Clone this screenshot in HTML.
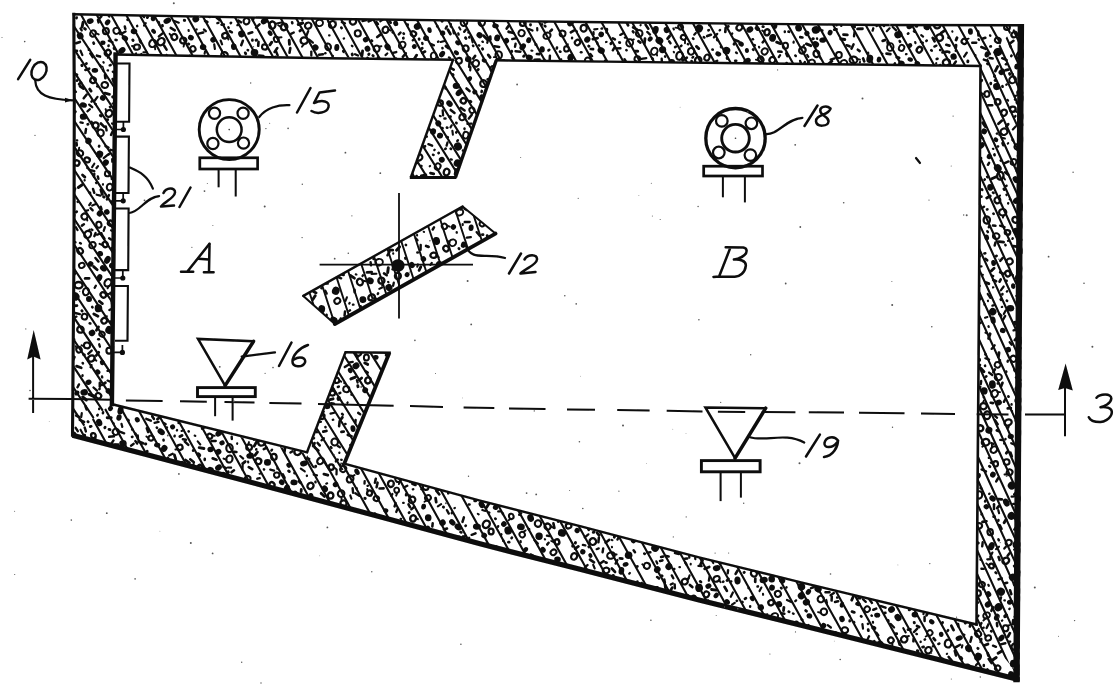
<!DOCTYPE html>
<html><head><meta charset="utf-8"><title>Fig</title>
<style>html,body{margin:0;padding:0;background:#fff;font-family:"Liberation Sans",sans-serif;}svg{display:block}</style>
</head><body>
<svg width="1114" height="686" viewBox="0 0 1114 686">
<defs>
<clipPath id="cw"><path clip-rule="evenodd" d="M73.8,14.3 L335.0,19.0 L605.0,22.3 L880.0,25.0 L1024.0,25.2 L1021.8,330.0 L1019.6,681.5 L800.0,626.9 L700.0,602.2 L580.0,571.3 L480.0,545.8 L380.0,518.8 L280.0,492.0 L150.0,457.5 L72.5,437.2 L74.0,250.0 L74.3,100.0 Z M115.0,54.5 L330.0,58.3 L453.0,59.8 L410.8,177.5 L455.4,177.5 L496.3,60.3 L605.0,61.6 L880.0,64.8 L980.5,66.0 L978.8,330.0 L976.5,624.5 L800.0,582.1 L700.0,557.6 L580.0,526.1 L480.0,500.6 L344.3,463.6 L389.4,352.8 L345.5,352.3 L307.0,452.3 L111.3,404.0 L112.9,250.0 Z"/></clipPath>
<clipPath id="cb"><path d="M303.3,295.9 L462.6,206.5 L495.5,233.6 L334.8,324.0 Z"/></clipPath>
<clipPath id="rt"><path d="M60.0,0.0 L1040.0,0.0 L980.5,66.0 L115.0,54.5 Z"/></clipPath>
<clipPath id="rl"><path d="M60.0,0.0 L115.0,54.5 L111.3,404.0 L60.0,445.0 Z"/></clipPath>
<clipPath id="rr"><path d="M1040.0,0.0 L1040.0,700.0 L976.5,624.5 L980.5,66.0 Z"/></clipPath>
<clipPath id="rf"><path d="M60.0,445.0 L111.3,404.0 L976.5,624.5 L1040.0,700.0 Z"/></clipPath>
<filter id="bl" x="0" y="0" width="100%" height="100%" filterUnits="userSpaceOnUse"><feGaussianBlur stdDeviation="0.55"/></filter>
</defs>
<rect width="1114" height="686" fill="#fff"/>
<g filter="url(#bl)">
<g clip-path="url(#cw)"><g clip-path="url(#rt)" stroke="#0a0a0a" stroke-width="2.1" fill="none">
<path d="M-51.0,0 L59.9,200 M-34.4,0 L76.5,200 M-20.2,0 L90.7,200 M-5.4,0 L105.4,200 M10.9,0 L121.8,200 M25.7,0 L136.5,200 M40.5,0 L151.3,200 M58.0,0 L168.8,200 M72.9,0 L183.7,200 M88.5,0 L199.4,200 M102.9,0 L213.7,200 M117.9,0 L228.8,200 M131.3,0 L242.2,200 M145.6,0 L256.5,200 M161.8,0 L272.7,200 M178.1,0 L289.0,200 M193.7,0 L304.6,200 M209.3,0 L320.2,200 M225.4,0 L336.3,200 M241.5,0 L352.4,200 M256.0,0 L366.9,200 M270.6,0 L381.5,200 M286.0,0 L396.9,200 M301.3,0 L412.2,200 M316.6,0 L427.5,200 M330.4,0 L441.3,200 M347.2,0 L458.1,200 M362.6,0 L473.5,200 M375.5,0 L486.3,200 M392.8,0 L503.7,200 M405.9,0 L516.7,200 M422.9,0 L533.7,200 M436.8,0 L547.6,200 M451.4,0 L562.3,200 M467.3,0 L578.2,200 M481.3,0 L592.2,200 M495.6,0 L606.4,200 M511.3,0 L622.2,200 M526.9,0 L637.8,200 M542.2,0 L653.1,200 M558.8,0 L669.7,200 M573.2,0 L684.1,200 M589.2,0 L700.1,200 M605.8,0 L716.7,200 M619.7,0 L730.5,200 M636.4,0 L747.3,200 M652.5,0 L763.3,200 M666.2,0 L777.1,200 M680.0,0 L790.9,200 M695.9,0 L806.7,200 M711.7,0 L822.6,200 M728.3,0 L839.2,200 M742.6,0 L853.5,200 M757.9,0 L868.7,200 M774.1,0 L885.0,200 M788.6,0 L899.4,200 M804.3,0 L915.2,200 M819.4,0 L930.2,200 M837.4,0 L948.3,200 M851.8,0 L962.7,200 M865.3,0 L976.1,200 M882.2,0 L993.0,200 M898.0,0 L1008.9,200 M914.9,0 L1025.7,200 M928.7,0 L1039.5,200 M944.2,0 L1055.1,200 M960.1,0 L1070.9,200 M976.4,0 L1087.2,200 M991.9,0 L1102.7,200 M1004.3,0 L1115.1,200 M1020.1,0 L1130.9,200 M1033.7,0 L1144.5,200 "/></g></g>
<g clip-path="url(#cw)"><g clip-path="url(#rl)" stroke="#0a0a0a" stroke-width="2.1" fill="none">
<path d="M-244.3,0 L60.2,460 M-230.3,0 L74.2,460 M-212.5,0 L92.0,460 M-197.4,0 L107.1,460 M-183.1,0 L121.4,460 M-169.1,0 L135.4,460 M-151.1,0 L153.4,460 M-136.2,0 L168.3,460 M-119.4,0 L185.1,460 M-103.8,0 L200.7,460 M-87.8,0 L216.7,460 M-70.7,0 L233.8,460 M-54.3,0 L250.1,460 M-38.3,0 L266.2,460 M-23.0,0 L281.5,460 M-5.8,0 L298.7,460 M9.3,0 L313.8,460 M26.5,0 L331.0,460 M41.5,0 L346.0,460 M56.5,0 L361.0,460 M71.0,0 L375.4,460 M88.9,0 L393.4,460 M104.6,0 L409.0,460 M119.7,0 L424.2,460 "/></g></g>
<g clip-path="url(#cw)"><g clip-path="url(#rr)" stroke="#0a0a0a" stroke-width="2.1" fill="none">
<path d="M640.8,0 L959.9,700 M651.4,0 L970.4,700 M662.5,0 L981.5,700 M674.4,0 L993.4,700 M684.9,0 L1003.9,700 M695.3,0 L1014.3,700 M706.0,0 L1025.0,700 M715.6,0 L1034.6,700 M726.3,0 L1045.4,700 M737.8,0 L1056.8,700 M747.7,0 L1066.7,700 M759.0,0 L1078.0,700 M769.7,0 L1088.7,700 M781.6,0 L1100.6,700 M793.3,0 L1112.3,700 M802.9,0 L1121.9,700 M812.0,0 L1131.0,700 M824.3,0 L1143.3,700 M835.4,0 L1154.4,700 M846.1,0 L1165.1,700 M856.3,0 L1175.3,700 M865.8,0 L1184.8,700 M877.2,0 L1196.2,700 M887.0,0 L1206.0,700 M900.0,0 L1219.0,700 M908.3,0 L1227.3,700 M919.7,0 L1238.7,700 M928.8,0 L1247.8,700 M938.6,0 L1257.6,700 M949.2,0 L1268.2,700 M960.0,0 L1279.0,700 M970.4,0 L1289.4,700 M978.7,0 L1297.7,700 M989.4,0 L1308.4,700 M999.8,0 L1318.9,700 M1011.2,0 L1330.3,700 M1022.6,0 L1341.7,700 M1032.0,0 L1351.0,700 "/></g></g>
<g clip-path="url(#cw)"><g clip-path="url(#rf)" stroke="#0a0a0a" stroke-width="2.1" fill="none">
<path d="M-118.6,380 L58.8,700 M-99.9,380 L77.4,700 M-84.8,380 L92.6,700 M-67.1,380 L110.3,700 M-50.3,380 L127.1,700 M-33.2,380 L144.2,700 M-14.2,380 L163.1,700 M1.8,380 L179.2,700 M17.4,380 L194.8,700 M35.5,380 L212.9,700 M52.9,380 L230.3,700 M71.3,380 L248.6,700 M89.1,380 L266.5,700 M105.3,380 L282.7,700 M121.8,380 L299.2,700 M139.4,380 L316.8,700 M155.9,380 L333.3,700 M175.7,380 L353.1,700 M192.8,380 L370.1,700 M209.9,380 L387.3,700 M229.2,380 L406.6,700 M244.0,380 L421.4,700 M262.0,380 L439.3,700 M279.5,380 L456.8,700 M296.1,380 L473.5,700 M312.0,380 L489.4,700 M327.1,380 L504.5,700 M344.4,380 L521.7,700 M361.4,380 L538.8,700 M379.7,380 L557.1,700 M397.4,380 L574.8,700 M414.4,380 L591.8,700 M428.7,380 L606.1,700 M445.9,380 L623.3,700 M464.3,380 L641.7,700 M481.8,380 L659.2,700 M497.7,380 L675.1,700 M515.7,380 L693.1,700 M532.1,380 L709.5,700 M551.8,380 L729.2,700 M567.9,380 L745.3,700 M584.1,380 L761.5,700 M601.3,380 L778.7,700 M618.0,380 L795.4,700 M633.7,380 L811.1,700 M651.8,380 L829.2,700 M669.1,380 L846.5,700 M684.7,380 L862.1,700 M702.5,380 L879.9,700 M718.9,380 L896.2,700 M735.4,380 L912.8,700 M753.9,380 L931.3,700 M771.1,380 L948.5,700 M787.0,380 L964.3,700 M806.0,380 L983.4,700 M821.8,380 L999.1,700 M836.2,380 L1013.6,700 M853.7,380 L1031.1,700 M869.5,380 L1046.9,700 M886.2,380 L1063.6,700 M903.8,380 L1081.2,700 M921.1,380 L1098.5,700 M938.1,380 L1115.5,700 M954.6,380 L1131.9,700 M971.7,380 L1149.1,700 M987.1,380 L1164.5,700 M1005.5,380 L1182.9,700 M1023.1,380 L1200.4,700 M1040.3,380 L1217.7,700 "/></g></g>
<clipPath id="pt"><path d="M453.0,59.8 L410.8,177.5 L455.4,177.5 L496.3,60.3 Z"/></clipPath>
<clipPath id="pb"><path d="M345.5,352.3 L307.0,452.3 L307.0,466.3 L348.3,477.6 L344.3,463.6 L389.4,352.8 Z"/></clipPath>
<g clip-path="url(#cw)"><g clip-path="url(#pt)" stroke="#0a0a0a" stroke-width="2.1" fill="none">
<path d="M319.3,50 L400.6,180 M335.0,50 L416.2,180 M347.6,50 L428.9,180 M362.9,50 L444.1,180 M380.2,50 L461.4,180 M392.3,50 L473.5,180 M407.4,50 L488.6,180 M422.3,50 L503.5,180 M436.5,50 L517.7,180 M449.2,50 L530.4,180 M463.2,50 L544.4,180 M478.6,50 L559.8,180 M494.7,50 L576.0,180 "/></g></g>
<g clip-path="url(#cw)"><g clip-path="url(#pb)" stroke="#0a0a0a" stroke-width="2.1" fill="none">
<path d="M221.9,345 L300.0,470 M237.0,345 L315.1,470 M251.2,345 L329.3,470 M264.5,345 L342.6,470 M278.9,345 L357.0,470 M293.5,345 L371.6,470 M306.2,345 L384.4,470 M321.6,345 L399.7,470 M337.5,345 L415.6,470 M348.9,345 L427.1,470 M365.5,345 L443.6,470 M380.3,345 L458.4,470 "/></g></g>
<g clip-path="url(#cb)"><g stroke="#0a0a0a" stroke-width="1.9" fill="none">
<path d="M246.3,190 L295.0,340 M261.9,190 L310.6,340 M276.2,190 L324.9,340 M291.2,190 L339.9,340 M308.2,190 L356.9,340 M321.8,190 L370.5,340 M337.2,190 L386.0,340 M352.4,190 L401.2,340 M368.3,190 L417.0,340 M384.6,190 L433.4,340 M399.7,190 L448.5,340 M416.4,190 L465.1,340 M430.6,190 L479.4,340 M448.8,190 L497.6,340 M465.4,190 L514.1,340 M480.8,190 L529.6,340 M496.9,190 L545.6,340 "/></g></g>
<g clip-path="url(#cw)" stroke="#0a0a0a" fill="none" stroke-linecap="round">
<ellipse cx="760.8" cy="59.4" rx="2.8" ry="2.5" stroke-width="2.3" transform="rotate(59 760.8 59.4)"/>
<path d="M758.2,60.3 l-2.3,-0.6" stroke-width="1.9"/>
<ellipse cx="80.1" cy="251.0" rx="3.0" ry="2.7" stroke-width="2.1" transform="rotate(52 80.1 251.0)"/>
<ellipse cx="1007.0" cy="27.3" rx="2.9" ry="2.6" stroke-width="2.1" transform="rotate(2 1007.0 27.3)"/>
<ellipse cx="994.6" cy="393.7" rx="3.2" ry="3.8" stroke-width="2.0" transform="rotate(31 994.6 393.7)"/>
<path d="M997.3,392.0 l2.7,0.1" stroke-width="1.9"/>
<ellipse cx="843.9" cy="63.2" rx="3.1" ry="3.4" stroke-width="2.0" transform="rotate(83 843.9 63.2)"/>
<path d="M846.5,64.9 l0.9,2.1" stroke-width="1.9"/>
<ellipse cx="654.3" cy="51.3" rx="3.1" ry="3.7" stroke-width="1.9" transform="rotate(30 654.3 51.3)"/>
<path d="M656.6,53.4 l0.5,2.1" stroke-width="1.9"/>
<ellipse cx="341.1" cy="493.6" rx="3.2" ry="3.4" stroke-width="2.1" transform="rotate(35 341.1 493.6)"/>
<ellipse cx="353.0" cy="21.4" rx="3.1" ry="3.2" stroke-width="2.3" transform="rotate(65 353.0 21.4)"/>
<ellipse cx="304.2" cy="40.7" rx="3.3" ry="3.6" stroke-width="2.3" transform="rotate(81 304.2 40.7)"/>
<path d="M304.1,44.0 l-2.1,2.7" stroke-width="1.9"/>
<ellipse cx="785.4" cy="45.7" rx="2.6" ry="3.0" stroke-width="2.0" transform="rotate(4 785.4 45.7)"/>
<ellipse cx="1015.3" cy="646.7" rx="3.2" ry="3.8" stroke-width="2.3" transform="rotate(72 1015.3 646.7)"/>
<ellipse cx="1000.3" cy="175.8" rx="3.2" ry="3.9" stroke-width="2.3" transform="rotate(7 1000.3 175.8)"/>
<path d="M1003.3,177.0 l1.7,2.6" stroke-width="1.9"/>
<ellipse cx="1005.8" cy="560.8" rx="2.9" ry="3.5" stroke-width="2.4" transform="rotate(57 1005.8 560.8)"/>
<ellipse cx="264.7" cy="47.0" rx="2.7" ry="2.6" stroke-width="2.1" transform="rotate(7 264.7 47.0)"/>
<ellipse cx="107.8" cy="52.8" rx="2.6" ry="3.1" stroke-width="2.3" transform="rotate(51 107.8 52.8)"/>
<path d="M108.5,55.3 l-0.8,2.5" stroke-width="1.9"/>
<ellipse cx="587.8" cy="60.7" rx="3.0" ry="3.3" stroke-width="2.0" transform="rotate(0 587.8 60.7)"/>
<ellipse cx="811.4" cy="63.1" rx="3.2" ry="3.8" stroke-width="2.0" transform="rotate(53 811.4 63.1)"/>
<ellipse cx="273.9" cy="456.9" rx="3.0" ry="2.7" stroke-width="2.3" transform="rotate(85 273.9 456.9)"/>
<ellipse cx="412.1" cy="499.9" rx="3.0" ry="3.4" stroke-width="2.2" transform="rotate(45 412.1 499.9)"/>
<path d="M410.1,497.6 l-0.2,-2.5" stroke-width="1.9"/>
<ellipse cx="948.1" cy="643.6" rx="3.3" ry="3.9" stroke-width="2.2" transform="rotate(6 948.1 643.6)"/>
<ellipse cx="91.3" cy="358.5" rx="3.0" ry="3.5" stroke-width="2.4" transform="rotate(59 91.3 358.5)"/>
<path d="M94.2,358.8 l2.2,1.9" stroke-width="1.9"/>
<ellipse cx="993.9" cy="449.6" rx="3.0" ry="3.6" stroke-width="2.2" transform="rotate(46 993.9 449.6)"/>
<path d="M992.0,447.2 l-0.1,-2.5" stroke-width="1.9"/>
<ellipse cx="838.9" cy="55.0" rx="2.9" ry="3.0" stroke-width="2.0" transform="rotate(4 838.9 55.0)"/>
<ellipse cx="592.8" cy="541.6" rx="3.3" ry="3.4" stroke-width="2.3" transform="rotate(50 592.8 541.6)"/>
<ellipse cx="774.6" cy="616.2" rx="2.9" ry="3.6" stroke-width="1.9" transform="rotate(72 774.6 616.2)"/>
<path d="M774.2,619.1 l-2.1,2.2" stroke-width="1.9"/>
<ellipse cx="151.0" cy="438.1" rx="2.6" ry="2.5" stroke-width="2.1" transform="rotate(15 151.0 438.1)"/>
<path d="M148.4,438.0 l-2.0,-1.6" stroke-width="1.9"/>
<ellipse cx="568.6" cy="525.9" rx="2.5" ry="2.8" stroke-width="2.2" transform="rotate(73 568.6 525.9)"/>
<ellipse cx="995.7" cy="463.8" rx="2.7" ry="2.3" stroke-width="2.1" transform="rotate(88 995.7 463.8)"/>
<path d="M993.0,464.0 l-2.4,-1.4" stroke-width="1.9"/>
<ellipse cx="867.1" cy="609.2" rx="2.7" ry="2.9" stroke-width="1.9" transform="rotate(44 867.1 609.2)"/>
<ellipse cx="985.6" cy="442.3" rx="3.3" ry="3.8" stroke-width="2.3" transform="rotate(76 985.6 442.3)"/>
<path d="M984.4,445.3 l-2.1,1.4" stroke-width="1.9"/>
<ellipse cx="472.0" cy="110.2" rx="2.8" ry="2.6" stroke-width="1.9" transform="rotate(68 472.0 110.2)"/>
<ellipse cx="179.8" cy="447.4" rx="2.6" ry="2.8" stroke-width="2.2" transform="rotate(77 179.8 447.4)"/>
<path d="M177.8,449.2 l-2.4,0.3" stroke-width="1.9"/>
<ellipse cx="104.8" cy="85.0" rx="3.3" ry="2.9" stroke-width="2.1" transform="rotate(8 104.8 85.0)"/>
<ellipse cx="295.1" cy="494.0" rx="2.5" ry="2.2" stroke-width="2.0" transform="rotate(58 295.1 494.0)"/>
<ellipse cx="368.0" cy="380.4" rx="2.8" ry="3.1" stroke-width="2.4" transform="rotate(26 368.0 380.4)"/>
<ellipse cx="80.4" cy="329.6" rx="3.2" ry="3.1" stroke-width="2.3" transform="rotate(11 80.4 329.6)"/>
<ellipse cx="983.5" cy="406.2" rx="3.1" ry="3.3" stroke-width="2.2" transform="rotate(88 983.5 406.2)"/>
<path d="M982.8,403.1 l1.1,-2.6" stroke-width="1.9"/>
<ellipse cx="81.8" cy="265.4" rx="2.5" ry="2.9" stroke-width="1.9" transform="rotate(63 81.8 265.4)"/>
<ellipse cx="458.9" cy="60.8" rx="2.9" ry="3.0" stroke-width="2.0" transform="rotate(83 458.9 60.8)"/>
<ellipse cx="464.0" cy="22.4" rx="3.2" ry="3.6" stroke-width="2.0" transform="rotate(22 464.0 22.4)"/>
<ellipse cx="1008.7" cy="542.7" rx="2.8" ry="3.2" stroke-width="2.2" transform="rotate(52 1008.7 542.7)"/>
<ellipse cx="87.7" cy="234.4" rx="3.2" ry="3.8" stroke-width="2.2" transform="rotate(37 87.7 234.4)"/>
<path d="M88.1,231.3 l1.7,-1.9" stroke-width="1.9"/>
<ellipse cx="557.0" cy="541.9" rx="2.7" ry="2.3" stroke-width="2.4" transform="rotate(75 557.0 541.9)"/>
<path d="M554.3,542.4 l-3.1,-1.4" stroke-width="1.9"/>
<ellipse cx="1013.4" cy="358.8" rx="3.1" ry="3.0" stroke-width="2.1" transform="rotate(37 1013.4 358.8)"/>
<path d="M1016.0,360.3 l0.9,1.8" stroke-width="1.9"/>
<ellipse cx="753.9" cy="573.5" rx="3.2" ry="2.9" stroke-width="2.2" transform="rotate(52 753.9 573.5)"/>
<path d="M756.9,572.5 l2.4,0.7" stroke-width="1.9"/>
<ellipse cx="100.6" cy="133.0" rx="3.2" ry="3.4" stroke-width="2.0" transform="rotate(3 100.6 133.0)"/>
<path d="M98.3,130.8 l-0.6,-2.7" stroke-width="1.9"/>
<ellipse cx="683.5" cy="37.4" rx="2.7" ry="2.4" stroke-width="2.1" transform="rotate(25 683.5 37.4)"/>
<path d="M685.0,39.7 l-0.0,3.5" stroke-width="1.9"/>
<ellipse cx="987.1" cy="415.3" rx="3.2" ry="3.9" stroke-width="2.2" transform="rotate(6 987.1 415.3)"/>
<ellipse cx="376.6" cy="48.7" rx="3.2" ry="3.0" stroke-width="2.0" transform="rotate(87 376.6 48.7)"/>
<path d="M378.9,46.6 l2.5,-0.4" stroke-width="1.9"/>
<ellipse cx="763.7" cy="616.9" rx="2.6" ry="2.5" stroke-width="2.0" transform="rotate(55 763.7 616.9)"/>
<path d="M765.2,614.8 l2.2,-0.7" stroke-width="1.9"/>
<ellipse cx="637.3" cy="58.9" rx="2.8" ry="2.7" stroke-width="2.0" transform="rotate(12 637.3 58.9)"/>
<ellipse cx="941.2" cy="661.5" rx="2.7" ry="3.2" stroke-width="2.0" transform="rotate(50 941.2 661.5)"/>
<ellipse cx="706.4" cy="594.3" rx="2.7" ry="2.9" stroke-width="2.1" transform="rotate(30 706.4 594.3)"/>
<ellipse cx="629.7" cy="42.8" rx="3.3" ry="3.7" stroke-width="2.0" transform="rotate(25 629.7 42.8)"/>
<path d="M631.7,40.2 l2.2,-0.8" stroke-width="1.9"/>
<ellipse cx="334.7" cy="442.0" rx="3.3" ry="3.5" stroke-width="2.1" transform="rotate(6 334.7 442.0)"/>
<ellipse cx="577.5" cy="42.5" rx="2.5" ry="2.8" stroke-width="2.1" transform="rotate(49 577.5 42.5)"/>
<ellipse cx="336.8" cy="380.3" rx="2.7" ry="2.4" stroke-width="2.1" transform="rotate(71 336.8 380.3)"/>
<path d="M339.5,380.4 l1.8,1.3" stroke-width="1.9"/>
<ellipse cx="1014.3" cy="34.6" rx="2.6" ry="3.0" stroke-width="2.2" transform="rotate(60 1014.3 34.6)"/>
<path d="M1016.7,33.9 l1.9,0.7" stroke-width="1.9"/>
<ellipse cx="511.3" cy="516.4" rx="2.7" ry="2.3" stroke-width="2.0" transform="rotate(76 511.3 516.4)"/>
<path d="M510.4,519.0 l-1.8,1.3" stroke-width="1.9"/>
<ellipse cx="491.1" cy="531.5" rx="2.9" ry="2.5" stroke-width="2.3" transform="rotate(87 491.1 531.5)"/>
<ellipse cx="547.0" cy="35.7" rx="3.0" ry="3.7" stroke-width="2.0" transform="rotate(63 547.0 35.7)"/>
<ellipse cx="87.0" cy="345.4" rx="3.1" ry="2.9" stroke-width="2.1" transform="rotate(7 87.0 345.4)"/>
<path d="M84.0,346.2 l-2.5,-0.9" stroke-width="1.9"/>
<ellipse cx="110.5" cy="223.2" rx="2.6" ry="2.5" stroke-width="2.3" transform="rotate(37 110.5 223.2)"/>
<ellipse cx="222.8" cy="476.1" rx="3.2" ry="3.9" stroke-width="2.0" transform="rotate(78 222.8 476.1)"/>
<ellipse cx="418.4" cy="157.4" rx="3.3" ry="4.0" stroke-width="2.2" transform="rotate(79 418.4 157.4)"/>
<path d="M415.4,156.0 l-1.1,-1.8" stroke-width="1.9"/>
<ellipse cx="997.8" cy="40.3" rx="2.9" ry="2.5" stroke-width="2.1" transform="rotate(26 997.8 40.3)"/>
<ellipse cx="538.0" cy="523.6" rx="3.2" ry="3.3" stroke-width="2.1" transform="rotate(7 538.0 523.6)"/>
<ellipse cx="1012.8" cy="109.2" rx="2.6" ry="2.9" stroke-width="2.3" transform="rotate(87 1012.8 109.2)"/>
<path d="M1015.2,110.2 l1.2,1.8" stroke-width="1.9"/>
<ellipse cx="107.5" cy="173.7" rx="2.6" ry="2.6" stroke-width="2.0" transform="rotate(9 107.5 173.7)"/>
<ellipse cx="475.8" cy="63.4" rx="3.2" ry="3.4" stroke-width="2.0" transform="rotate(35 475.8 63.4)"/>
<ellipse cx="1008.1" cy="422.5" rx="3.0" ry="3.7" stroke-width="2.2" transform="rotate(69 1008.1 422.5)"/>
<path d="M1009.0,425.4 l-0.7,2.5" stroke-width="1.9"/>
<ellipse cx="107.9" cy="282.8" rx="3.2" ry="3.9" stroke-width="2.2" transform="rotate(33 107.9 282.8)"/>
<path d="M108.6,286.0 l-1.0,2.3" stroke-width="1.9"/>
<ellipse cx="691.2" cy="51.3" rx="3.2" ry="3.4" stroke-width="2.1" transform="rotate(27 691.2 51.3)"/>
<path d="M694.3,51.9 l2.3,2.3" stroke-width="1.9"/>
<ellipse cx="398.1" cy="478.8" rx="3.2" ry="2.9" stroke-width="1.9" transform="rotate(73 398.1 478.8)"/>
<path d="M399.4,481.8 l-0.5,2.3" stroke-width="1.9"/>
<ellipse cx="1019.6" cy="468.4" rx="3.3" ry="3.5" stroke-width="2.3" transform="rotate(71 1019.6 468.4)"/>
<path d="M1019.8,465.1 l1.5,-1.9" stroke-width="1.9"/>
<ellipse cx="332.4" cy="24.5" rx="3.2" ry="3.6" stroke-width="2.3" transform="rotate(44 332.4 24.5)"/>
<path d="M329.4,23.4 l-1.2,-1.7" stroke-width="1.9"/>
<ellipse cx="937.2" cy="25.7" rx="3.1" ry="2.7" stroke-width="2.3" transform="rotate(5 937.2 25.7)"/>
<ellipse cx="566.5" cy="48.9" rx="2.7" ry="2.4" stroke-width="2.0" transform="rotate(86 566.5 48.9)"/>
<path d="M566.5,46.2 l1.4,-1.9" stroke-width="1.9"/>
<ellipse cx="446.6" cy="172.1" rx="2.8" ry="3.4" stroke-width="2.3" transform="rotate(22 446.6 172.1)"/>
<ellipse cx="109.0" cy="113.4" rx="3.2" ry="3.6" stroke-width="2.2" transform="rotate(41 109.0 113.4)"/>
<path d="M106.4,111.4 l-0.8,-2.3" stroke-width="1.9"/>
<ellipse cx="639.2" cy="33.4" rx="3.3" ry="3.3" stroke-width="2.0" transform="rotate(28 639.2 33.4)"/>
<ellipse cx="276.3" cy="39.3" rx="2.7" ry="2.4" stroke-width="2.0" transform="rotate(70 276.3 39.3)"/>
<path d="M278.3,37.6 l3.2,-0.3" stroke-width="1.9"/>
<ellipse cx="93.4" cy="435.6" rx="2.5" ry="2.3" stroke-width="2.3" transform="rotate(76 93.4 435.6)"/>
<path d="M95.3,437.4 l0.5,2.6" stroke-width="1.9"/>
<ellipse cx="611.0" cy="555.5" rx="3.2" ry="3.9" stroke-width="2.0" transform="rotate(73 611.0 555.5)"/>
<path d="M613.9,554.1 l2.7,0.4" stroke-width="1.9"/>
<ellipse cx="1002.7" cy="212.3" rx="3.3" ry="3.6" stroke-width="2.2" transform="rotate(87 1002.7 212.3)"/>
<path d="M1003.6,215.4 l-0.7,2.2" stroke-width="1.9"/>
<ellipse cx="276.7" cy="475.1" rx="2.6" ry="2.7" stroke-width="2.0" transform="rotate(82 276.7 475.1)"/>
<ellipse cx="229.4" cy="459.0" rx="3.1" ry="3.6" stroke-width="2.1" transform="rotate(18 229.4 459.0)"/>
<path d="M226.3,459.7 l-2.8,-1.1" stroke-width="1.9"/>
<ellipse cx="739.4" cy="27.5" rx="2.7" ry="3.1" stroke-width="2.2" transform="rotate(38 739.4 27.5)"/>
<ellipse cx="92.5" cy="245.2" rx="2.9" ry="3.4" stroke-width="2.0" transform="rotate(47 92.5 245.2)"/>
<ellipse cx="320.4" cy="460.9" rx="2.9" ry="3.5" stroke-width="2.2" transform="rotate(45 320.4 460.9)"/>
<ellipse cx="939.6" cy="37.6" rx="3.3" ry="3.4" stroke-width="2.4" transform="rotate(79 939.6 37.6)"/>
<path d="M936.5,38.9 l-2.1,-0.5" stroke-width="1.9"/>
<ellipse cx="1004.0" cy="112.7" rx="2.8" ry="3.2" stroke-width="2.3" transform="rotate(29 1004.0 112.7)"/>
<ellipse cx="606.1" cy="570.5" rx="2.8" ry="3.3" stroke-width="2.2" transform="rotate(81 606.1 570.5)"/>
<ellipse cx="996.2" cy="236.1" rx="2.8" ry="3.3" stroke-width="2.0" transform="rotate(86 996.2 236.1)"/>
<ellipse cx="369.6" cy="493.1" rx="2.5" ry="2.6" stroke-width="2.3" transform="rotate(21 369.6 493.1)"/>
<path d="M367.7,491.4 l-0.5,-2.4" stroke-width="1.9"/>
<ellipse cx="991.5" cy="566.0" rx="2.5" ry="2.3" stroke-width="2.3" transform="rotate(23 991.5 566.0)"/>
<path d="M989.0,565.7 l-2.7,-2.3" stroke-width="1.9"/>
<ellipse cx="901.6" cy="47.9" rx="2.6" ry="3.1" stroke-width="1.9" transform="rotate(25 901.6 47.9)"/>
<ellipse cx="246.5" cy="21.2" rx="2.9" ry="3.2" stroke-width="2.1" transform="rotate(20 246.5 21.2)"/>
<ellipse cx="997.7" cy="101.9" rx="2.8" ry="2.7" stroke-width="2.3" transform="rotate(78 997.7 101.9)"/>
<ellipse cx="183.2" cy="40.5" rx="2.9" ry="3.1" stroke-width="2.3" transform="rotate(76 183.2 40.5)"/>
<path d="M184.3,43.2 l-0.7,3.4" stroke-width="1.9"/>
<ellipse cx="343.5" cy="503.4" rx="3.0" ry="3.0" stroke-width="2.2" transform="rotate(75 343.5 503.4)"/>
<path d="M341.6,501.0 l-0.1,-2.7" stroke-width="1.9"/>
<ellipse cx="1019.9" cy="92.7" rx="2.7" ry="2.5" stroke-width="2.0" transform="rotate(56 1019.9 92.7)"/>
<path d="M1018.3,94.9 l-3.1,1.1" stroke-width="1.9"/>
<ellipse cx="385.5" cy="29.8" rx="2.9" ry="3.2" stroke-width="2.2" transform="rotate(22 385.5 29.8)"/>
<path d="M388.4,29.4 l2.5,1.2" stroke-width="1.9"/>
<ellipse cx="1007.8" cy="273.6" rx="2.8" ry="2.6" stroke-width="2.3" transform="rotate(55 1007.8 273.6)"/>
<path d="M1010.6,273.5 l2.5,1.5" stroke-width="1.9"/>
<ellipse cx="95.6" cy="125.5" rx="3.0" ry="3.0" stroke-width="2.4" transform="rotate(50 95.6 125.5)"/>
<path d="M93.0,124.1 l-1.3,-2.5" stroke-width="1.9"/>
<ellipse cx="413.1" cy="518.4" rx="2.9" ry="3.2" stroke-width="2.4" transform="rotate(24 413.1 518.4)"/>
<path d="M416.1,518.2 l1.8,1.0" stroke-width="1.9"/>
<ellipse cx="366.4" cy="357.6" rx="2.5" ry="3.0" stroke-width="2.0" transform="rotate(3 366.4 357.6)"/>
<ellipse cx="80.0" cy="153.2" rx="3.2" ry="2.9" stroke-width="2.1" transform="rotate(21 80.0 153.2)"/>
<path d="M78.7,150.2 l0.5,-2.5" stroke-width="1.9"/>
<ellipse cx="574.1" cy="556.4" rx="2.9" ry="3.4" stroke-width="2.2" transform="rotate(30 574.1 556.4)"/>
<ellipse cx="1012.6" cy="79.8" rx="3.2" ry="3.6" stroke-width="2.0" transform="rotate(47 1012.6 79.8)"/>
<path d="M1012.0,76.6 l1.1,-2.4" stroke-width="1.9"/>
<ellipse cx="79.0" cy="349.7" rx="2.8" ry="2.7" stroke-width="2.0" transform="rotate(62 79.0 349.7)"/>
<path d="M76.6,348.2 l-0.9,-2.0" stroke-width="1.9"/>
<ellipse cx="331.3" cy="467.1" rx="2.7" ry="2.5" stroke-width="2.2" transform="rotate(88 331.3 467.1)"/>
<path d="M334.0,467.3 l2.7,2.1" stroke-width="1.9"/>
<ellipse cx="437.7" cy="166.6" rx="2.7" ry="3.3" stroke-width="1.9" transform="rotate(30 437.7 166.6)"/>
<ellipse cx="562.6" cy="33.6" rx="2.9" ry="3.0" stroke-width="2.0" transform="rotate(10 562.6 33.6)"/>
<ellipse cx="1020.0" cy="55.6" rx="3.3" ry="3.9" stroke-width="2.0" transform="rotate(5 1020.0 55.6)"/>
<ellipse cx="105.2" cy="244.4" rx="2.7" ry="2.5" stroke-width="2.3" transform="rotate(57 105.2 244.4)"/>
<path d="M102.6,245.0 l-3.1,-1.2" stroke-width="1.9"/>
<ellipse cx="258.4" cy="461.2" rx="2.9" ry="2.8" stroke-width="2.3" transform="rotate(25 258.4 461.2)"/>
<ellipse cx="481.8" cy="22.3" rx="3.2" ry="3.7" stroke-width="2.0" transform="rotate(13 481.8 22.3)"/>
<ellipse cx="209.8" cy="436.2" rx="2.6" ry="2.4" stroke-width="2.2" transform="rotate(32 209.8 436.2)"/>
<path d="M212.2,435.3 l2.6,0.6" stroke-width="1.9"/>
<ellipse cx="498.7" cy="55.1" rx="3.2" ry="3.9" stroke-width="2.1" transform="rotate(1 498.7 55.1)"/>
<path d="M496.1,57.0 l-2.2,0.1" stroke-width="1.9"/>
<ellipse cx="350.1" cy="479.0" rx="3.0" ry="3.7" stroke-width="2.2" transform="rotate(40 350.1 479.0)"/>
<path d="M351.6,476.4 l3.0,-1.3" stroke-width="1.9"/>
<ellipse cx="463.4" cy="100.8" rx="2.7" ry="2.7" stroke-width="2.3" transform="rotate(38 463.4 100.8)"/>
<ellipse cx="428.0" cy="497.9" rx="2.6" ry="3.0" stroke-width="2.0" transform="rotate(51 428.0 497.9)"/>
<path d="M426.9,500.3 l-2.4,1.4" stroke-width="1.9"/>
<ellipse cx="928.4" cy="650.2" rx="3.1" ry="3.3" stroke-width="2.2" transform="rotate(47 928.4 650.2)"/>
<ellipse cx="997.7" cy="668.2" rx="2.6" ry="2.7" stroke-width="2.0" transform="rotate(38 997.7 668.2)"/>
<path d="M995.6,666.7 l-0.8,-2.0" stroke-width="1.9"/>
<ellipse cx="1018.9" cy="277.5" rx="2.8" ry="3.0" stroke-width="2.4" transform="rotate(50 1018.9 277.5)"/>
<path d="M1020.9,279.5 l0.3,2.0" stroke-width="1.9"/>
<ellipse cx="229.5" cy="448.1" rx="3.2" ry="4.0" stroke-width="2.1" transform="rotate(1 229.5 448.1)"/>
<ellipse cx="358.3" cy="352.9" rx="2.9" ry="2.7" stroke-width="2.2" transform="rotate(59 358.3 352.9)"/>
<path d="M358.6,355.8 l-1.5,2.8" stroke-width="1.9"/>
<ellipse cx="465.7" cy="48.5" rx="3.1" ry="2.9" stroke-width="2.2" transform="rotate(72 465.7 48.5)"/>
<ellipse cx="997.6" cy="364.8" rx="2.9" ry="2.7" stroke-width="1.9" transform="rotate(24 997.6 364.8)"/>
<path d="M998.3,361.9 l2.0,-1.8" stroke-width="1.9"/>
<ellipse cx="684.8" cy="581.6" rx="2.8" ry="3.1" stroke-width="2.2" transform="rotate(61 684.8 581.6)"/>
<path d="M686.3,579.3 l2.6,-1.1" stroke-width="1.9"/>
<ellipse cx="78.6" cy="285.2" rx="3.2" ry="4.0" stroke-width="2.3" transform="rotate(88 78.6 285.2)"/>
<ellipse cx="343.2" cy="468.9" rx="2.9" ry="3.2" stroke-width="1.9" transform="rotate(36 343.2 468.9)"/>
<path d="M341.0,467.0 l-0.7,-2.7" stroke-width="1.9"/>
<ellipse cx="115.8" cy="431.8" rx="3.0" ry="3.1" stroke-width="2.0" transform="rotate(38 115.8 431.8)"/>
<ellipse cx="680.6" cy="27.0" rx="2.5" ry="2.3" stroke-width="2.1" transform="rotate(64 680.6 27.0)"/>
<path d="M678.3,28.1 l-2.9,-0.5" stroke-width="1.9"/>
<ellipse cx="946.4" cy="62.4" rx="3.1" ry="3.6" stroke-width="2.3" transform="rotate(74 946.4 62.4)"/>
<ellipse cx="772.4" cy="60.0" rx="2.9" ry="2.9" stroke-width="2.2" transform="rotate(40 772.4 60.0)"/>
<path d="M772.0,62.9 l-1.5,1.8" stroke-width="1.9"/>
<ellipse cx="521.6" cy="33.1" rx="3.1" ry="3.2" stroke-width="2.0" transform="rotate(35 521.6 33.1)"/>
<ellipse cx="440.9" cy="535.2" rx="2.9" ry="3.4" stroke-width="1.9" transform="rotate(9 440.9 535.2)"/>
<ellipse cx="1007.5" cy="232.4" rx="2.7" ry="2.3" stroke-width="2.3" transform="rotate(8 1007.5 232.4)"/>
<ellipse cx="979.0" cy="525.9" rx="2.8" ry="3.1" stroke-width="2.2" transform="rotate(79 979.0 525.9)"/>
<ellipse cx="929.8" cy="632.9" rx="2.6" ry="2.8" stroke-width="1.9" transform="rotate(48 929.8 632.9)"/>
<path d="M928.5,635.2 l-2.8,1.3" stroke-width="1.9"/>
<ellipse cx="979.2" cy="494.9" rx="3.0" ry="3.7" stroke-width="2.1" transform="rotate(7 979.2 494.9)"/>
<ellipse cx="308.2" cy="25.7" rx="3.0" ry="3.3" stroke-width="2.2" transform="rotate(61 308.2 25.7)"/>
<ellipse cx="698.2" cy="60.2" rx="3.1" ry="3.3" stroke-width="2.3" transform="rotate(23 698.2 60.2)"/>
<ellipse cx="1015.3" cy="219.9" rx="3.1" ry="2.7" stroke-width="2.3" transform="rotate(47 1015.3 219.9)"/>
<ellipse cx="707.0" cy="57.6" rx="2.5" ry="3.1" stroke-width="2.1" transform="rotate(26 707.0 57.6)"/>
<ellipse cx="98.4" cy="395.7" rx="2.9" ry="2.6" stroke-width="2.2" transform="rotate(34 98.4 395.7)"/>
<path d="M95.5,396.2 l-2.5,-1.1" stroke-width="1.9"/>
<ellipse cx="1009.6" cy="472.4" rx="2.8" ry="3.0" stroke-width="2.0" transform="rotate(32 1009.6 472.4)"/>
<path d="M1007.4,474.2 l-2.9,0.3" stroke-width="1.9"/>
<ellipse cx="390.9" cy="483.8" rx="2.9" ry="3.2" stroke-width="2.3" transform="rotate(17 390.9 483.8)"/>
<ellipse cx="967.6" cy="667.9" rx="3.0" ry="2.9" stroke-width="2.3" transform="rotate(44 967.6 667.9)"/>
<ellipse cx="978.1" cy="633.8" rx="3.1" ry="2.8" stroke-width="2.1" transform="rotate(51 978.1 633.8)"/>
<path d="M977.8,630.8 l1.0,-2.0" stroke-width="1.9"/>
<ellipse cx="890.9" cy="640.3" rx="2.8" ry="2.8" stroke-width="2.1" transform="rotate(46 890.9 640.3)"/>
<path d="M892.4,642.6 l-0.1,3.0" stroke-width="1.9"/>
<ellipse cx="93.0" cy="33.5" rx="2.7" ry="3.2" stroke-width="2.0" transform="rotate(22 93.0 33.5)"/>
<path d="M95.7,33.0 l3.0,1.4" stroke-width="1.9"/>
<ellipse cx="297.8" cy="451.7" rx="3.1" ry="3.6" stroke-width="2.4" transform="rotate(57 297.8 451.7)"/>
<path d="M295.2,450.0 l-0.8,-1.9" stroke-width="1.9"/>
<ellipse cx="440.1" cy="103.1" rx="2.8" ry="2.7" stroke-width="2.2" transform="rotate(0 440.1 103.1)"/>
<ellipse cx="433.7" cy="55.8" rx="2.9" ry="3.4" stroke-width="1.9" transform="rotate(6 433.7 55.8)"/>
<ellipse cx="988.2" cy="638.0" rx="2.6" ry="2.9" stroke-width="2.0" transform="rotate(78 988.2 638.0)"/>
<path d="M985.9,636.7 l-1.5,-2.8" stroke-width="1.9"/>
<ellipse cx="199.7" cy="467.8" rx="2.7" ry="2.9" stroke-width="2.3" transform="rotate(42 199.7 467.8)"/>
<path d="M199.8,470.4 l-1.5,2.4" stroke-width="1.9"/>
<ellipse cx="402.2" cy="45.1" rx="3.0" ry="3.7" stroke-width="1.9" transform="rotate(42 402.2 45.1)"/>
<ellipse cx="272.3" cy="25.2" rx="3.1" ry="3.7" stroke-width="2.3" transform="rotate(11 272.3 25.2)"/>
<ellipse cx="84.5" cy="216.5" rx="3.0" ry="3.0" stroke-width="2.0" transform="rotate(53 84.5 216.5)"/>
<path d="M86.8,218.5 l0.5,2.0" stroke-width="1.9"/>
<ellipse cx="109.7" cy="187.1" rx="2.9" ry="3.4" stroke-width="2.0" transform="rotate(12 109.7 187.1)"/>
<ellipse cx="997.4" cy="200.2" rx="2.9" ry="3.1" stroke-width="2.2" transform="rotate(20 997.4 200.2)"/>
<path d="M998.1,197.4 l2.0,-1.9" stroke-width="1.9"/>
<ellipse cx="493.3" cy="68.9" rx="2.9" ry="2.9" stroke-width="1.9" transform="rotate(4 493.3 68.9)"/>
<path d="M494.6,66.3 l1.9,-1.0" stroke-width="1.9"/>
<ellipse cx="1005.6" cy="628.3" rx="2.8" ry="3.0" stroke-width="2.0" transform="rotate(9 1005.6 628.3)"/>
<path d="M1007.2,626.0 l2.2,-0.8" stroke-width="1.9"/>
<ellipse cx="247.7" cy="478.5" rx="2.8" ry="2.6" stroke-width="2.0" transform="rotate(18 247.7 478.5)"/>
<path d="M249.1,481.0 l-0.3,2.9" stroke-width="1.9"/>
<ellipse cx="764.7" cy="51.4" rx="2.9" ry="3.2" stroke-width="1.9" transform="rotate(37 764.7 51.4)"/>
<ellipse cx="820.8" cy="599.1" rx="3.1" ry="3.2" stroke-width="2.1" transform="rotate(30 820.8 599.1)"/>
<ellipse cx="249.1" cy="447.3" rx="2.9" ry="2.8" stroke-width="2.1" transform="rotate(0 249.1 447.3)"/>
<path d="M248.2,444.6 l0.8,-2.5" stroke-width="1.9"/>
<ellipse cx="980.2" cy="428.2" rx="3.1" ry="3.0" stroke-width="2.4" transform="rotate(6 980.2 428.2)"/>
<ellipse cx="990.2" cy="532.2" rx="3.0" ry="2.7" stroke-width="2.1" transform="rotate(78 990.2 532.2)"/>
<ellipse cx="136.9" cy="47.1" rx="2.6" ry="3.1" stroke-width="2.1" transform="rotate(86 136.9 47.1)"/>
<path d="M134.3,47.2 l-2.3,-1.3" stroke-width="1.9"/>
<ellipse cx="986.9" cy="94.0" rx="2.9" ry="2.5" stroke-width="2.0" transform="rotate(79 986.9 94.0)"/>
<path d="M984.0,94.4 l-3.1,-1.5" stroke-width="1.9"/>
<ellipse cx="802.4" cy="50.3" rx="3.0" ry="3.4" stroke-width="2.3" transform="rotate(49 802.4 50.3)"/>
<path d="M802.5,47.3 l1.6,-2.2" stroke-width="1.9"/>
<ellipse cx="330.6" cy="495.6" rx="3.1" ry="2.8" stroke-width="2.3" transform="rotate(89 330.6 495.6)"/>
<ellipse cx="483.4" cy="83.6" rx="3.2" ry="3.4" stroke-width="2.2" transform="rotate(10 483.4 83.6)"/>
<ellipse cx="919.4" cy="49.7" rx="2.5" ry="3.0" stroke-width="2.3" transform="rotate(36 919.4 49.7)"/>
<ellipse cx="192.9" cy="48.8" rx="2.8" ry="2.6" stroke-width="2.0" transform="rotate(63 192.9 48.8)"/>
<ellipse cx="522.8" cy="23.3" rx="2.5" ry="2.8" stroke-width="2.3" transform="rotate(83 522.8 23.3)"/>
<ellipse cx="981.8" cy="584.6" rx="2.9" ry="2.6" stroke-width="2.3" transform="rotate(22 981.8 584.6)"/>
<path d="M983.2,587.1 l-0.2,2.4" stroke-width="1.9"/>
<ellipse cx="396.7" cy="490.2" rx="2.6" ry="2.4" stroke-width="1.9" transform="rotate(82 396.7 490.2)"/>
<path d="M397.3,492.8 l-1.1,2.9" stroke-width="1.9"/>
<ellipse cx="86.0" cy="291.6" rx="3.0" ry="3.7" stroke-width="2.0" transform="rotate(15 86.0 291.6)"/>
<ellipse cx="310.5" cy="485.9" rx="2.9" ry="3.3" stroke-width="2.3" transform="rotate(39 310.5 485.9)"/>
<ellipse cx="332.4" cy="393.1" rx="2.7" ry="2.4" stroke-width="2.2" transform="rotate(7 332.4 393.1)"/>
<path d="M332.3,390.4 l1.2,-1.9" stroke-width="1.9"/>
<ellipse cx="583.7" cy="28.2" rx="3.1" ry="3.4" stroke-width="2.2" transform="rotate(9 583.7 28.2)"/>
<ellipse cx="904.2" cy="639.3" rx="3.1" ry="3.3" stroke-width="2.2" transform="rotate(48 904.2 639.3)"/>
<path d="M906.1,636.9 l2.8,-0.9" stroke-width="1.9"/>
<ellipse cx="272.0" cy="484.7" rx="2.7" ry="2.4" stroke-width="2.3" transform="rotate(49 272.0 484.7)"/>
<ellipse cx="1013.6" cy="162.1" rx="2.7" ry="3.1" stroke-width="1.9" transform="rotate(22 1013.6 162.1)"/>
<ellipse cx="161.0" cy="41.7" rx="3.3" ry="3.9" stroke-width="2.3" transform="rotate(48 161.0 41.7)"/>
<ellipse cx="346.3" cy="389.2" rx="3.1" ry="3.0" stroke-width="1.9" transform="rotate(10 346.3 389.2)"/>
<ellipse cx="319.5" cy="22.9" rx="3.2" ry="3.5" stroke-width="1.9" transform="rotate(83 319.5 22.9)"/>
<ellipse cx="823.9" cy="611.8" rx="3.2" ry="3.3" stroke-width="2.1" transform="rotate(0 823.9 611.8)"/>
<path d="M820.9,612.9 l-2.9,-0.8" stroke-width="1.9"/>
<ellipse cx="284.1" cy="26.9" rx="3.1" ry="3.4" stroke-width="2.4" transform="rotate(34 284.1 26.9)"/>
<path d="M281.0,27.0 l-2.8,-1.8" stroke-width="1.9"/>
<ellipse cx="357.8" cy="33.4" rx="3.1" ry="3.0" stroke-width="2.1" transform="rotate(84 357.8 33.4)"/>
<ellipse cx="998.3" cy="377.2" rx="3.1" ry="3.6" stroke-width="2.0" transform="rotate(85 998.3 377.2)"/>
<ellipse cx="486.3" cy="524.3" rx="3.3" ry="3.9" stroke-width="2.4" transform="rotate(36 486.3 524.3)"/>
<ellipse cx="87.1" cy="159.9" rx="2.8" ry="2.4" stroke-width="2.3" transform="rotate(17 87.1 159.9)"/>
<ellipse cx="964.2" cy="41.4" rx="2.6" ry="2.5" stroke-width="2.1" transform="rotate(38 964.2 41.4)"/>
<path d="M965.8,39.4 l2.8,-0.8" stroke-width="1.9"/>
<ellipse cx="1006.6" cy="462.0" rx="2.8" ry="2.9" stroke-width="2.0" transform="rotate(82 1006.6 462.0)"/>
<ellipse cx="116.6" cy="30.8" rx="3.0" ry="3.2" stroke-width="1.9" transform="rotate(71 116.6 30.8)"/>
<path d="M119.2,32.3 l0.9,2.0" stroke-width="1.9"/>
<ellipse cx="1009.6" cy="261.5" rx="2.9" ry="3.2" stroke-width="2.0" transform="rotate(61 1009.6 261.5)"/>
<ellipse cx="547.7" cy="526.6" rx="3.0" ry="2.9" stroke-width="2.2" transform="rotate(33 547.7 526.6)"/>
<path d="M550.7,526.3 l3.0,1.6" stroke-width="1.9"/>
<ellipse cx="105.9" cy="31.1" rx="2.9" ry="2.9" stroke-width="2.2" transform="rotate(78 105.9 31.1)"/>
<ellipse cx="152.7" cy="43.4" rx="3.3" ry="3.8" stroke-width="2.1" transform="rotate(34 152.7 43.4)"/>
<path d="M154.8,45.9 l0.4,3.4" stroke-width="1.9"/>
<ellipse cx="261.7" cy="442.3" rx="3.2" ry="3.6" stroke-width="2.4" transform="rotate(67 261.7 442.3)"/>
<ellipse cx="425.7" cy="487.0" rx="2.9" ry="2.9" stroke-width="2.1" transform="rotate(6 425.7 487.0)"/>
<path d="M423.6,489.0 l-2.5,0.4" stroke-width="1.9"/>
<ellipse cx="777.9" cy="593.9" rx="3.0" ry="3.0" stroke-width="2.1" transform="rotate(71 777.9 593.9)"/>
<ellipse cx="986.6" cy="615.4" rx="2.9" ry="3.5" stroke-width="1.9" transform="rotate(60 986.6 615.4)"/>
<path d="M985.9,618.2 l-2.5,2.3" stroke-width="1.9"/>
<ellipse cx="816.4" cy="53.8" rx="3.3" ry="2.9" stroke-width="2.2" transform="rotate(80 816.4 53.8)"/>
<path d="M819.2,55.5 l1.3,2.9" stroke-width="1.9"/>
<ellipse cx="679.6" cy="55.8" rx="3.3" ry="4.0" stroke-width="2.2" transform="rotate(11 679.6 55.8)"/>
<path d="M681.9,58.1 l0.4,2.1" stroke-width="1.9"/>
<ellipse cx="225.0" cy="35.7" rx="2.7" ry="2.8" stroke-width="2.3" transform="rotate(76 225.0 35.7)"/>
<path d="M227.3,37.1 l1.2,2.4" stroke-width="1.9"/>
<ellipse cx="465.8" cy="135.2" rx="2.7" ry="3.4" stroke-width="1.9" transform="rotate(14 465.8 135.2)"/>
<path d="M467.9,136.8 l1.1,3.2" stroke-width="1.9"/>
<ellipse cx="104.2" cy="320.7" rx="2.7" ry="2.9" stroke-width="2.2" transform="rotate(51 104.2 320.7)"/>
<path d="M104.8,318.1 l2.1,-1.9" stroke-width="1.9"/>
<ellipse cx="224.5" cy="54.9" rx="3.3" ry="2.8" stroke-width="2.1" transform="rotate(9 224.5 54.9)"/>
<path d="M222.2,52.6 l-0.4,-2.1" stroke-width="1.9"/>
<ellipse cx="646.9" cy="565.8" rx="3.0" ry="3.0" stroke-width="2.1" transform="rotate(18 646.9 565.8)"/>
<path d="M643.9,565.6 l-1.6,-1.3" stroke-width="1.9"/>
<ellipse cx="321.8" cy="416.2" rx="2.6" ry="2.7" stroke-width="2.2" transform="rotate(27 321.8 416.2)"/>
<path d="M322.2,413.6 l1.8,-1.9" stroke-width="1.9"/>
<ellipse cx="1016.9" cy="544.7" rx="3.2" ry="3.4" stroke-width="2.2" transform="rotate(18 1016.9 544.7)"/>
<path d="M1016.1,547.8 l-2.2,1.9" stroke-width="1.9"/>
<ellipse cx="553.5" cy="552.3" rx="2.6" ry="3.1" stroke-width="2.0" transform="rotate(52 553.5 552.3)"/>
<ellipse cx="174.3" cy="37.0" rx="3.0" ry="2.8" stroke-width="2.2" transform="rotate(61 174.3 37.0)"/>
<path d="M171.5,36.1 l-1.9,-2.3" stroke-width="1.9"/>
<ellipse cx="376.3" cy="498.5" rx="2.6" ry="2.5" stroke-width="2.2" transform="rotate(30 376.3 498.5)"/>
<ellipse cx="109.0" cy="350.7" rx="2.9" ry="2.6" stroke-width="2.1" transform="rotate(89 109.0 350.7)"/>
<ellipse cx="978.2" cy="593.2" rx="2.7" ry="2.6" stroke-width="2.2" transform="rotate(78 978.2 593.2)"/>
<ellipse cx="716.5" cy="578.9" rx="2.7" ry="3.3" stroke-width="2.1" transform="rotate(62 716.5 578.9)"/>
<path d="M719.0,579.9 l1.6,2.4" stroke-width="1.9"/>
<ellipse cx="767.0" cy="32.3" rx="2.6" ry="3.1" stroke-width="2.4" transform="rotate(18 767.0 32.3)"/>
<path d="M764.5,32.2 l-2.3,-1.7" stroke-width="1.9"/>
<ellipse cx="84.5" cy="316.6" rx="2.8" ry="2.9" stroke-width="2.0" transform="rotate(8 84.5 316.6)"/>
<ellipse cx="103.3" cy="294.9" rx="2.9" ry="2.5" stroke-width="2.2" transform="rotate(40 103.3 294.9)"/>
<path d="M105.9,293.6 l3.3,0.4" stroke-width="1.9"/>
<ellipse cx="462.5" cy="117.0" rx="2.9" ry="3.4" stroke-width="2.1" transform="rotate(43 462.5 117.0)"/>
<ellipse cx="1018.3" cy="400.4" rx="2.8" ry="3.2" stroke-width="2.1" transform="rotate(22 1018.3 400.4)"/>
<ellipse cx="522.2" cy="534.6" rx="2.8" ry="2.7" stroke-width="1.9" transform="rotate(61 522.2 534.6)"/>
<path d="M523.2,532.0 l2.4,-1.6" stroke-width="1.9"/>
<ellipse cx="986.8" cy="220.0" rx="3.2" ry="3.7" stroke-width="2.2" transform="rotate(1 986.8 220.0)"/>
<ellipse cx="1004.0" cy="131.7" rx="3.2" ry="3.5" stroke-width="2.2" transform="rotate(70 1004.0 131.7)"/>
<path d="M1001.8,134.1 l-2.7,0.7" stroke-width="1.9"/>
<ellipse cx="413.5" cy="33.8" rx="2.7" ry="2.4" stroke-width="2.2" transform="rotate(28 413.5 33.8)"/>
<ellipse cx="98.9" cy="224.8" rx="3.0" ry="2.6" stroke-width="2.0" transform="rotate(79 98.9 224.8)"/>
<ellipse cx="844.8" cy="630.2" rx="2.9" ry="3.3" stroke-width="2.1" transform="rotate(88 844.8 630.2)"/>
<path d="M843.5,632.8 l-2.5,1.3" stroke-width="1.9"/>
<ellipse cx="1017.8" cy="146.8" rx="2.9" ry="3.4" stroke-width="2.0" transform="rotate(80 1017.8 146.8)"/>
<ellipse cx="853.5" cy="59.9" rx="3.3" ry="3.9" stroke-width="2.1" transform="rotate(85 853.5 59.9)"/>
<path d="M856.7,58.8 l3.3,0.9" stroke-width="1.9"/>
<ellipse cx="328.1" cy="46.8" rx="3.3" ry="2.8" stroke-width="2.1" transform="rotate(75 328.1 46.8)"/>
<ellipse cx="93.0" cy="80.2" rx="2.7" ry="2.8" stroke-width="2.3" transform="rotate(28 93.0 80.2)"/>
<ellipse cx="890.3" cy="47.0" rx="3.2" ry="3.9" stroke-width="1.9" transform="rotate(7 890.3 47.0)"/>
<path d="M887.9,44.9 l-0.8,-3.0" stroke-width="1.9"/>
<ellipse cx="76.7" cy="163.0" rx="2.7" ry="2.7" stroke-width="2.4" transform="rotate(22 76.7 163.0)"/>
<ellipse cx="771.1" cy="602.6" rx="2.6" ry="2.8" stroke-width="2.3" transform="rotate(66 771.1 602.6)"/>
<ellipse cx="102.0" cy="334.2" rx="2.7" ry="2.4" stroke-width="2.0" transform="rotate(33 102.0 334.2)"/>
<ellipse cx="898.4" cy="34.6" rx="4.2" ry="3.6" fill="#0a0a0a" stroke="none" transform="rotate(159 898.4 34.6)"/>
<ellipse cx="727.3" cy="601.8" rx="3.0" ry="2.3" fill="#0a0a0a" stroke="none" transform="rotate(50 727.3 601.8)"/>
<ellipse cx="218.5" cy="467.6" rx="3.6" ry="2.8" fill="#0a0a0a" stroke="none" transform="rotate(146 218.5 467.6)"/>
<ellipse cx="1019.0" cy="656.0" rx="3.6" ry="2.7" fill="#0a0a0a" stroke="none" transform="rotate(87 1019.0 656.0)"/>
<ellipse cx="1017.6" cy="680.0" rx="3.4" ry="3.3" fill="#0a0a0a" stroke="none" transform="rotate(69 1017.6 680.0)"/>
<ellipse cx="452.3" cy="522.4" rx="3.5" ry="2.7" fill="#0a0a0a" stroke="none" transform="rotate(43 452.3 522.4)"/>
<ellipse cx="822.8" cy="40.1" rx="3.5" ry="2.7" fill="#0a0a0a" stroke="none" transform="rotate(174 822.8 40.1)"/>
<ellipse cx="311.0" cy="496.6" rx="3.7" ry="2.6" fill="#0a0a0a" stroke="none" transform="rotate(86 311.0 496.6)"/>
<ellipse cx="80.2" cy="35.9" rx="3.4" ry="3.3" fill="#0a0a0a" stroke="none" transform="rotate(63 80.2 35.9)"/>
<ellipse cx="76.9" cy="393.0" rx="2.8" ry="2.2" fill="#0a0a0a" stroke="none" transform="rotate(141 76.9 393.0)"/>
<ellipse cx="433.1" cy="131.6" rx="3.3" ry="3.0" fill="#0a0a0a" stroke="none" transform="rotate(100 433.1 131.6)"/>
<ellipse cx="917.4" cy="63.5" rx="3.0" ry="2.5" fill="#0a0a0a" stroke="none" transform="rotate(39 917.4 63.5)"/>
<ellipse cx="456.3" cy="85.9" rx="3.6" ry="3.2" fill="#0a0a0a" stroke="none" transform="rotate(177 456.3 85.9)"/>
<ellipse cx="107.6" cy="22.3" rx="3.2" ry="2.4" fill="#0a0a0a" stroke="none" transform="rotate(127 107.6 22.3)"/>
<ellipse cx="801.4" cy="595.8" rx="3.7" ry="3.5" fill="#0a0a0a" stroke="none" transform="rotate(134 801.4 595.8)"/>
<ellipse cx="988.9" cy="430.2" rx="3.5" ry="3.5" fill="#0a0a0a" stroke="none" transform="rotate(106 988.9 430.2)"/>
<ellipse cx="1021.1" cy="251.1" rx="3.4" ry="2.4" fill="#0a0a0a" stroke="none" transform="rotate(73 1021.1 251.1)"/>
<ellipse cx="203.1" cy="47.0" rx="3.2" ry="3.1" fill="#0a0a0a" stroke="none" transform="rotate(23 203.1 47.0)"/>
<ellipse cx="992.6" cy="498.5" rx="3.4" ry="2.8" fill="#0a0a0a" stroke="none" transform="rotate(36 992.6 498.5)"/>
<ellipse cx="336.8" cy="47.6" rx="3.5" ry="2.5" fill="#0a0a0a" stroke="none" transform="rotate(96 336.8 47.6)"/>
<ellipse cx="891.5" cy="609.5" rx="3.5" ry="3.2" fill="#0a0a0a" stroke="none" transform="rotate(150 891.5 609.5)"/>
<ellipse cx="987.0" cy="54.4" rx="3.1" ry="2.4" fill="#0a0a0a" stroke="none" transform="rotate(103 987.0 54.4)"/>
<ellipse cx="102.3" cy="362.5" rx="2.6" ry="2.4" fill="#0a0a0a" stroke="none" transform="rotate(72 102.3 362.5)"/>
<ellipse cx="873.8" cy="627.9" rx="2.7" ry="2.0" fill="#0a0a0a" stroke="none" transform="rotate(25 873.8 627.9)"/>
<ellipse cx="458.1" cy="527.0" rx="3.8" ry="2.9" fill="#0a0a0a" stroke="none" transform="rotate(35 458.1 527.0)"/>
<ellipse cx="506.2" cy="40.8" rx="2.9" ry="2.8" fill="#0a0a0a" stroke="none" transform="rotate(148 506.2 40.8)"/>
<ellipse cx="1016.8" cy="66.5" rx="3.0" ry="2.5" fill="#0a0a0a" stroke="none" transform="rotate(98 1016.8 66.5)"/>
<ellipse cx="1010.4" cy="308.2" rx="3.8" ry="3.3" fill="#0a0a0a" stroke="none" transform="rotate(0 1010.4 308.2)"/>
<ellipse cx="105.8" cy="162.6" rx="3.2" ry="3.0" fill="#0a0a0a" stroke="none" transform="rotate(120 105.8 162.6)"/>
<ellipse cx="525.5" cy="549.7" rx="3.0" ry="2.2" fill="#0a0a0a" stroke="none" transform="rotate(132 525.5 549.7)"/>
<ellipse cx="89.0" cy="299.0" rx="3.0" ry="3.0" fill="#0a0a0a" stroke="none" transform="rotate(88 89.0 299.0)"/>
<ellipse cx="157.2" cy="445.1" rx="3.2" ry="2.3" fill="#0a0a0a" stroke="none" transform="rotate(7 157.2 445.1)"/>
<ellipse cx="835.2" cy="633.9" rx="2.9" ry="2.1" fill="#0a0a0a" stroke="none" transform="rotate(108 835.2 633.9)"/>
<ellipse cx="172.6" cy="426.8" rx="2.5" ry="2.5" fill="#0a0a0a" stroke="none" transform="rotate(147 172.6 426.8)"/>
<ellipse cx="657.3" cy="569.6" rx="3.5" ry="3.1" fill="#0a0a0a" stroke="none" transform="rotate(130 657.3 569.6)"/>
<ellipse cx="718.3" cy="53.9" rx="3.0" ry="2.4" fill="#0a0a0a" stroke="none" transform="rotate(22 718.3 53.9)"/>
<ellipse cx="526.7" cy="556.9" rx="3.5" ry="3.3" fill="#0a0a0a" stroke="none" transform="rotate(1 526.7 556.9)"/>
<ellipse cx="134.0" cy="31.4" rx="3.3" ry="2.9" fill="#0a0a0a" stroke="none" transform="rotate(10 134.0 31.4)"/>
<ellipse cx="281.8" cy="482.2" rx="2.9" ry="2.7" fill="#0a0a0a" stroke="none" transform="rotate(36 281.8 482.2)"/>
<ellipse cx="161.2" cy="431.8" rx="4.0" ry="2.9" fill="#0a0a0a" stroke="none" transform="rotate(37 161.2 431.8)"/>
<ellipse cx="1002.8" cy="330.5" rx="2.9" ry="2.7" fill="#0a0a0a" stroke="none" transform="rotate(14 1002.8 330.5)"/>
<ellipse cx="990.2" cy="187.4" rx="3.3" ry="3.0" fill="#0a0a0a" stroke="none" transform="rotate(87 990.2 187.4)"/>
<ellipse cx="88.5" cy="382.2" rx="3.1" ry="2.6" fill="#0a0a0a" stroke="none" transform="rotate(159 88.5 382.2)"/>
<ellipse cx="749.9" cy="29.5" rx="3.6" ry="2.9" fill="#0a0a0a" stroke="none" transform="rotate(146 749.9 29.5)"/>
<ellipse cx="808.4" cy="591.9" rx="3.2" ry="2.4" fill="#0a0a0a" stroke="none" transform="rotate(124 808.4 591.9)"/>
<ellipse cx="503.9" cy="524.1" rx="2.9" ry="2.7" fill="#0a0a0a" stroke="none" transform="rotate(131 503.9 524.1)"/>
<ellipse cx="426.0" cy="38.1" rx="2.9" ry="2.8" fill="#0a0a0a" stroke="none" transform="rotate(22 426.0 38.1)"/>
<ellipse cx="153.2" cy="18.0" rx="3.2" ry="2.4" fill="#0a0a0a" stroke="none" transform="rotate(100 153.2 18.0)"/>
<ellipse cx="659.4" cy="40.7" rx="4.0" ry="3.6" fill="#0a0a0a" stroke="none" transform="rotate(36 659.4 40.7)"/>
<ellipse cx="984.1" cy="131.4" rx="2.9" ry="2.9" fill="#0a0a0a" stroke="none" transform="rotate(117 984.1 131.4)"/>
<ellipse cx="1008.0" cy="349.7" rx="3.1" ry="2.8" fill="#0a0a0a" stroke="none" transform="rotate(171 1008.0 349.7)"/>
<ellipse cx="441.8" cy="159.7" rx="3.0" ry="2.9" fill="#0a0a0a" stroke="none" transform="rotate(158 441.8 159.7)"/>
<ellipse cx="771.7" cy="579.0" rx="3.5" ry="3.3" fill="#0a0a0a" stroke="none" transform="rotate(88 771.7 579.0)"/>
<ellipse cx="264.5" cy="20.8" rx="4.0" ry="3.0" fill="#0a0a0a" stroke="none" transform="rotate(139 264.5 20.8)"/>
<ellipse cx="909.9" cy="45.5" rx="2.5" ry="2.2" fill="#0a0a0a" stroke="none" transform="rotate(139 909.9 45.5)"/>
<ellipse cx="998.0" cy="51.9" rx="4.1" ry="4.0" fill="#0a0a0a" stroke="none" transform="rotate(152 998.0 51.9)"/>
<ellipse cx="970.4" cy="31.5" rx="3.2" ry="2.5" fill="#0a0a0a" stroke="none" transform="rotate(88 970.4 31.5)"/>
<ellipse cx="327.3" cy="406.0" rx="3.1" ry="3.1" fill="#0a0a0a" stroke="none" transform="rotate(80 327.3 406.0)"/>
<ellipse cx="968.6" cy="648.4" rx="3.9" ry="3.5" fill="#0a0a0a" stroke="none" transform="rotate(74 968.6 648.4)"/>
<ellipse cx="1020.4" cy="460.4" rx="3.7" ry="3.4" fill="#0a0a0a" stroke="none" transform="rotate(5 1020.4 460.4)"/>
<ellipse cx="782.2" cy="580.7" rx="3.1" ry="2.8" fill="#0a0a0a" stroke="none" transform="rotate(26 782.2 580.7)"/>
<ellipse cx="137.3" cy="419.7" rx="2.8" ry="2.4" fill="#0a0a0a" stroke="none" transform="rotate(60 137.3 419.7)"/>
<ellipse cx="164.2" cy="448.4" rx="3.6" ry="3.1" fill="#0a0a0a" stroke="none" transform="rotate(123 164.2 448.4)"/>
<ellipse cx="582.8" cy="551.8" rx="2.7" ry="2.7" fill="#0a0a0a" stroke="none" transform="rotate(15 582.8 551.8)"/>
<ellipse cx="655.2" cy="547.9" rx="4.0" ry="3.9" fill="#0a0a0a" stroke="none" transform="rotate(132 655.2 547.9)"/>
<ellipse cx="476.9" cy="526.7" rx="4.0" ry="3.1" fill="#0a0a0a" stroke="none" transform="rotate(2 476.9 526.7)"/>
<ellipse cx="984.1" cy="390.9" rx="3.6" ry="3.5" fill="#0a0a0a" stroke="none" transform="rotate(90 984.1 390.9)"/>
<ellipse cx="497.2" cy="37.8" rx="3.4" ry="3.0" fill="#0a0a0a" stroke="none" transform="rotate(102 497.2 37.8)"/>
<ellipse cx="123.0" cy="443.4" rx="3.7" ry="3.4" fill="#0a0a0a" stroke="none" transform="rotate(173 123.0 443.4)"/>
<ellipse cx="726.5" cy="50.6" rx="3.8" ry="3.8" fill="#0a0a0a" stroke="none" transform="rotate(107 726.5 50.6)"/>
<ellipse cx="716.2" cy="595.4" rx="3.0" ry="2.3" fill="#0a0a0a" stroke="none" transform="rotate(130 716.2 595.4)"/>
<ellipse cx="772.0" cy="587.7" rx="3.1" ry="2.9" fill="#0a0a0a" stroke="none" transform="rotate(99 772.0 587.7)"/>
<ellipse cx="270.1" cy="33.2" rx="3.0" ry="2.2" fill="#0a0a0a" stroke="none" transform="rotate(59 270.1 33.2)"/>
<ellipse cx="748.5" cy="613.6" rx="2.7" ry="2.3" fill="#0a0a0a" stroke="none" transform="rotate(13 748.5 613.6)"/>
<ellipse cx="775.1" cy="26.4" rx="2.7" ry="2.2" fill="#0a0a0a" stroke="none" transform="rotate(107 775.1 26.4)"/>
<ellipse cx="779.0" cy="604.3" rx="3.2" ry="3.2" fill="#0a0a0a" stroke="none" transform="rotate(73 779.0 604.3)"/>
<ellipse cx="181.7" cy="463.1" rx="2.6" ry="2.1" fill="#0a0a0a" stroke="none" transform="rotate(139 181.7 463.1)"/>
<ellipse cx="222.0" cy="442.9" rx="2.7" ry="2.4" fill="#0a0a0a" stroke="none" transform="rotate(154 222.0 442.9)"/>
<ellipse cx="898.0" cy="617.5" rx="3.9" ry="3.2" fill="#0a0a0a" stroke="none" transform="rotate(52 898.0 617.5)"/>
<ellipse cx="213.2" cy="39.7" rx="2.9" ry="2.9" fill="#0a0a0a" stroke="none" transform="rotate(53 213.2 39.7)"/>
<ellipse cx="823.4" cy="625.9" rx="3.0" ry="2.7" fill="#0a0a0a" stroke="none" transform="rotate(128 823.4 625.9)"/>
<ellipse cx="981.5" cy="145.5" rx="3.8" ry="2.7" fill="#0a0a0a" stroke="none" transform="rotate(132 981.5 145.5)"/>
<ellipse cx="671.7" cy="61.7" rx="3.3" ry="2.6" fill="#0a0a0a" stroke="none" transform="rotate(4 671.7 61.7)"/>
<ellipse cx="757.3" cy="28.6" rx="2.9" ry="2.1" fill="#0a0a0a" stroke="none" transform="rotate(31 757.3 28.6)"/>
<ellipse cx="106.8" cy="211.9" rx="2.8" ry="2.8" fill="#0a0a0a" stroke="none" transform="rotate(64 106.8 211.9)"/>
<ellipse cx="1005.7" cy="615.9" rx="2.7" ry="2.0" fill="#0a0a0a" stroke="none" transform="rotate(148 1005.7 615.9)"/>
<ellipse cx="108.3" cy="390.8" rx="2.8" ry="2.6" fill="#0a0a0a" stroke="none" transform="rotate(122 108.3 390.8)"/>
<ellipse cx="484.2" cy="535.6" rx="2.9" ry="2.8" fill="#0a0a0a" stroke="none" transform="rotate(36 484.2 535.6)"/>
<ellipse cx="457.7" cy="42.9" rx="2.9" ry="2.1" fill="#0a0a0a" stroke="none" transform="rotate(41 457.7 42.9)"/>
<ellipse cx="375.7" cy="357.4" rx="2.9" ry="2.3" fill="#0a0a0a" stroke="none" transform="rotate(8 375.7 357.4)"/>
<ellipse cx="1011.4" cy="515.9" rx="3.9" ry="3.8" fill="#0a0a0a" stroke="none" transform="rotate(129 1011.4 515.9)"/>
<ellipse cx="99.6" cy="154.2" rx="3.7" ry="3.6" fill="#0a0a0a" stroke="none" transform="rotate(110 99.6 154.2)"/>
<ellipse cx="901.4" cy="63.6" rx="3.3" ry="2.9" fill="#0a0a0a" stroke="none" transform="rotate(18 901.4 63.6)"/>
<ellipse cx="570.5" cy="23.1" rx="3.5" ry="2.9" fill="#0a0a0a" stroke="none" transform="rotate(144 570.5 23.1)"/>
<ellipse cx="737.5" cy="580.5" rx="3.9" ry="3.1" fill="#0a0a0a" stroke="none" transform="rotate(86 737.5 580.5)"/>
<ellipse cx="1019.2" cy="590.9" rx="3.1" ry="2.9" fill="#0a0a0a" stroke="none" transform="rotate(17 1019.2 590.9)"/>
<ellipse cx="746.9" cy="50.5" rx="2.6" ry="2.1" fill="#0a0a0a" stroke="none" transform="rotate(80 746.9 50.5)"/>
<ellipse cx="992.9" cy="474.6" rx="3.0" ry="2.8" fill="#0a0a0a" stroke="none" transform="rotate(119 992.9 474.6)"/>
<ellipse cx="315.4" cy="47.5" rx="3.2" ry="3.0" fill="#0a0a0a" stroke="none" transform="rotate(44 315.4 47.5)"/>
<ellipse cx="1015.6" cy="179.6" rx="3.6" ry="2.7" fill="#0a0a0a" stroke="none" transform="rotate(62 1015.6 179.6)"/>
<ellipse cx="1011.8" cy="485.5" rx="4.1" ry="3.9" fill="#0a0a0a" stroke="none" transform="rotate(133 1011.8 485.5)"/>
<ellipse cx="1011.1" cy="674.6" rx="3.5" ry="3.1" fill="#0a0a0a" stroke="none" transform="rotate(98 1011.1 674.6)"/>
<ellipse cx="1017.8" cy="671.9" rx="4.1" ry="3.0" fill="#0a0a0a" stroke="none" transform="rotate(69 1017.8 671.9)"/>
<ellipse cx="94.9" cy="70.4" rx="3.3" ry="2.4" fill="#0a0a0a" stroke="none" transform="rotate(174 94.9 70.4)"/>
<ellipse cx="562.0" cy="532.9" rx="4.1" ry="3.7" fill="#0a0a0a" stroke="none" transform="rotate(14 562.0 532.9)"/>
<ellipse cx="914.9" cy="614.6" rx="3.3" ry="2.9" fill="#0a0a0a" stroke="none" transform="rotate(2 914.9 614.6)"/>
<ellipse cx="650.2" cy="39.0" rx="2.8" ry="2.3" fill="#0a0a0a" stroke="none" transform="rotate(126 650.2 39.0)"/>
<ellipse cx="842.0" cy="619.0" rx="3.1" ry="2.7" fill="#0a0a0a" stroke="none" transform="rotate(69 842.0 619.0)"/>
<ellipse cx="528.7" cy="40.2" rx="3.0" ry="2.5" fill="#0a0a0a" stroke="none" transform="rotate(107 528.7 40.2)"/>
<ellipse cx="763.7" cy="580.0" rx="4.1" ry="3.1" fill="#0a0a0a" stroke="none" transform="rotate(171 763.7 580.0)"/>
<ellipse cx="195.8" cy="19.1" rx="3.4" ry="3.2" fill="#0a0a0a" stroke="none" transform="rotate(145 195.8 19.1)"/>
<ellipse cx="841.9" cy="604.7" rx="3.0" ry="2.1" fill="#0a0a0a" stroke="none" transform="rotate(103 841.9 604.7)"/>
<ellipse cx="365.2" cy="390.2" rx="3.0" ry="2.9" fill="#0a0a0a" stroke="none" transform="rotate(113 365.2 390.2)"/>
<ellipse cx="910.2" cy="59.5" rx="2.8" ry="2.2" fill="#0a0a0a" stroke="none" transform="rotate(19 910.2 59.5)"/>
<ellipse cx="102.8" cy="98.0" rx="2.9" ry="2.7" fill="#0a0a0a" stroke="none" transform="rotate(32 102.8 98.0)"/>
<ellipse cx="335.6" cy="484.4" rx="2.9" ry="2.6" fill="#0a0a0a" stroke="none" transform="rotate(149 335.6 484.4)"/>
<ellipse cx="752.2" cy="598.5" rx="2.8" ry="2.2" fill="#0a0a0a" stroke="none" transform="rotate(50 752.2 598.5)"/>
<ellipse cx="628.6" cy="555.2" rx="3.8" ry="3.8" fill="#0a0a0a" stroke="none" transform="rotate(90 628.6 555.2)"/>
<ellipse cx="92.0" cy="332.9" rx="3.3" ry="3.1" fill="#0a0a0a" stroke="none" transform="rotate(152 92.0 332.9)"/>
<ellipse cx="442.1" cy="54.1" rx="3.5" ry="2.6" fill="#0a0a0a" stroke="none" transform="rotate(128 442.1 54.1)"/>
<ellipse cx="1013.2" cy="286.1" rx="2.8" ry="2.2" fill="#0a0a0a" stroke="none" transform="rotate(88 1013.2 286.1)"/>
<ellipse cx="986.7" cy="237.5" rx="2.9" ry="2.4" fill="#0a0a0a" stroke="none" transform="rotate(83 986.7 237.5)"/>
<ellipse cx="88.5" cy="141.0" rx="3.3" ry="3.2" fill="#0a0a0a" stroke="none" transform="rotate(113 88.5 141.0)"/>
<ellipse cx="741.1" cy="44.0" rx="2.9" ry="2.3" fill="#0a0a0a" stroke="none" transform="rotate(35 741.1 44.0)"/>
<ellipse cx="456.4" cy="52.8" rx="2.9" ry="2.1" fill="#0a0a0a" stroke="none" transform="rotate(37 456.4 52.8)"/>
<ellipse cx="387.6" cy="46.9" rx="3.6" ry="2.9" fill="#0a0a0a" stroke="none" transform="rotate(56 387.6 46.9)"/>
<ellipse cx="992.4" cy="384.5" rx="4.2" ry="3.4" fill="#0a0a0a" stroke="none" transform="rotate(85 992.4 384.5)"/>
<ellipse cx="124.9" cy="38.2" rx="3.4" ry="2.6" fill="#0a0a0a" stroke="none" transform="rotate(35 124.9 38.2)"/>
<ellipse cx="1018.4" cy="170.1" rx="3.5" ry="2.9" fill="#0a0a0a" stroke="none" transform="rotate(97 1018.4 170.1)"/>
<ellipse cx="495.5" cy="25.9" rx="3.3" ry="2.5" fill="#0a0a0a" stroke="none" transform="rotate(11 495.5 25.9)"/>
<ellipse cx="529.3" cy="57.4" rx="3.6" ry="2.8" fill="#0a0a0a" stroke="none" transform="rotate(13 529.3 57.4)"/>
<ellipse cx="1019.6" cy="258.8" rx="2.7" ry="2.4" fill="#0a0a0a" stroke="none" transform="rotate(83 1019.6 258.8)"/>
<ellipse cx="978.2" cy="475.7" rx="2.8" ry="2.6" fill="#0a0a0a" stroke="none" transform="rotate(113 978.2 475.7)"/>
<ellipse cx="998.4" cy="607.3" rx="4.2" ry="3.9" fill="#0a0a0a" stroke="none" transform="rotate(136 998.4 607.3)"/>
<ellipse cx="587.3" cy="39.5" rx="3.3" ry="3.0" fill="#0a0a0a" stroke="none" transform="rotate(126 587.3 39.5)"/>
<ellipse cx="469.5" cy="78.9" rx="3.0" ry="2.2" fill="#0a0a0a" stroke="none" transform="rotate(126 469.5 78.9)"/>
<ellipse cx="1001.4" cy="638.0" rx="3.6" ry="2.7" fill="#0a0a0a" stroke="none" transform="rotate(132 1001.4 638.0)"/>
<ellipse cx="254.5" cy="52.6" rx="3.8" ry="3.6" fill="#0a0a0a" stroke="none" transform="rotate(2 254.5 52.6)"/>
<ellipse cx="120.5" cy="410.4" rx="4.1" ry="2.9" fill="#0a0a0a" stroke="none" transform="rotate(105 120.5 410.4)"/>
<ellipse cx="84.2" cy="392.3" rx="3.8" ry="3.2" fill="#0a0a0a" stroke="none" transform="rotate(167 84.2 392.3)"/>
<ellipse cx="1018.4" cy="442.1" rx="3.5" ry="3.0" fill="#0a0a0a" stroke="none" transform="rotate(110 1018.4 442.1)"/>
<ellipse cx="338.7" cy="398.6" rx="2.5" ry="2.2" fill="#0a0a0a" stroke="none" transform="rotate(89 338.7 398.6)"/>
<ellipse cx="109.2" cy="330.0" rx="4.0" ry="3.9" fill="#0a0a0a" stroke="none" transform="rotate(118 109.2 330.0)"/>
<ellipse cx="97.8" cy="371.9" rx="2.8" ry="2.4" fill="#0a0a0a" stroke="none" transform="rotate(47 97.8 371.9)"/>
<ellipse cx="428.2" cy="517.7" rx="3.5" ry="3.3" fill="#0a0a0a" stroke="none" transform="rotate(89 428.2 517.7)"/>
<ellipse cx="449.5" cy="103.6" rx="3.5" ry="2.8" fill="#0a0a0a" stroke="none" transform="rotate(41 449.5 103.6)"/>
<ellipse cx="110.5" cy="408.5" rx="2.7" ry="2.4" fill="#0a0a0a" stroke="none" transform="rotate(136 110.5 408.5)"/>
<ellipse cx="931.7" cy="621.8" rx="2.9" ry="2.3" fill="#0a0a0a" stroke="none" transform="rotate(36 931.7 621.8)"/>
<ellipse cx="385.8" cy="510.6" rx="2.6" ry="2.2" fill="#0a0a0a" stroke="none" transform="rotate(23 385.8 510.6)"/>
<ellipse cx="927.1" cy="26.2" rx="4.0" ry="3.5" fill="#0a0a0a" stroke="none" transform="rotate(111 927.1 26.2)"/>
<ellipse cx="458.0" cy="146.4" rx="4.1" ry="3.9" fill="#0a0a0a" stroke="none" transform="rotate(60 458.0 146.4)"/>
<ellipse cx="198.7" cy="454.8" rx="2.8" ry="2.1" fill="#0a0a0a" stroke="none" transform="rotate(44 198.7 454.8)"/>
<ellipse cx="495.5" cy="507.4" rx="2.7" ry="2.4" fill="#0a0a0a" stroke="none" transform="rotate(22 495.5 507.4)"/>
<ellipse cx="1012.5" cy="577.3" rx="3.7" ry="3.6" fill="#0a0a0a" stroke="none" transform="rotate(156 1012.5 577.3)"/>
<ellipse cx="395.7" cy="23.4" rx="2.8" ry="2.5" fill="#0a0a0a" stroke="none" transform="rotate(74 395.7 23.4)"/>
<ellipse cx="960.9" cy="658.1" rx="2.6" ry="1.9" fill="#0a0a0a" stroke="none" transform="rotate(45 960.9 658.1)"/>
<ellipse cx="877.2" cy="615.2" rx="3.1" ry="2.4" fill="#0a0a0a" stroke="none" transform="rotate(174 877.2 615.2)"/>
<ellipse cx="858.0" cy="604.0" rx="2.8" ry="2.1" fill="#0a0a0a" stroke="none" transform="rotate(13 858.0 604.0)"/>
<ellipse cx="357.0" cy="471.8" rx="3.4" ry="2.4" fill="#0a0a0a" stroke="none" transform="rotate(61 357.0 471.8)"/>
<ellipse cx="324.8" cy="488.8" rx="3.5" ry="3.0" fill="#0a0a0a" stroke="none" transform="rotate(56 324.8 488.8)"/>
<ellipse cx="577.2" cy="530.5" rx="2.7" ry="2.6" fill="#0a0a0a" stroke="none" transform="rotate(122 577.2 530.5)"/>
<ellipse cx="522.7" cy="46.8" rx="3.8" ry="2.8" fill="#0a0a0a" stroke="none" transform="rotate(128 522.7 46.8)"/>
<ellipse cx="542.2" cy="49.4" rx="3.1" ry="2.6" fill="#0a0a0a" stroke="none" transform="rotate(86 542.2 49.4)"/>
<ellipse cx="508.2" cy="530.4" rx="4.1" ry="3.8" fill="#0a0a0a" stroke="none" transform="rotate(79 508.2 530.4)"/>
<ellipse cx="879.9" cy="644.6" rx="4.0" ry="3.9" fill="#0a0a0a" stroke="none" transform="rotate(133 879.9 644.6)"/>
<ellipse cx="772.6" cy="37.9" rx="3.9" ry="3.4" fill="#0a0a0a" stroke="none" transform="rotate(104 772.6 37.9)"/>
<ellipse cx="233.8" cy="46.7" rx="3.2" ry="2.8" fill="#0a0a0a" stroke="none" transform="rotate(83 233.8 46.7)"/>
<ellipse cx="993.6" cy="263.0" rx="3.0" ry="2.4" fill="#0a0a0a" stroke="none" transform="rotate(81 993.6 263.0)"/>
<ellipse cx="520.9" cy="526.8" rx="3.9" ry="3.3" fill="#0a0a0a" stroke="none" transform="rotate(9 520.9 526.8)"/>
<ellipse cx="668.8" cy="566.5" rx="3.6" ry="3.3" fill="#0a0a0a" stroke="none" transform="rotate(125 668.8 566.5)"/>
<ellipse cx="190.9" cy="37.7" rx="3.0" ry="2.7" fill="#0a0a0a" stroke="none" transform="rotate(28 190.9 37.7)"/>
<ellipse cx="666.5" cy="30.1" rx="3.1" ry="2.8" fill="#0a0a0a" stroke="none" transform="rotate(76 666.5 30.1)"/>
<ellipse cx="103.5" cy="268.3" rx="3.7" ry="2.9" fill="#0a0a0a" stroke="none" transform="rotate(27 103.5 268.3)"/>
<ellipse cx="267.5" cy="462.4" rx="3.5" ry="3.3" fill="#0a0a0a" stroke="none" transform="rotate(0 267.5 462.4)"/>
<ellipse cx="303.8" cy="463.5" rx="3.8" ry="2.9" fill="#0a0a0a" stroke="none" transform="rotate(168 303.8 463.5)"/>
<ellipse cx="353.0" cy="428.7" rx="3.4" ry="2.5" fill="#0a0a0a" stroke="none" transform="rotate(82 353.0 428.7)"/>
<ellipse cx="530.6" cy="518.0" rx="3.9" ry="3.3" fill="#0a0a0a" stroke="none" transform="rotate(72 530.6 518.0)"/>
<ellipse cx="941.2" cy="634.4" rx="2.6" ry="2.3" fill="#0a0a0a" stroke="none" transform="rotate(81 941.2 634.4)"/>
<ellipse cx="99.2" cy="422.5" rx="3.8" ry="3.0" fill="#0a0a0a" stroke="none" transform="rotate(70 99.2 422.5)"/>
<ellipse cx="442.6" cy="33.1" rx="2.7" ry="2.6" fill="#0a0a0a" stroke="none" transform="rotate(173 442.6 33.1)"/>
<ellipse cx="601.2" cy="50.5" rx="3.7" ry="3.2" fill="#0a0a0a" stroke="none" transform="rotate(31 601.2 50.5)"/>
<ellipse cx="459.0" cy="92.6" rx="3.9" ry="2.8" fill="#0a0a0a" stroke="none" transform="rotate(131 459.0 92.6)"/>
<ellipse cx="879.0" cy="59.6" rx="3.0" ry="2.3" fill="#0a0a0a" stroke="none" transform="rotate(98 879.0 59.6)"/>
<ellipse cx="286.7" cy="488.5" rx="4.1" ry="3.0" fill="#0a0a0a" stroke="none" transform="rotate(109 286.7 488.5)"/>
<ellipse cx="210.6" cy="449.5" rx="3.2" ry="2.7" fill="#0a0a0a" stroke="none" transform="rotate(173 210.6 449.5)"/>
<ellipse cx="716.7" cy="568.1" rx="3.9" ry="2.9" fill="#0a0a0a" stroke="none" transform="rotate(167 716.7 568.1)"/>
<ellipse cx="442.5" cy="522.7" rx="3.3" ry="3.1" fill="#0a0a0a" stroke="none" transform="rotate(143 442.5 522.7)"/>
<ellipse cx="818.1" cy="589.0" rx="3.7" ry="3.3" fill="#0a0a0a" stroke="none" transform="rotate(34 818.1 589.0)"/>
<ellipse cx="119.0" cy="417.5" rx="3.2" ry="2.6" fill="#0a0a0a" stroke="none" transform="rotate(102 119.0 417.5)"/>
<ellipse cx="809.4" cy="615.9" rx="2.9" ry="2.7" fill="#0a0a0a" stroke="none" transform="rotate(176 809.4 615.9)"/>
<ellipse cx="218.3" cy="451.9" rx="3.2" ry="2.9" fill="#0a0a0a" stroke="none" transform="rotate(146 218.3 451.9)"/>
<ellipse cx="1010.1" cy="602.1" rx="3.2" ry="2.4" fill="#0a0a0a" stroke="none" transform="rotate(162 1010.1 602.1)"/>
<ellipse cx="294.0" cy="482.4" rx="3.6" ry="2.9" fill="#0a0a0a" stroke="none" transform="rotate(8 294.0 482.4)"/>
<ellipse cx="988.4" cy="594.1" rx="3.1" ry="2.7" fill="#0a0a0a" stroke="none" transform="rotate(52 988.4 594.1)"/>
<ellipse cx="989.2" cy="156.5" rx="2.6" ry="2.5" fill="#0a0a0a" stroke="none" transform="rotate(109 989.2 156.5)"/>
<ellipse cx="98.5" cy="308.3" rx="4.0" ry="3.8" fill="#0a0a0a" stroke="none" transform="rotate(88 98.5 308.3)"/>
<ellipse cx="356.0" cy="365.8" rx="3.6" ry="3.2" fill="#0a0a0a" stroke="none" transform="rotate(144 356.0 365.8)"/>
<ellipse cx="869.8" cy="58.8" rx="4.2" ry="3.4" fill="#0a0a0a" stroke="none" transform="rotate(101 869.8 58.8)"/>
<ellipse cx="747.0" cy="61.2" rx="4.0" ry="2.9" fill="#0a0a0a" stroke="none" transform="rotate(148 747.0 61.2)"/>
<ellipse cx="468.3" cy="59.2" rx="3.3" ry="3.1" fill="#0a0a0a" stroke="none" transform="rotate(23 468.3 59.2)"/>
<ellipse cx="153.6" cy="31.3" rx="2.8" ry="2.0" fill="#0a0a0a" stroke="none" transform="rotate(50 153.6 31.3)"/>
<ellipse cx="995.9" cy="139.7" rx="2.5" ry="2.2" fill="#0a0a0a" stroke="none" transform="rotate(36 995.9 139.7)"/>
<ellipse cx="100.1" cy="253.7" rx="3.0" ry="2.7" fill="#0a0a0a" stroke="none" transform="rotate(165 100.1 253.7)"/>
<ellipse cx="760.8" cy="607.4" rx="3.2" ry="3.0" fill="#0a0a0a" stroke="none" transform="rotate(163 760.8 607.4)"/>
<ellipse cx="801.4" cy="586.7" rx="3.8" ry="3.8" fill="#0a0a0a" stroke="none" transform="rotate(77 801.4 586.7)"/>
<ellipse cx="414.3" cy="46.5" rx="2.5" ry="2.4" fill="#0a0a0a" stroke="none" transform="rotate(128 414.3 46.5)"/>
<ellipse cx="992.7" cy="311.7" rx="3.7" ry="3.7" fill="#0a0a0a" stroke="none" transform="rotate(43 992.7 311.7)"/>
<ellipse cx="458.3" cy="539.5" rx="4.1" ry="3.4" fill="#0a0a0a" stroke="none" transform="rotate(133 458.3 539.5)"/>
<ellipse cx="99.7" cy="213.5" rx="3.0" ry="2.9" fill="#0a0a0a" stroke="none" transform="rotate(130 99.7 213.5)"/>
<ellipse cx="986.3" cy="506.7" rx="2.7" ry="2.6" fill="#0a0a0a" stroke="none" transform="rotate(50 986.3 506.7)"/>
<ellipse cx="1016.2" cy="200.6" rx="3.6" ry="2.8" fill="#0a0a0a" stroke="none" transform="rotate(130 1016.2 200.6)"/>
<ellipse cx="83.6" cy="116.6" rx="3.8" ry="3.2" fill="#0a0a0a" stroke="none" transform="rotate(179 83.6 116.6)"/>
<ellipse cx="167.3" cy="20.7" rx="4.0" ry="2.8" fill="#0a0a0a" stroke="none" transform="rotate(154 167.3 20.7)"/>
<ellipse cx="590.4" cy="555.5" rx="2.5" ry="2.0" fill="#0a0a0a" stroke="none" transform="rotate(67 590.4 555.5)"/>
<ellipse cx="996.6" cy="86.5" rx="3.6" ry="3.5" fill="#0a0a0a" stroke="none" transform="rotate(80 996.6 86.5)"/>
<ellipse cx="102.9" cy="42.7" rx="2.6" ry="2.3" fill="#0a0a0a" stroke="none" transform="rotate(0 102.9 42.7)"/>
<ellipse cx="210.4" cy="470.0" rx="3.5" ry="3.1" fill="#0a0a0a" stroke="none" transform="rotate(9 210.4 470.0)"/>
<ellipse cx="806.9" cy="33.4" rx="2.6" ry="2.6" fill="#0a0a0a" stroke="none" transform="rotate(60 806.9 33.4)"/>
<ellipse cx="1015.3" cy="323.1" rx="2.7" ry="2.3" fill="#0a0a0a" stroke="none" transform="rotate(4 1015.3 323.1)"/>
<ellipse cx="601.2" cy="34.4" rx="2.9" ry="2.8" fill="#0a0a0a" stroke="none" transform="rotate(107 601.2 34.4)"/>
<ellipse cx="830.1" cy="32.7" rx="2.8" ry="2.4" fill="#0a0a0a" stroke="none" transform="rotate(111 830.1 32.7)"/>
<ellipse cx="909.3" cy="26.6" rx="2.9" ry="2.6" fill="#0a0a0a" stroke="none" transform="rotate(161 909.3 26.6)"/>
<ellipse cx="367.5" cy="48.7" rx="3.1" ry="2.8" fill="#0a0a0a" stroke="none" transform="rotate(65 367.5 48.7)"/>
<ellipse cx="481.6" cy="504.7" rx="3.7" ry="2.7" fill="#0a0a0a" stroke="none" transform="rotate(63 481.6 504.7)"/>
<ellipse cx="699.1" cy="587.9" rx="4.1" ry="3.9" fill="#0a0a0a" stroke="none" transform="rotate(78 699.1 587.9)"/>
<ellipse cx="621.4" cy="570.9" rx="3.9" ry="2.8" fill="#0a0a0a" stroke="none" transform="rotate(99 621.4 570.9)"/>
<ellipse cx="694.1" cy="598.5" rx="4.1" ry="3.4" fill="#0a0a0a" stroke="none" transform="rotate(67 694.1 598.5)"/>
<ellipse cx="662.6" cy="49.7" rx="3.6" ry="3.5" fill="#0a0a0a" stroke="none" transform="rotate(174 662.6 49.7)"/>
<ellipse cx="479.6" cy="35.2" rx="3.2" ry="2.9" fill="#0a0a0a" stroke="none" transform="rotate(36 479.6 35.2)"/>
<ellipse cx="474.8" cy="92.1" rx="2.5" ry="2.4" fill="#0a0a0a" stroke="none" transform="rotate(156 474.8 92.1)"/>
<ellipse cx="350.2" cy="370.5" rx="2.7" ry="2.3" fill="#0a0a0a" stroke="none" transform="rotate(63 350.2 370.5)"/>
<ellipse cx="1010.8" cy="436.4" rx="3.1" ry="2.7" fill="#0a0a0a" stroke="none" transform="rotate(9 1010.8 436.4)"/>
<ellipse cx="991.4" cy="546.2" rx="4.2" ry="3.1" fill="#0a0a0a" stroke="none" transform="rotate(114 991.4 546.2)"/>
<ellipse cx="699.1" cy="28.4" rx="4.1" ry="3.9" fill="#0a0a0a" stroke="none" transform="rotate(116 699.1 28.4)"/>
<ellipse cx="438.3" cy="123.4" rx="3.1" ry="2.9" fill="#0a0a0a" stroke="none" transform="rotate(63 438.3 123.4)"/>
<ellipse cx="978.1" cy="656.8" rx="4.2" ry="3.8" fill="#0a0a0a" stroke="none" transform="rotate(112 978.1 656.8)"/>
<ellipse cx="993.1" cy="320.2" rx="3.7" ry="2.6" fill="#0a0a0a" stroke="none" transform="rotate(78 993.1 320.2)"/>
<ellipse cx="112.7" cy="266.0" rx="3.8" ry="2.9" fill="#0a0a0a" stroke="none" transform="rotate(20 112.7 266.0)"/>
<ellipse cx="83.4" cy="105.0" rx="3.6" ry="2.6" fill="#0a0a0a" stroke="none" transform="rotate(20 83.4 105.0)"/>
<ellipse cx="90.2" cy="21.1" rx="3.5" ry="2.8" fill="#0a0a0a" stroke="none" transform="rotate(163 90.2 21.1)"/>
<ellipse cx="539.1" cy="536.2" rx="3.8" ry="3.7" fill="#0a0a0a" stroke="none" transform="rotate(92 539.1 536.2)"/>
<ellipse cx="570.7" cy="57.4" rx="3.5" ry="3.3" fill="#0a0a0a" stroke="none" transform="rotate(106 570.7 57.4)"/>
<ellipse cx="219.0" cy="433.1" rx="3.9" ry="2.9" fill="#0a0a0a" stroke="none" transform="rotate(139 219.0 433.1)"/>
<ellipse cx="1016.5" cy="388.6" rx="2.6" ry="2.0" fill="#0a0a0a" stroke="none" transform="rotate(104 1016.5 388.6)"/>
<ellipse cx="996.8" cy="617.1" rx="3.6" ry="2.7" fill="#0a0a0a" stroke="none" transform="rotate(111 996.8 617.1)"/>
<ellipse cx="90.6" cy="263.9" rx="2.8" ry="2.8" fill="#0a0a0a" stroke="none" transform="rotate(117 90.6 263.9)"/>
<ellipse cx="633.7" cy="540.5" rx="2.9" ry="2.6" fill="#0a0a0a" stroke="none" transform="rotate(126 633.7 540.5)"/>
<ellipse cx="427.6" cy="528.3" rx="2.8" ry="2.3" fill="#0a0a0a" stroke="none" transform="rotate(121 427.6 528.3)"/>
<ellipse cx="288.8" cy="465.3" rx="2.6" ry="2.3" fill="#0a0a0a" stroke="none" transform="rotate(57 288.8 465.3)"/>
<ellipse cx="806.4" cy="602.2" rx="3.7" ry="3.2" fill="#0a0a0a" stroke="none" transform="rotate(146 806.4 602.2)"/>
<ellipse cx="457.2" cy="163.1" rx="3.9" ry="3.4" fill="#0a0a0a" stroke="none" transform="rotate(116 457.2 163.1)"/>
<ellipse cx="440.0" cy="135.6" rx="3.1" ry="2.9" fill="#0a0a0a" stroke="none" transform="rotate(13 440.0 135.6)"/>
<ellipse cx="121.9" cy="50.5" rx="4.0" ry="2.9" fill="#0a0a0a" stroke="none" transform="rotate(140 121.9 50.5)"/>
<ellipse cx="107.4" cy="259.9" rx="4.2" ry="3.0" fill="#0a0a0a" stroke="none" transform="rotate(118 107.4 259.9)"/>
<ellipse cx="557.5" cy="559.4" rx="3.3" ry="2.8" fill="#0a0a0a" stroke="none" transform="rotate(177 557.5 559.4)"/>
<ellipse cx="482.2" cy="97.9" rx="3.8" ry="2.7" fill="#0a0a0a" stroke="none" transform="rotate(68 482.2 97.9)"/>
<ellipse cx="250.2" cy="455.8" rx="3.9" ry="2.9" fill="#0a0a0a" stroke="none" transform="rotate(171 250.2 455.8)"/>
<ellipse cx="959.2" cy="638.1" rx="3.7" ry="2.6" fill="#0a0a0a" stroke="none" transform="rotate(160 959.2 638.1)"/>
<ellipse cx="75.5" cy="296.5" rx="4.1" ry="3.9" fill="#0a0a0a" stroke="none" transform="rotate(56 75.5 296.5)"/>
<ellipse cx="417.5" cy="26.3" rx="3.8" ry="3.3" fill="#0a0a0a" stroke="none" transform="rotate(149 417.5 26.3)"/>
<ellipse cx="998.5" cy="402.7" rx="3.5" ry="2.9" fill="#0a0a0a" stroke="none" transform="rotate(156 998.5 402.7)"/>
<ellipse cx="99.4" cy="277.8" rx="3.7" ry="2.8" fill="#0a0a0a" stroke="none" transform="rotate(112 99.4 277.8)"/>
<ellipse cx="796.0" cy="623.1" rx="3.0" ry="2.4" fill="#0a0a0a" stroke="none" transform="rotate(161 796.0 623.1)"/>
<ellipse cx="988.1" cy="604.4" rx="3.5" ry="2.9" fill="#0a0a0a" stroke="none" transform="rotate(143 988.1 604.4)"/>
<ellipse cx="815.7" cy="44.3" rx="3.5" ry="3.0" fill="#0a0a0a" stroke="none" transform="rotate(35 815.7 44.3)"/>
<ellipse cx="1000.9" cy="591.8" rx="4.1" ry="4.0" fill="#0a0a0a" stroke="none" transform="rotate(37 1000.9 591.8)"/>
<ellipse cx="1016.3" cy="231.6" rx="4.1" ry="3.2" fill="#0a0a0a" stroke="none" transform="rotate(47 1016.3 231.6)"/>
<ellipse cx="429.5" cy="30.1" rx="2.9" ry="2.2" fill="#0a0a0a" stroke="none" transform="rotate(79 429.5 30.1)"/>
<ellipse cx="815.9" cy="29.9" rx="4.2" ry="3.8" fill="#0a0a0a" stroke="none" transform="rotate(161 815.9 29.9)"/>
<ellipse cx="655.5" cy="30.0" rx="4.1" ry="3.1" fill="#0a0a0a" stroke="none" transform="rotate(104 655.5 30.0)"/>
<ellipse cx="241.7" cy="33.8" rx="3.6" ry="3.5" fill="#0a0a0a" stroke="none" transform="rotate(164 241.7 33.8)"/>
<ellipse cx="542.9" cy="549.8" rx="3.0" ry="2.7" fill="#0a0a0a" stroke="none" transform="rotate(46 542.9 549.8)"/>
<ellipse cx="798.6" cy="28.0" rx="3.5" ry="3.4" fill="#0a0a0a" stroke="none" transform="rotate(76 798.6 28.0)"/>
<ellipse cx="953.6" cy="56.6" rx="3.2" ry="3.2" fill="#0a0a0a" stroke="none" transform="rotate(168 953.6 56.6)"/>
<ellipse cx="997.8" cy="168.1" rx="4.1" ry="3.7" fill="#0a0a0a" stroke="none" transform="rotate(54 997.8 168.1)"/>
<ellipse cx="1001.9" cy="71.9" rx="3.6" ry="2.8" fill="#0a0a0a" stroke="none" transform="rotate(143 1001.9 71.9)"/>
<ellipse cx="1013.3" cy="663.6" rx="3.8" ry="3.4" fill="#0a0a0a" stroke="none" transform="rotate(97 1013.3 663.6)"/>
<ellipse cx="423.6" cy="506.6" rx="2.9" ry="2.4" fill="#0a0a0a" stroke="none" transform="rotate(100 423.6 506.6)"/>
<ellipse cx="708.4" cy="586.1" rx="3.1" ry="2.6" fill="#0a0a0a" stroke="none" transform="rotate(156 708.4 586.1)"/>
<ellipse cx="365.8" cy="39.6" rx="3.0" ry="2.7" fill="#0a0a0a" stroke="none" transform="rotate(155 365.8 39.6)"/>
<ellipse cx="1006.3" cy="502.6" rx="4.2" ry="3.0" fill="#0a0a0a" stroke="none" transform="rotate(63 1006.3 502.6)"/>
<ellipse cx="625.6" cy="564.4" rx="3.0" ry="2.3" fill="#0a0a0a" stroke="none" transform="rotate(165 625.6 564.4)"/>
<ellipse cx="484.2" cy="60.5" rx="2.6" ry="2.1" fill="#0a0a0a" stroke="none" transform="rotate(16 484.2 60.5)"/>
<path d="M188.3,43.9 L188.9,44.1" stroke-width="2.7"/>
<path d="M915.9,26.1 L916.9,26.3" stroke-width="2.8"/>
<path d="M940.2,65.0 L940.1,66.0" stroke-width="2.3"/>
<path d="M229.8,31.1 L231.9,32.3" stroke-width="2.5"/>
<path d="M463.9,517.4 L462.5,521.9" stroke-width="2.5"/>
<path d="M626.3,50.1 L626.7,50.3" stroke-width="2.5"/>
<path d="M1009.2,641.6 L1010.2,641.7" stroke-width="2.3"/>
<path d="M874.4,641.2 L873.2,645.0" stroke-width="2.7"/>
<path d="M754.7,45.2 L754.3,45.6" stroke-width="2.8"/>
<path d="M888.1,620.3 L888.3,621.2" stroke-width="2.8"/>
<path d="M1018.6,239.5 L1021.8,239.9" stroke-width="2.6"/>
<path d="M445.6,87.5 L445.5,88.5" stroke-width="2.7"/>
<path d="M574.2,30.3 L570.8,32.4" stroke-width="2.6"/>
<path d="M432.7,523.3 L432.3,526.5" stroke-width="2.5"/>
<path d="M590.7,49.0 L593.1,49.1" stroke-width="2.6"/>
<path d="M76.4,316.7 L71.8,318.1" stroke-width="2.4"/>
<path d="M666.2,556.1 L668.6,556.5" stroke-width="2.7"/>
<path d="M638.4,41.2 L640.4,42.6" stroke-width="2.7"/>
<path d="M528.7,529.1 L529.0,529.3" stroke-width="2.9"/>
<path d="M908.6,652.0 L909.6,652.1" stroke-width="2.5"/>
<path d="M401.3,521.7 L405.8,523.4" stroke-width="2.9"/>
<path d="M1017.5,124.4 L1020.3,128.3" stroke-width="2.2"/>
<path d="M985.0,365.6 L985.1,366.0" stroke-width="2.5"/>
<path d="M100.3,115.5 L101.2,116.0" stroke-width="2.8"/>
<path d="M112.6,96.7 L112.7,97.1" stroke-width="2.7"/>
<path d="M663.4,556.5 L661.1,557.0" stroke-width="2.6"/>
<path d="M483.6,35.7 L487.0,39.2" stroke-width="2.8"/>
<path d="M531.4,50.6 L532.4,50.7" stroke-width="2.1"/>
<path d="M957.0,37.8 L956.1,40.0" stroke-width="2.9"/>
<path d="M632.9,31.4 L633.5,32.2" stroke-width="2.7"/>
<path d="M1011.8,410.9 L1012.1,411.2" stroke-width="2.2"/>
<path d="M76.4,50.9 L76.8,50.9" stroke-width="2.9"/>
<path d="M983.8,665.0 L983.8,666.0" stroke-width="2.5"/>
<path d="M112.1,248.2 L112.8,250.5" stroke-width="2.9"/>
<path d="M954.8,650.9 L956.0,655.5" stroke-width="2.6"/>
<path d="M806.4,43.9 L810.8,45.7" stroke-width="2.9"/>
<path d="M1006.8,84.4 L1006.4,84.7" stroke-width="2.3"/>
<path d="M1002.0,120.6 L998.4,123.8" stroke-width="2.7"/>
<path d="M450.9,68.1 L453.7,69.6" stroke-width="2.7"/>
<path d="M926.8,40.5 L926.3,40.9" stroke-width="2.5"/>
<path d="M364.9,498.3 L365.2,498.5" stroke-width="2.9"/>
<path d="M675.9,46.7 L675.0,47.2" stroke-width="2.5"/>
<path d="M84.6,180.0 L84.7,180.5" stroke-width="2.2"/>
<path d="M989.5,493.6 L989.1,494.0" stroke-width="2.3"/>
<path d="M997.3,133.5 L996.8,133.6" stroke-width="2.4"/>
<path d="M981.8,80.1 L981.3,81.0" stroke-width="2.8"/>
<path d="M972.2,42.7 L976.2,42.7" stroke-width="2.4"/>
<path d="M673.4,28.5 L673.9,29.4" stroke-width="2.1"/>
<path d="M469.2,537.7 L469.0,538.3" stroke-width="2.2"/>
<path d="M89.1,278.3 L85.1,278.4" stroke-width="2.8"/>
<path d="M438.5,41.5 L438.0,41.8" stroke-width="2.3"/>
<path d="M448.2,492.8 L448.2,493.4" stroke-width="2.4"/>
<path d="M813.3,38.7 L812.7,38.9" stroke-width="2.9"/>
<path d="M664.3,579.6 L664.9,582.8" stroke-width="2.5"/>
<path d="M781.1,587.9 L781.5,588.3" stroke-width="2.7"/>
<path d="M419.1,38.9 L419.2,39.3" stroke-width="2.8"/>
<path d="M635.4,51.1 L637.8,51.2" stroke-width="2.9"/>
<path d="M368.1,485.7 L367.5,485.9" stroke-width="2.2"/>
<path d="M906.5,54.1 L906.0,54.2" stroke-width="2.3"/>
<path d="M1002.3,620.5 L1001.9,620.7" stroke-width="2.2"/>
<path d="M163.5,439.9 L163.6,440.5" stroke-width="2.6"/>
<path d="M223.3,466.7 L226.2,468.1" stroke-width="2.3"/>
<path d="M450.8,159.4 L451.8,159.6" stroke-width="2.3"/>
<path d="M808.3,625.0 L809.0,625.7" stroke-width="2.3"/>
<path d="M783.9,607.4 L783.5,610.6" stroke-width="2.8"/>
<path d="M978.5,39.3 L979.1,40.0" stroke-width="2.3"/>
<path d="M450.7,109.9 L454.5,112.9" stroke-width="2.5"/>
<path d="M962.4,645.3 L961.8,647.6" stroke-width="2.1"/>
<path d="M674.0,568.8 L674.4,568.9" stroke-width="2.3"/>
<path d="M949.0,37.2 L948.5,37.5" stroke-width="2.7"/>
<path d="M184.3,20.3 L184.7,20.4" stroke-width="2.9"/>
<path d="M981.4,568.7 L983.8,568.9" stroke-width="2.4"/>
<path d="M999.0,241.6 L1003.7,242.1" stroke-width="2.6"/>
<path d="M81.9,310.7 L82.1,311.0" stroke-width="2.9"/>
<path d="M203.3,32.5 L198.6,33.7" stroke-width="2.4"/>
<path d="M83.1,22.3 L82.1,27.0" stroke-width="2.9"/>
<path d="M91.5,365.1 L90.6,367.3" stroke-width="2.3"/>
<path d="M597.5,29.0 L594.3,29.4" stroke-width="2.1"/>
<path d="M437.4,26.1 L437.1,26.4" stroke-width="2.4"/>
<path d="M208.9,16.9 L209.9,17.1" stroke-width="2.1"/>
<path d="M1014.0,496.5 L1011.6,496.6" stroke-width="2.2"/>
<path d="M82.7,397.0 L86.4,400.0" stroke-width="2.9"/>
<path d="M837.1,597.5 L837.5,597.6" stroke-width="2.4"/>
<path d="M456.3,122.8 L456.5,123.2" stroke-width="2.7"/>
<path d="M987.9,644.1 L984.2,645.5" stroke-width="2.9"/>
<path d="M693.2,56.9 L692.5,57.6" stroke-width="2.4"/>
<path d="M917.3,628.6 L913.9,632.1" stroke-width="2.3"/>
<path d="M788.5,31.6 L789.1,31.8" stroke-width="2.7"/>
<path d="M263.9,469.2 L264.1,469.5" stroke-width="2.5"/>
<path d="M337.7,459.7 L335.9,461.3" stroke-width="2.5"/>
<path d="M453.4,30.8 L454.0,33.2" stroke-width="2.6"/>
<path d="M664.9,584.2 L665.4,588.2" stroke-width="2.6"/>
<path d="M98.7,352.3 L96.2,355.5" stroke-width="2.8"/>
<path d="M313.8,474.6 L316.9,475.3" stroke-width="2.4"/>
<path d="M993.4,287.3 L993.0,287.4" stroke-width="2.2"/>
<path d="M981.2,381.0 L980.8,384.2" stroke-width="2.4"/>
<path d="M465.5,37.7 L466.0,38.6" stroke-width="2.8"/>
<path d="M444.6,41.0 L440.7,42.0" stroke-width="2.2"/>
<path d="M728.4,26.4 L727.8,26.6" stroke-width="2.8"/>
<path d="M984.5,304.2 L984.6,304.6" stroke-width="2.4"/>
<path d="M343.3,51.2 L343.7,51.7" stroke-width="2.8"/>
<path d="M468.5,32.2 L468.4,32.5" stroke-width="2.3"/>
<path d="M1018.0,606.9 L1018.8,607.5" stroke-width="2.2"/>
<path d="M396.1,58.6 L395.8,59.1" stroke-width="2.7"/>
<path d="M979.8,365.0 L977.9,369.4" stroke-width="2.9"/>
<path d="M352.1,54.0 L352.4,55.0" stroke-width="2.8"/>
<path d="M920.7,641.6 L920.6,642.0" stroke-width="2.3"/>
<path d="M397.5,508.9 L396.3,511.9" stroke-width="2.4"/>
<path d="M1007.9,360.7 L1007.6,361.7" stroke-width="2.4"/>
<path d="M929.6,659.2 L932.8,659.5" stroke-width="2.6"/>
<path d="M79.9,41.9 L76.1,43.2" stroke-width="2.6"/>
<path d="M447.0,528.5 L443.9,529.4" stroke-width="2.6"/>
<path d="M104.9,93.1 L109.5,94.4" stroke-width="2.7"/>
<path d="M1022.4,367.1 L1019.0,369.2" stroke-width="2.5"/>
<path d="M482.3,510.1 L485.4,511.0" stroke-width="2.1"/>
<path d="M977.8,648.3 L978.1,648.5" stroke-width="2.8"/>
<path d="M687.3,558.4 L684.9,558.8" stroke-width="2.5"/>
<path d="M101.2,441.8 L104.0,444.8" stroke-width="2.3"/>
<path d="M115.6,39.9 L116.6,40.1" stroke-width="2.6"/>
<path d="M1002.4,143.1 L1003.3,145.3" stroke-width="2.5"/>
<path d="M158.8,21.9 L159.6,25.0" stroke-width="2.2"/>
<path d="M994.1,268.2 L991.2,270.9" stroke-width="2.8"/>
<path d="M392.4,493.9 L391.3,496.0" stroke-width="2.2"/>
<path d="M100.7,207.0 L101.4,209.3" stroke-width="2.7"/>
<path d="M111.0,230.3 L114.5,232.2" stroke-width="2.2"/>
<path d="M314.9,430.9 L317.0,432.2" stroke-width="2.3"/>
<path d="M840.8,39.0 L844.8,39.5" stroke-width="2.9"/>
<path d="M921.2,35.1 L923.1,36.6" stroke-width="2.2"/>
<path d="M96.9,55.7 L100.0,56.6" stroke-width="2.6"/>
<path d="M613.3,575.4 L613.8,577.8" stroke-width="2.9"/>
<path d="M412.4,483.8 L415.4,484.9" stroke-width="2.8"/>
<path d="M358.2,412.9 L360.2,414.2" stroke-width="2.5"/>
<path d="M107.2,417.7 L111.2,417.8" stroke-width="2.9"/>
<path d="M587.9,571.9 L588.2,572.4" stroke-width="2.6"/>
<path d="M979.1,252.5 L980.0,252.9" stroke-width="2.8"/>
<path d="M344.1,38.4 L343.7,38.6" stroke-width="2.2"/>
<path d="M98.0,20.0 L98.6,22.3" stroke-width="2.6"/>
<path d="M725.6,28.0 L725.3,32.0" stroke-width="2.6"/>
<path d="M108.3,444.0 L107.5,447.1" stroke-width="2.2"/>
<path d="M416.7,55.1 L414.5,58.5" stroke-width="2.8"/>
<path d="M145.8,23.1 L144.0,25.7" stroke-width="2.1"/>
<path d="M515.6,51.2 L520.4,51.7" stroke-width="2.5"/>
<path d="M119.7,431.6 L124.2,433.3" stroke-width="2.3"/>
<path d="M93.8,313.9 L98.0,316.2" stroke-width="2.8"/>
<path d="M146.9,428.2 L148.3,431.9" stroke-width="2.8"/>
<path d="M464.5,128.3 L464.5,129.3" stroke-width="2.2"/>
<path d="M277.3,48.0 L274.6,51.9" stroke-width="2.6"/>
<path d="M98.5,327.0 L96.4,330.3" stroke-width="2.8"/>
<path d="M581.4,52.2 L581.0,52.2" stroke-width="2.6"/>
<path d="M1008.2,203.1 L1008.1,203.5" stroke-width="2.3"/>
<path d="M573.0,567.2 L568.2,567.6" stroke-width="2.8"/>
<path d="M1001.7,578.4 L998.6,579.3" stroke-width="2.6"/>
<path d="M1011.2,443.2 L1014.1,444.5" stroke-width="2.2"/>
<path d="M975.3,55.1 L975.3,55.7" stroke-width="2.3"/>
<path d="M381.1,34.1 L377.2,37.0" stroke-width="2.7"/>
<path d="M515.6,43.6 L515.0,46.8" stroke-width="2.4"/>
<path d="M84.6,28.6 L85.4,29.2" stroke-width="2.9"/>
<path d="M800.2,37.1 L802.5,37.5" stroke-width="2.6"/>
<path d="M77.5,201.7 L78.0,202.0" stroke-width="2.2"/>
<path d="M266.7,447.8 L263.8,449.1" stroke-width="2.6"/>
<path d="M351.7,393.9 L351.3,394.8" stroke-width="2.2"/>
<path d="M939.3,643.6 L938.4,644.0" stroke-width="2.6"/>
<path d="M242.7,465.0 L242.5,469.8" stroke-width="2.1"/>
<path d="M997.6,146.5 L998.2,146.5" stroke-width="2.3"/>
<path d="M355.6,420.0 L355.4,422.4" stroke-width="2.5"/>
<path d="M220.7,40.6 L222.1,44.3" stroke-width="2.2"/>
<path d="M245.3,52.9 L245.7,53.7" stroke-width="2.9"/>
<path d="M254.3,15.3 L253.0,20.0" stroke-width="2.5"/>
<path d="M323.9,438.2 L321.5,440.3" stroke-width="2.3"/>
<path d="M998.4,539.4 L998.9,540.3" stroke-width="2.5"/>
<path d="M558.1,521.2 L558.2,521.8" stroke-width="2.6"/>
<path d="M174.4,454.9 L175.8,459.5" stroke-width="2.8"/>
<path d="M88.1,124.3 L87.7,124.4" stroke-width="2.7"/>
<path d="M333.2,419.7 L332.8,419.8" stroke-width="2.4"/>
<path d="M365.7,371.4 L367.7,372.6" stroke-width="2.6"/>
<path d="M990.1,333.8 L988.6,338.4" stroke-width="2.9"/>
<path d="M1009.8,199.2 L1010.2,199.3" stroke-width="2.3"/>
<path d="M80.5,50.7 L82.4,55.1" stroke-width="2.2"/>
<path d="M700.2,581.4 L701.0,582.0" stroke-width="2.8"/>
<path d="M917.0,626.0 L919.1,627.1" stroke-width="2.8"/>
<path d="M97.5,96.9 L94.6,100.7" stroke-width="2.3"/>
<path d="M257.4,452.1 L254.9,455.3" stroke-width="2.8"/>
<path d="M1019.1,293.2 L1016.2,295.9" stroke-width="2.1"/>
<path d="M107.3,119.8 L107.7,119.8" stroke-width="2.9"/>
<path d="M498.4,511.4 L500.8,511.4" stroke-width="2.4"/>
<path d="M861.8,641.4 L861.4,641.5" stroke-width="2.8"/>
<path d="M314.1,438.1 L313.7,438.5" stroke-width="2.3"/>
<path d="M744.3,572.3 L744.0,572.5" stroke-width="2.8"/>
<path d="M910.4,629.5 L908.0,629.6" stroke-width="2.8"/>
<path d="M1020.4,337.6 L1019.9,338.5" stroke-width="2.7"/>
<path d="M641.8,582.8 L642.1,587.6" stroke-width="2.3"/>
<path d="M923.6,646.9 L922.6,647.1" stroke-width="2.8"/>
<path d="M990.9,46.4 L990.3,46.5" stroke-width="2.6"/>
<path d="M971.6,637.1 L970.4,641.7" stroke-width="2.5"/>
<path d="M650.4,552.3 L647.2,552.6" stroke-width="2.4"/>
<path d="M325.4,426.9 L325.5,427.3" stroke-width="2.5"/>
<path d="M931.2,50.2 L931.7,50.6" stroke-width="2.6"/>
<path d="M998.4,383.3 L997.8,383.5" stroke-width="2.6"/>
<path d="M997.6,66.6 L995.4,70.9" stroke-width="2.9"/>
<path d="M675.1,553.0 L679.0,553.8" stroke-width="2.8"/>
<path d="M82.7,363.0 L82.9,363.3" stroke-width="2.6"/>
<path d="M1002.8,257.9 L1000.2,260.9" stroke-width="2.4"/>
<path d="M978.4,615.6 L977.9,616.5" stroke-width="2.3"/>
<path d="M137.1,25.8 L137.2,26.2" stroke-width="2.4"/>
<path d="M732.9,592.5 L730.8,596.8" stroke-width="2.2"/>
<path d="M1008.6,161.4 L1004.2,163.4" stroke-width="2.4"/>
<path d="M833.9,593.1 L830.6,595.3" stroke-width="2.4"/>
<path d="M821.7,30.4 L822.3,30.6" stroke-width="2.6"/>
<path d="M113.5,440.4 L111.4,443.7" stroke-width="2.4"/>
<path d="M645.6,24.8 L648.3,28.7" stroke-width="2.6"/>
<path d="M737.1,600.7 L736.7,600.9" stroke-width="2.5"/>
<path d="M885.0,612.9 L885.4,612.9" stroke-width="2.6"/>
<path d="M1014.1,566.0 L1017.1,569.7" stroke-width="2.6"/>
<path d="M987.7,293.8 L990.4,297.8" stroke-width="2.2"/>
<path d="M988.5,326.3 L988.7,326.9" stroke-width="2.3"/>
<path d="M1000.2,272.3 L1003.1,273.7" stroke-width="2.8"/>
<path d="M305.5,458.2 L309.4,458.9" stroke-width="2.2"/>
<path d="M256.5,442.0 L254.2,446.2" stroke-width="2.8"/>
<path d="M762.8,26.6 L763.4,26.7" stroke-width="2.7"/>
<path d="M332.9,55.8 L332.6,56.1" stroke-width="2.1"/>
<path d="M471.5,123.6 L467.5,123.9" stroke-width="2.4"/>
<path d="M95.9,204.0 L92.2,205.5" stroke-width="2.2"/>
<path d="M76.9,305.6 L74.5,305.8" stroke-width="2.9"/>
<path d="M333.1,398.8 L330.0,399.7" stroke-width="2.8"/>
<path d="M111.6,274.5 L111.3,274.8" stroke-width="2.5"/>
<path d="M329.1,35.4 L329.5,35.4" stroke-width="2.2"/>
<path d="M188.6,431.2 L188.8,431.5" stroke-width="2.5"/>
<path d="M387.3,53.5 L385.5,55.1" stroke-width="2.2"/>
<path d="M1009.9,633.2 L1008.0,636.7" stroke-width="2.8"/>
<path d="M879.4,24.5 L876.6,26.0" stroke-width="2.4"/>
<path d="M410.5,481.3 L410.3,481.9" stroke-width="2.6"/>
<path d="M916.4,634.0 L917.0,634.1" stroke-width="2.3"/>
<path d="M439.8,115.9 L440.8,116.2" stroke-width="2.1"/>
<path d="M470.1,101.2 L470.9,101.7" stroke-width="2.9"/>
<path d="M205.1,20.9 L207.3,21.9" stroke-width="2.7"/>
<path d="M1016.5,526.3 L1014.2,529.6" stroke-width="2.3"/>
<path d="M147.7,17.1 L147.3,17.6" stroke-width="2.7"/>
<path d="M898.7,641.4 L899.7,644.5" stroke-width="2.8"/>
<path d="M96.0,182.8 L96.3,183.1" stroke-width="2.2"/>
<path d="M128.1,420.1 L128.5,420.5" stroke-width="2.8"/>
<path d="M248.1,461.5 L248.2,462.5" stroke-width="2.2"/>
<path d="M958.0,624.0 L958.4,626.4" stroke-width="2.7"/>
<path d="M271.8,42.2 L269.9,44.8" stroke-width="2.9"/>
<path d="M102.0,376.4 L102.2,377.4" stroke-width="2.4"/>
<path d="M450.9,24.1 L450.8,26.5" stroke-width="2.3"/>
<path d="M720.1,30.0 L719.6,30.4" stroke-width="2.3"/>
<path d="M109.0,154.1 L108.1,154.6" stroke-width="2.6"/>
<path d="M315.4,481.8 L315.5,482.4" stroke-width="2.4"/>
<path d="M524.1,55.9 L523.6,56.3" stroke-width="2.9"/>
<path d="M936.4,45.6 L934.3,46.6" stroke-width="2.3"/>
<path d="M132.6,429.4 L132.0,429.6" stroke-width="2.2"/>
<path d="M759.0,46.9 L759.2,47.5" stroke-width="2.2"/>
<path d="M451.7,125.3 L450.5,127.4" stroke-width="2.2"/>
<path d="M796.1,600.4 L795.3,601.1" stroke-width="2.4"/>
<path d="M814.0,587.0 L811.0,588.1" stroke-width="2.6"/>
<path d="M247.7,50.0 L248.0,50.2" stroke-width="2.6"/>
<path d="M924.1,610.3 L923.4,614.2" stroke-width="2.1"/>
<path d="M96.6,194.7 L100.5,195.6" stroke-width="2.2"/>
<path d="M544.8,539.1 L545.1,539.5" stroke-width="2.1"/>
<path d="M679.5,567.2 L679.9,567.2" stroke-width="2.3"/>
<path d="M511.7,51.2 L511.8,51.6" stroke-width="2.8"/>
<path d="M438.8,152.9 L438.5,153.1" stroke-width="2.6"/>
<path d="M587.5,565.1 L585.0,567.0" stroke-width="2.4"/>
<path d="M857.8,49.7 L859.7,51.1" stroke-width="2.6"/>
<path d="M690.7,563.9 L690.7,564.5" stroke-width="2.1"/>
<path d="M298.9,481.2 L300.7,482.8" stroke-width="2.9"/>
<path d="M646.3,58.2 L641.5,58.8" stroke-width="2.2"/>
<path d="M446.9,510.1 L448.8,513.6" stroke-width="2.3"/>
<path d="M1002.4,294.0 L1002.3,294.4" stroke-width="2.6"/>
<path d="M441.2,504.2 L437.8,506.3" stroke-width="2.1"/>
<path d="M1000.2,439.9 L1002.6,440.1" stroke-width="2.3"/>
<path d="M985.3,500.8 L985.1,501.4" stroke-width="2.6"/>
<path d="M95.6,233.1 L94.4,236.1" stroke-width="2.5"/>
<path d="M995.5,242.4 L994.7,245.5" stroke-width="2.5"/>
<path d="M1005.0,172.3 L1008.3,174.6" stroke-width="2.6"/>
<path d="M323.0,54.2 L319.0,54.8" stroke-width="2.4"/>
<path d="M446.9,26.4 L445.7,28.5" stroke-width="2.4"/>
<path d="M145.8,444.0 L145.4,444.0" stroke-width="2.9"/>
<path d="M572.7,545.7 L572.7,546.3" stroke-width="2.8"/>
<path d="M109.0,429.4 L110.0,429.7" stroke-width="2.8"/>
<path d="M103.1,412.2 L102.9,413.2" stroke-width="2.5"/>
<path d="M993.0,645.7 L996.0,646.8" stroke-width="2.4"/>
<path d="M993.4,213.6 L993.7,213.9" stroke-width="2.7"/>
<path d="M868.2,629.7 L868.4,630.7" stroke-width="2.8"/>
<path d="M995.3,420.2 L997.9,424.3" stroke-width="2.1"/>
<path d="M435.6,498.1 L436.2,502.1" stroke-width="2.8"/>
<path d="M94.3,163.7 L92.1,167.1" stroke-width="2.1"/>
<path d="M89.2,68.7 L85.4,69.9" stroke-width="2.6"/>
<path d="M693.0,38.4 L693.4,38.8" stroke-width="2.6"/>
<path d="M364.5,512.4 L364.7,512.8" stroke-width="2.2"/>
<path d="M662.4,560.4 L660.1,561.0" stroke-width="2.6"/>
<path d="M1022.6,124.4 L1022.9,124.9" stroke-width="2.8"/>
<path d="M374.9,513.6 L377.5,517.6" stroke-width="2.8"/>
<path d="M488.2,54.9 L490.1,57.4" stroke-width="2.8"/>
<path d="M869.1,599.1 L872.0,602.9" stroke-width="2.4"/>
<path d="M460.7,107.7 L464.6,110.5" stroke-width="2.5"/>
<path d="M689.6,575.3 L688.3,579.1" stroke-width="2.1"/>
<path d="M990.2,196.0 L986.7,197.9" stroke-width="2.9"/>
<path d="M99.7,388.8 L99.3,389.2" stroke-width="2.4"/>
<path d="M338.8,386.6 L337.9,387.0" stroke-width="2.6"/>
<path d="M862.4,624.0 L863.0,628.7" stroke-width="2.2"/>
<path d="M92.2,307.0 L92.5,307.3" stroke-width="2.6"/>
<path d="M1010.6,452.6 L1011.9,456.4" stroke-width="2.4"/>
<path d="M520.6,541.2 L520.7,542.2" stroke-width="2.3"/>
<path d="M300.8,468.7 L304.8,471.4" stroke-width="2.1"/>
<path d="M1016.5,338.3 L1014.8,340.1" stroke-width="2.8"/>
<path d="M983.8,59.6 L987.6,60.9" stroke-width="2.4"/>
<path d="M603.8,561.1 L599.8,563.8" stroke-width="2.4"/>
<path d="M108.6,45.6 L108.5,45.9" stroke-width="2.6"/>
<path d="M350.3,495.5 L351.4,498.6" stroke-width="2.2"/>
<path d="M603.2,548.4 L602.6,552.3" stroke-width="2.4"/>
<path d="M113.4,423.2 L113.7,423.4" stroke-width="2.3"/>
<path d="M367.5,57.8 L369.0,59.7" stroke-width="2.5"/>
<path d="M984.8,179.4 L984.4,179.8" stroke-width="2.5"/>
<path d="M1000.6,160.5 L1000.9,160.7" stroke-width="2.3"/>
<path d="M960.2,644.8 L955.9,647.1" stroke-width="2.4"/>
<path d="M994.8,415.7 L997.1,417.8" stroke-width="2.3"/>
<path d="M486.7,543.7 L486.4,543.8" stroke-width="2.7"/>
<path d="M858.1,639.7 L855.3,641.3" stroke-width="2.2"/>
<path d="M511.9,537.6 L511.6,538.1" stroke-width="2.7"/>
<path d="M947.1,653.7 L946.8,654.0" stroke-width="2.1"/>
<path d="M609.3,539.8 L605.6,542.8" stroke-width="2.5"/>
<path d="M801.6,619.5 L802.4,619.9" stroke-width="2.5"/>
<path d="M162.6,33.4 L158.9,36.4" stroke-width="2.5"/>
<path d="M112.9,71.7 L116.3,73.9" stroke-width="2.5"/>
<path d="M231.7,436.6 L231.8,439.0" stroke-width="2.4"/>
<path d="M846.6,45.3 L849.6,46.3" stroke-width="2.7"/>
<path d="M99.8,382.7 L99.8,386.7" stroke-width="2.5"/>
<path d="M445.7,148.7 L445.2,149.0" stroke-width="2.6"/>
<path d="M112.3,178.8 L111.9,178.9" stroke-width="2.7"/>
<path d="M258.5,41.8 L258.2,45.8" stroke-width="2.6"/>
<path d="M951.4,625.8 L953.6,630.1" stroke-width="2.8"/>
<path d="M112.3,132.0 L111.0,134.9" stroke-width="2.4"/>
<path d="M549.3,49.8 L548.5,50.4" stroke-width="2.6"/>
<path d="M956.0,45.2 L955.7,47.6" stroke-width="2.9"/>
<path d="M611.9,546.7 L612.0,547.3" stroke-width="2.1"/>
<path d="M778.3,51.5 L781.5,51.8" stroke-width="2.6"/>
<path d="M1015.5,115.9 L1015.0,116.8" stroke-width="2.3"/>
<path d="M414.4,506.7 L411.3,509.2" stroke-width="2.4"/>
<path d="M1017.6,490.8 L1014.4,494.5" stroke-width="2.8"/>
<path d="M91.9,101.2 L91.5,101.6" stroke-width="2.5"/>
<path d="M371.6,20.0 L368.7,21.2" stroke-width="2.8"/>
<path d="M74.9,242.0 L75.4,242.3" stroke-width="2.5"/>
<path d="M637.4,581.6 L637.2,584.8" stroke-width="2.5"/>
<path d="M460.5,532.1 L461.4,532.4" stroke-width="2.6"/>
<path d="M593.5,32.1 L593.6,34.5" stroke-width="2.2"/>
<path d="M469.5,62.8 L469.1,66.8" stroke-width="2.5"/>
<path d="M88.9,394.2 L92.5,396.0" stroke-width="2.8"/>
<path d="M516.0,38.3 L512.1,39.1" stroke-width="2.4"/>
<path d="M980.2,256.1 L978.4,257.7" stroke-width="2.1"/>
<path d="M416.7,176.0 L416.3,176.1" stroke-width="2.5"/>
<path d="M979.2,285.7 L979.6,285.9" stroke-width="2.4"/>
<path d="M113.0,321.1 L109.9,321.8" stroke-width="2.6"/>
<path d="M645.0,38.7 L644.4,43.5" stroke-width="2.8"/>
<path d="M1007.8,451.3 L1006.3,453.2" stroke-width="2.8"/>
<path d="M125.6,31.5 L122.8,33.0" stroke-width="2.2"/>
<path d="M101.8,234.6 L104.4,238.7" stroke-width="2.6"/>
<path d="M1009.5,73.5 L1009.9,74.4" stroke-width="2.8"/>
<path d="M763.0,593.8 L763.1,594.8" stroke-width="2.1"/>
<path d="M348.9,364.4 L344.8,367.0" stroke-width="2.4"/>
<path d="M498.2,526.2 L498.0,526.8" stroke-width="2.3"/>
<path d="M308.2,31.2 L306.5,35.7" stroke-width="2.3"/>
<path d="M786.5,587.3 L786.3,587.6" stroke-width="2.4"/>
<path d="M917.4,650.8 L918.0,650.9" stroke-width="2.9"/>
<path d="M987.5,669.6 L987.3,669.9" stroke-width="2.8"/>
<path d="M787.8,622.7 L787.3,623.0" stroke-width="2.6"/>
<path d="M987.9,300.7 L988.0,301.1" stroke-width="2.2"/>
<path d="M614.9,534.9 L614.3,537.2" stroke-width="2.9"/>
<path d="M164.0,45.5 L166.6,49.6" stroke-width="2.5"/>
<path d="M80.5,28.4 L81.7,30.4" stroke-width="2.3"/>
<path d="M1008.8,240.3 L1008.0,240.9" stroke-width="2.3"/>
<path d="M270.2,469.6 L274.1,470.6" stroke-width="2.2"/>
<path d="M182.9,439.2 L186.0,439.8" stroke-width="2.5"/>
<path d="M253.9,439.2 L254.0,439.6" stroke-width="2.3"/>
<path d="M199.2,447.6 L203.9,448.5" stroke-width="2.9"/>
<path d="M1018.0,155.9 L1019.6,159.6" stroke-width="2.7"/>
<path d="M602.1,28.5 L601.5,28.6" stroke-width="2.4"/>
<path d="M479.0,45.3 L479.4,45.5" stroke-width="2.3"/>
<path d="M838.2,601.3 L835.0,602.0" stroke-width="2.5"/>
<path d="M83.9,224.3 L81.9,225.6" stroke-width="2.5"/>
<path d="M993.0,607.1 L991.4,610.8" stroke-width="2.6"/>
<path d="M101.4,16.4 L99.2,18.7" stroke-width="2.5"/>
<path d="M323.9,474.2 L327.8,475.2" stroke-width="2.8"/>
<path d="M443.3,507.0 L443.6,507.2" stroke-width="2.8"/>
<path d="M619.4,42.5 L619.8,42.6" stroke-width="2.8"/>
<path d="M292.1,22.2 L292.3,23.2" stroke-width="2.6"/>
<path d="M238.0,25.1 L237.4,25.2" stroke-width="2.3"/>
<path d="M245.2,461.6 L242.7,463.6" stroke-width="2.8"/>
<path d="M357.8,385.7 L358.0,386.7" stroke-width="2.9"/>
<path d="M787.0,600.0 L791.3,602.0" stroke-width="2.3"/>
<path d="M466.5,88.5 L469.5,91.1" stroke-width="2.6"/>
<path d="M933.7,645.9 L932.8,646.3" stroke-width="2.4"/>
<path d="M1000.7,279.5 L999.6,281.7" stroke-width="2.7"/>
<path d="M977.3,322.5 L980.5,322.9" stroke-width="2.7"/>
<path d="M258.8,55.4 L263.5,56.0" stroke-width="2.3"/>
<path d="M252.3,32.3 L248.5,33.5" stroke-width="2.5"/>
<path d="M73.6,339.3 L74.2,339.5" stroke-width="2.5"/>
<path d="M998.4,520.1 L998.3,520.7" stroke-width="2.6"/>
<path d="M998.3,478.0 L996.2,481.4" stroke-width="2.5"/>
<path d="M93.5,42.7 L93.9,43.6" stroke-width="2.7"/>
<path d="M598.9,537.5 L598.4,542.3" stroke-width="2.5"/>
<path d="M112.3,308.6 L109.4,310.0" stroke-width="2.4"/>
<path d="M988.4,584.9 L988.8,585.8" stroke-width="2.3"/>
<path d="M303.0,18.0 L302.3,20.3" stroke-width="2.2"/>
<path d="M107.5,380.6 L109.7,381.6" stroke-width="2.2"/>
<path d="M1018.1,372.4 L1017.5,372.4" stroke-width="2.7"/>
<path d="M990.5,559.2 L987.3,559.3" stroke-width="2.2"/>
<path d="M637.4,566.5 L636.8,566.7" stroke-width="2.8"/>
<path d="M731.3,581.4 L730.9,581.5" stroke-width="2.4"/>
<path d="M983.7,627.7 L983.1,627.8" stroke-width="2.3"/>
<path d="M166.6,54.9 L166.5,55.5" stroke-width="2.2"/>
<path d="M548.6,542.7 L547.2,544.6" stroke-width="2.5"/>
<path d="M979.6,359.3 L979.7,360.3" stroke-width="2.7"/>
<path d="M74.3,357.1 L73.3,359.3" stroke-width="2.8"/>
<path d="M341.2,459.7 L341.7,459.9" stroke-width="2.3"/>
<path d="M132.8,39.9 L133.1,40.4" stroke-width="2.9"/>
<path d="M409.3,512.4 L409.0,512.7" stroke-width="2.7"/>
<path d="M85.5,406.3 L86.6,409.3" stroke-width="2.6"/>
<path d="M474.7,500.8 L475.7,500.9" stroke-width="2.9"/>
<path d="M985.3,37.8 L983.0,38.5" stroke-width="2.7"/>
<path d="M989.4,226.2 L988.9,227.1" stroke-width="2.7"/>
<path d="M449.0,57.5 L449.9,58.0" stroke-width="2.5"/>
<path d="M90.1,53.3 L92.8,57.3" stroke-width="2.2"/>
<path d="M987.2,176.8 L987.4,177.1" stroke-width="2.7"/>
<path d="M862.4,28.8 L857.6,28.9" stroke-width="2.9"/>
<path d="M672.3,587.5 L670.3,591.0" stroke-width="2.6"/>
<path d="M995.6,572.5 L996.3,573.2" stroke-width="2.6"/>
<path d="M1013.5,40.7 L1009.7,43.7" stroke-width="2.5"/>
<path d="M490.2,36.5 L490.4,39.7" stroke-width="2.7"/>
<path d="M146.3,418.9 L150.8,420.7" stroke-width="2.5"/>
<path d="M947.3,51.6 L942.5,52.3" stroke-width="2.8"/>
<path d="M1013.4,246.1 L1018.1,246.9" stroke-width="2.6"/>
<path d="M156.8,427.5 L157.0,427.8" stroke-width="2.6"/>
<path d="M317.6,443.0 L319.7,445.4" stroke-width="2.6"/>
<path d="M400.6,518.8 L401.2,518.9" stroke-width="2.2"/>
<path d="M344.3,383.1 L344.7,383.2" stroke-width="2.2"/>
<path d="M306.9,475.6 L306.9,476.0" stroke-width="2.3"/>
<path d="M289.2,40.3 L289.5,44.3" stroke-width="2.9"/>
<path d="M572.1,37.6 L572.0,38.2" stroke-width="2.4"/>
<path d="M103.4,62.2 L103.7,62.6" stroke-width="2.2"/>
<path d="M1018.0,449.0 L1020.4,451.1" stroke-width="2.8"/>
<path d="M987.3,63.6 L988.1,64.1" stroke-width="2.6"/>
<path d="M347.8,435.0 L351.6,436.2" stroke-width="2.7"/>
<path d="M100.9,189.7 L102.3,194.2" stroke-width="2.9"/>
<path d="M992.4,552.6 L990.2,556.9" stroke-width="2.2"/>
<path d="M97.8,176.4 L98.4,178.8" stroke-width="2.4"/>
<path d="M1006.4,194.6 L1006.7,195.1" stroke-width="2.2"/>
<path d="M465.3,536.2 L462.9,536.3" stroke-width="2.3"/>
<path d="M256.5,484.6 L257.0,484.9" stroke-width="2.6"/>
<path d="M597.1,532.9 L599.1,535.4" stroke-width="2.7"/>
<path d="M595.5,574.4 L594.9,574.5" stroke-width="2.5"/>
<path d="M1007.4,99.8 L1008.1,100.6" stroke-width="2.2"/>
<path d="M786.1,53.3 L787.4,56.2" stroke-width="2.5"/>
<path d="M87.4,167.9 L87.9,168.2" stroke-width="2.6"/>
<path d="M403.7,502.9 L403.1,502.9" stroke-width="2.2"/>
<path d="M980.1,298.4 L980.5,298.9" stroke-width="2.8"/>
<path d="M987.3,231.3 L987.9,232.1" stroke-width="2.5"/>
<path d="M135.4,433.7 L135.6,434.0" stroke-width="2.8"/>
<path d="M426.5,136.3 L426.8,136.6" stroke-width="2.5"/>
<path d="M275.3,56.7 L273.1,57.8" stroke-width="2.4"/>
<path d="M314.7,447.4 L318.3,450.6" stroke-width="2.7"/>
<path d="M107.6,70.3 L108.0,70.4" stroke-width="2.3"/>
<path d="M413.6,39.8 L412.8,40.3" stroke-width="2.4"/>
<path d="M76.1,74.3 L77.1,74.7" stroke-width="2.5"/>
<path d="M795.3,55.6 L795.8,56.0" stroke-width="2.5"/>
<path d="M933.6,638.3 L935.1,640.1" stroke-width="2.8"/>
<path d="M336.6,470.5 L336.5,474.5" stroke-width="2.2"/>
<path d="M633.0,27.3 L637.2,29.7" stroke-width="2.5"/>
<path d="M1013.9,584.3 L1015.4,586.3" stroke-width="2.4"/>
<path d="M337.2,504.1 L337.4,504.5" stroke-width="2.3"/>
<path d="M826.3,599.9 L827.0,603.0" stroke-width="2.1"/>
<path d="M259.6,473.7 L260.0,473.8" stroke-width="2.1"/>
<path d="M671.8,575.4 L673.3,578.3" stroke-width="2.4"/>
<path d="M994.6,516.6 L993.6,516.7" stroke-width="2.7"/>
<path d="M129.6,451.1 L129.1,451.9" stroke-width="2.4"/>
<path d="M185.6,460.1 L189.5,462.8" stroke-width="2.8"/>
<path d="M913.6,638.9 L913.4,641.3" stroke-width="2.6"/>
<path d="M237.2,443.4 L237.1,443.8" stroke-width="2.2"/>
<path d="M315.7,466.2 L315.7,466.6" stroke-width="2.8"/>
<path d="M711.5,589.5 L716.3,590.1" stroke-width="2.8"/>
<path d="M985.8,282.6 L988.8,283.7" stroke-width="2.9"/>
<path d="M1001.5,651.3 L998.1,653.3" stroke-width="2.9"/>
<path d="M105.6,146.1 L108.4,147.6" stroke-width="2.6"/>
<path d="M167.9,457.6 L168.2,458.1" stroke-width="2.3"/>
<path d="M994.7,345.3 L991.6,348.9" stroke-width="2.3"/>
<path d="M853.3,596.5 L851.7,600.1" stroke-width="2.8"/>
<path d="M1003.7,188.9 L1004.3,189.7" stroke-width="2.5"/>
<path d="M197.7,441.4 L200.3,444.5" stroke-width="2.1"/>
<path d="M817.0,38.3 L817.1,38.9" stroke-width="2.3"/>
<path d="M869.1,636.2 L867.7,639.1" stroke-width="2.3"/>
<path d="M657.4,587.3 L653.4,587.5" stroke-width="2.7"/>
<path d="M417.6,162.9 L415.3,163.5" stroke-width="2.5"/>
<path d="M860.0,62.0 L859.8,62.5" stroke-width="2.1"/>
<path d="M113.8,48.1 L114.2,49.0" stroke-width="2.5"/>
<path d="M582.9,544.9 L585.3,545.4" stroke-width="2.4"/>
<path d="M259.7,478.2 L257.3,478.7" stroke-width="2.4"/>
<path d="M980.4,386.9 L976.5,389.7" stroke-width="2.3"/>
<path d="M695.2,558.0 L695.3,559.0" stroke-width="2.3"/>
<path d="M356.9,380.2 L357.6,382.5" stroke-width="2.3"/>
<path d="M996.5,255.9 L996.2,256.1" stroke-width="2.8"/>
<path d="M102.9,184.2 L103.0,184.6" stroke-width="2.2"/>
<path d="M83.5,354.6 L84.5,354.8" stroke-width="2.7"/>
<path d="M72.9,89.0 L75.7,91.9" stroke-width="2.7"/>
<path d="M489.0,503.5 L486.5,507.6" stroke-width="2.8"/>
<path d="M1005.2,316.0 L1002.7,320.1" stroke-width="2.4"/>
<path d="M717.2,39.6 L717.4,40.0" stroke-width="2.8"/>
<path d="M79.0,384.4 L77.5,387.2" stroke-width="2.4"/>
<path d="M204.8,427.3 L202.0,428.8" stroke-width="2.4"/>
<path d="M691.6,61.3 L691.9,61.8" stroke-width="2.8"/>
<path d="M982.4,274.8 L982.8,274.8" stroke-width="2.3"/>
<path d="M979.5,668.6 L978.7,670.9" stroke-width="2.5"/>
<path d="M89.6,169.8 L94.3,171.1" stroke-width="2.4"/>
<path d="M372.8,55.5 L373.3,55.9" stroke-width="2.7"/>
<path d="M444.5,118.5 L445.5,118.6" stroke-width="2.5"/>
<path d="M841.5,25.6 L841.2,25.9" stroke-width="2.2"/>
<path d="M430.5,173.1 L433.7,173.9" stroke-width="2.8"/>
<path d="M455.9,169.4 L455.1,174.2" stroke-width="2.8"/>
<path d="M786.4,62.8 L786.8,62.8" stroke-width="2.3"/>
<path d="M292.5,451.3 L290.5,452.6" stroke-width="2.4"/>
<path d="M132.4,436.8 L132.0,437.0" stroke-width="2.6"/>
<path d="M981.4,266.4 L978.2,266.6" stroke-width="2.4"/>
<path d="M963.6,634.3 L964.5,634.8" stroke-width="2.1"/>
<path d="M452.8,74.4 L453.2,74.9" stroke-width="2.7"/>
<path d="M361.7,377.9 L359.3,380.0" stroke-width="2.7"/>
<path d="M890.8,623.9 L894.1,627.5" stroke-width="2.2"/>
<path d="M981.9,189.4 L982.2,189.9" stroke-width="2.7"/>
<path d="M89.7,89.1 L91.1,91.1" stroke-width="2.8"/>
<path d="M728.4,578.8 L726.9,580.6" stroke-width="2.6"/>
<path d="M807.1,54.9 L808.4,56.9" stroke-width="2.1"/>
<path d="M481.8,90.9 L481.6,91.9" stroke-width="2.6"/>
<path d="M81.8,413.1 L81.2,417.1" stroke-width="2.2"/>
<path d="M177.1,430.0 L176.9,430.4" stroke-width="2.3"/>
<path d="M788.7,611.6 L789.2,611.9" stroke-width="2.7"/>
<path d="M827.7,625.1 L830.9,627.5" stroke-width="2.2"/>
<path d="M99.2,344.3 L99.9,346.6" stroke-width="2.3"/>
<path d="M530.6,554.3 L534.9,556.4" stroke-width="2.1"/>
<path d="M158.5,421.9 L154.6,422.8" stroke-width="2.4"/>
<path d="M234.0,470.3 L231.5,472.3" stroke-width="2.6"/>
<path d="M998.3,510.2 L999.1,513.2" stroke-width="2.2"/>
<path d="M1019.3,582.6 L1018.8,586.6" stroke-width="2.1"/>
<path d="M166.9,427.5 L166.2,428.2" stroke-width="2.5"/>
<path d="M861.0,616.1 L861.4,616.5" stroke-width="2.7"/>
<path d="M137.7,435.5 L137.9,438.7" stroke-width="2.5"/>
<path d="M458.3,33.5 L458.6,34.5" stroke-width="2.4"/>
<path d="M272.0,449.8 L271.4,450.5" stroke-width="2.5"/>
<path d="M696.4,46.4 L698.8,48.6" stroke-width="2.8"/>
<path d="M238.3,20.6 L241.0,22.3" stroke-width="2.5"/>
<path d="M174.7,435.7 L174.5,436.3" stroke-width="2.4"/>
<path d="M629.9,573.0 L629.2,573.7" stroke-width="2.2"/>
<path d="M75.3,111.6 L74.7,112.4" stroke-width="2.9"/>
<path d="M955.9,61.6 L953.1,65.5" stroke-width="2.5"/>
<path d="M1018.0,596.7 L1017.6,596.8" stroke-width="2.6"/>
<path d="M98.9,339.3 L98.3,339.3" stroke-width="2.6"/>
<path d="M611.8,540.0 L612.4,540.2" stroke-width="2.2"/>
<path d="M108.8,40.6 L112.5,42.2" stroke-width="2.3"/>
<path d="M757.9,586.4 L757.6,586.5" stroke-width="2.6"/>
<path d="M708.9,30.1 L708.4,30.3" stroke-width="2.6"/>
<path d="M465.7,29.9 L464.2,31.8" stroke-width="2.5"/>
<path d="M885.0,40.2 L882.7,40.9" stroke-width="2.8"/>
<path d="M97.8,414.7 L97.3,415.5" stroke-width="2.5"/>
<path d="M836.7,24.3 L836.6,25.3" stroke-width="2.2"/>
<path d="M977.9,459.7 L977.8,460.7" stroke-width="2.1"/>
<path d="M422.2,42.9 L422.5,43.9" stroke-width="2.4"/>
<path d="M708.1,600.4 L707.8,600.6" stroke-width="2.4"/>
<path d="M966.8,52.7 L964.1,56.6" stroke-width="2.3"/>
<path d="M557.0,47.5 L556.8,48.5" stroke-width="2.6"/>
<path d="M620.4,48.2 L616.4,48.4" stroke-width="2.4"/>
<path d="M656.3,561.3 L657.3,563.5" stroke-width="2.2"/>
<path d="M990.8,83.2 L990.7,83.8" stroke-width="2.8"/>
<path d="M717.2,60.8 L716.2,61.2" stroke-width="2.4"/>
<path d="M688.1,595.2 L688.3,595.6" stroke-width="2.2"/>
<path d="M369.0,54.1 L368.7,54.6" stroke-width="2.9"/>
<path d="M948.1,630.2 L947.5,631.0" stroke-width="2.6"/>
<path d="M82.2,184.8 L78.3,187.5" stroke-width="2.9"/>
<path d="M1000.8,299.6 L1001.1,299.8" stroke-width="2.8"/>
<path d="M1009.7,342.2 L1011.7,344.7" stroke-width="2.3"/>
<path d="M434.2,487.9 L438.6,489.9" stroke-width="2.6"/>
<path d="M989.3,466.1 L990.0,466.8" stroke-width="2.7"/>
<path d="M1003.7,286.5 L1000.8,290.3" stroke-width="2.2"/>
<path d="M723.7,605.6 L721.3,607.8" stroke-width="2.3"/>
<path d="M1016.9,102.7 L1017.5,103.5" stroke-width="2.7"/>
<path d="M626.0,21.0 L628.1,25.3" stroke-width="2.7"/>
<path d="M942.6,622.4 L942.1,623.3" stroke-width="2.8"/>
<path d="M720.8,46.9 L721.0,47.2" stroke-width="2.4"/>
<path d="M371.6,40.5 L372.1,40.9" stroke-width="2.6"/>
<path d="M713.0,605.4 L717.8,605.8" stroke-width="2.6"/>
<path d="M285.1,446.8 L284.5,451.6" stroke-width="2.7"/>
<path d="M530.5,24.6 L530.5,25.1" stroke-width="2.8"/>
<path d="M736.1,52.5 L736.9,53.1" stroke-width="2.4"/>
<path d="M948.6,656.9 L951.7,660.6" stroke-width="2.5"/>
<path d="M1020.6,225.3 L1020.6,228.5" stroke-width="2.2"/>
<path d="M576.9,31.4 L576.9,31.8" stroke-width="2.1"/>
<path d="M82.6,375.3 L82.4,375.9" stroke-width="2.4"/>
<path d="M450.7,148.7 L451.0,148.9" stroke-width="2.7"/>
<path d="M1022.6,348.1 L1019.5,348.5" stroke-width="2.1"/>
<path d="M89.9,109.2 L87.4,111.3" stroke-width="2.2"/>
<path d="M903.3,628.2 L905.7,632.4" stroke-width="2.1"/>
<path d="M75.1,313.0 L79.8,314.1" stroke-width="2.5"/>
<path d="M136.1,53.4 L135.6,53.6" stroke-width="2.1"/>
<path d="M981.4,196.6 L980.8,196.7" stroke-width="2.7"/>
<path d="M80.0,243.0 L80.9,243.5" stroke-width="2.5"/>
<path d="M451.9,512.6 L451.8,513.2" stroke-width="2.4"/>
<path d="M1013.2,503.9 L1014.2,503.9" stroke-width="2.4"/>
<path d="M110.3,292.6 L112.3,296.9" stroke-width="2.1"/>
<path d="M393.0,32.0 L392.7,32.3" stroke-width="2.6"/>
<path d="M849.7,620.6 L849.7,621.2" stroke-width="2.5"/>
<path d="M94.3,173.6 L94.0,176.8" stroke-width="2.4"/>
<path d="M640.7,25.1 L640.5,25.3" stroke-width="2.1"/>
<path d="M388.9,20.1 L390.7,22.7" stroke-width="2.7"/>
<path d="M446.8,137.0 L447.8,137.2" stroke-width="2.7"/>
<path d="M601.3,576.4 L600.3,576.5" stroke-width="2.1"/>
<path d="M977.6,663.4 L975.9,665.2" stroke-width="2.2"/>
<path d="M376.3,22.2 L377.9,24.0" stroke-width="2.6"/>
<path d="M1013.8,629.0 L1017.4,630.6" stroke-width="2.5"/>
<path d="M894.9,63.3 L894.6,63.8" stroke-width="2.5"/>
<path d="M88.1,210.2 L85.8,210.9" stroke-width="2.2"/>
<path d="M1022.4,68.3 L1022.6,71.5" stroke-width="2.8"/>
<path d="M709.6,576.6 L708.9,580.6" stroke-width="2.4"/>
<path d="M311.3,51.6 L311.3,55.6" stroke-width="2.3"/>
<path d="M1008.4,396.4 L1008.6,396.7" stroke-width="2.7"/>
<path d="M160.6,416.8 L157.4,419.2" stroke-width="2.7"/>
<path d="M240.2,456.0 L243.2,458.6" stroke-width="2.1"/>
<path d="M734.7,602.9 L732.0,604.6" stroke-width="2.3"/>
<path d="M378.0,57.3 L379.6,59.0" stroke-width="2.6"/>
<path d="M831.8,596.7 L831.6,600.6" stroke-width="2.5"/>
<path d="M992.2,105.2 L988.2,105.3" stroke-width="2.6"/>
<path d="M1002.4,86.2 L1002.6,86.7" stroke-width="2.7"/>
<path d="M146.6,52.3 L143.4,52.3" stroke-width="2.1"/>
<path d="M79.8,419.8 L84.1,421.9" stroke-width="2.6"/>
<path d="M1019.2,318.1 L1019.0,318.6" stroke-width="2.8"/>
<path d="M110.7,65.0 L109.7,65.3" stroke-width="2.4"/>
<path d="M234.0,451.8 L236.4,452.0" stroke-width="2.7"/>
<path d="M109.0,195.0 L106.9,199.4" stroke-width="2.4"/>
<path d="M793.0,613.5 L793.6,613.8" stroke-width="2.4"/>
<path d="M657.1,577.0 L659.0,578.4" stroke-width="2.6"/>
<path d="M1016.2,377.6 L1019.4,377.6" stroke-width="2.8"/>
<path d="M204.0,29.6 L205.8,31.2" stroke-width="2.4"/>
<path d="M994.7,305.0 L992.4,305.6" stroke-width="2.2"/>
<path d="M1008.3,69.7 L1006.0,70.2" stroke-width="2.8"/>
<path d="M91.5,229.5 L92.4,230.0" stroke-width="2.4"/>
<path d="M223.9,24.5 L221.5,24.7" stroke-width="2.5"/>
<path d="M985.4,258.8 L987.2,260.3" stroke-width="2.6"/>
<path d="M1015.8,420.5 L1017.2,425.1" stroke-width="2.8"/>
<path d="M982.7,122.7 L985.4,126.7" stroke-width="2.8"/>
<path d="M425.1,51.5 L422.2,53.0" stroke-width="2.6"/>
<path d="M355.1,54.2 L358.0,55.5" stroke-width="2.3"/>
<path d="M736.7,609.4 L737.1,609.9" stroke-width="2.5"/>
<path d="M301.3,489.3 L301.1,491.7" stroke-width="2.8"/>
<path d="M282.8,474.3 L284.6,477.9" stroke-width="2.5"/>
<path d="M565.8,564.1 L565.9,564.5" stroke-width="2.3"/>
<path d="M433.0,154.8 L433.6,154.9" stroke-width="2.5"/>
<path d="M1022.9,40.0 L1024.2,42.0" stroke-width="2.8"/>
<path d="M652.4,58.5 L652.8,59.0" stroke-width="2.8"/>
<path d="M764.3,40.7 L762.7,42.4" stroke-width="2.5"/>
<path d="M985.3,358.3 L989.1,359.6" stroke-width="2.2"/>
<path d="M1005.7,310.4 L1003.8,314.0" stroke-width="2.2"/>
<path d="M141.3,54.0 L141.7,54.5" stroke-width="2.2"/>
<path d="M614.9,46.8 L612.8,50.3" stroke-width="2.5"/>
<path d="M252.4,39.9 L252.4,40.5" stroke-width="2.7"/>
<path d="M528.9,28.9 L532.5,30.6" stroke-width="2.2"/>
<path d="M871.5,615.6 L871.8,615.8" stroke-width="2.4"/>
<path d="M717.2,33.9 L713.9,37.4" stroke-width="2.3"/>
<path d="M674.7,584.4 L674.9,588.4" stroke-width="2.4"/>
<path d="M294.1,473.0 L294.5,473.4" stroke-width="2.1"/>
<path d="M989.1,372.6 L992.3,375.0" stroke-width="2.4"/>
<path d="M611.8,568.5 L615.1,572.0" stroke-width="2.6"/>
<path d="M407.3,485.7 L403.8,487.6" stroke-width="2.3"/>
<path d="M281.5,22.5 L276.8,23.5" stroke-width="2.3"/>
<path d="M90.7,203.1 L89.3,205.1" stroke-width="2.4"/>
<path d="M321.1,493.2 L324.5,496.6" stroke-width="2.7"/>
<path d="M544.6,59.7 L544.4,60.7" stroke-width="2.4"/>
<path d="M377.6,482.6 L376.6,487.3" stroke-width="2.5"/>
<path d="M549.9,55.7 L549.7,59.7" stroke-width="2.5"/>
<path d="M748.8,587.8 L748.5,588.1" stroke-width="2.4"/>
<path d="M689.2,553.7 L689.3,557.7" stroke-width="2.3"/>
<path d="M535.7,44.7 L536.1,44.7" stroke-width="2.7"/>
<path d="M1011.6,404.1 L1011.5,404.7" stroke-width="2.3"/>
<path d="M76.7,17.5 L76.5,18.1" stroke-width="2.6"/>
<path d="M670.4,33.9 L670.7,34.1" stroke-width="2.3"/>
<path d="M342.4,417.3 L340.4,419.8" stroke-width="2.8"/>
<path d="M578.4,546.4 L575.1,548.7" stroke-width="2.7"/>
<path d="M994.4,154.5 L994.6,155.1" stroke-width="2.7"/>
<path d="M259.5,24.3 L256.0,27.6" stroke-width="2.4"/>
<path d="M108.9,16.3 L109.3,16.5" stroke-width="2.4"/>
<path d="M800.1,60.9 L800.9,63.2" stroke-width="2.4"/>
<path d="M987.4,209.4 L987.0,209.5" stroke-width="2.6"/>
<path d="M383.6,488.4 L379.6,488.5" stroke-width="2.6"/>
<path d="M256.3,449.1 L256.2,449.5" stroke-width="2.4"/>
<path d="M611.1,43.3 L610.8,43.8" stroke-width="2.8"/>
<path d="M406.4,494.1 L406.2,495.0" stroke-width="2.9"/>
<path d="M996.9,623.1 L997.2,626.2" stroke-width="2.5"/>
<path d="M93.5,387.5 L97.0,390.7" stroke-width="2.3"/>
<path d="M625.0,37.6 L625.6,37.6" stroke-width="2.4"/>
<path d="M955.7,50.3 L955.6,50.9" stroke-width="2.1"/>
<path d="M776.7,42.2 L780.5,43.6" stroke-width="2.9"/>
<path d="M212.7,458.4 L216.5,459.7" stroke-width="2.7"/>
<path d="M300.7,30.3 L299.9,30.9" stroke-width="2.8"/>
<path d="M341.9,22.1 L344.9,23.3" stroke-width="2.5"/>
<path d="M182.0,435.4 L179.9,436.6" stroke-width="2.9"/>
<path d="M536.9,54.0 L539.3,54.2" stroke-width="2.7"/>
<path d="M542.0,24.4 L541.1,24.8" stroke-width="2.7"/>
<path d="M996.2,657.5 L992.9,659.8" stroke-width="2.9"/>
<path d="M477.8,513.8 L478.7,514.3" stroke-width="2.1"/>
<path d="M723.3,581.6 L723.0,581.9" stroke-width="2.7"/>
<path d="M805.7,610.6 L806.5,611.2" stroke-width="2.8"/>
<path d="M1005.9,64.3 L1006.3,64.3" stroke-width="2.4"/>
<path d="M1021.1,162.3 L1022.0,164.5" stroke-width="2.3"/>
<path d="M430.1,165.9 L429.7,166.3" stroke-width="2.1"/>
<path d="M193.2,450.2 L193.1,450.8" stroke-width="2.6"/>
<path d="M462.9,150.6 L463.3,150.7" stroke-width="2.5"/>
<path d="M863.1,58.4 L864.2,61.4" stroke-width="2.7"/>
<path d="M509.0,25.3 L506.7,28.6" stroke-width="2.7"/>
<path d="M339.4,452.6 L339.3,453.0" stroke-width="2.2"/>
<path d="M804.9,62.0 L804.4,62.9" stroke-width="2.5"/>
<path d="M551.9,29.7 L550.2,31.4" stroke-width="2.7"/>
<path d="M991.3,443.1 L993.6,443.8" stroke-width="2.4"/>
<path d="M89.2,104.6 L92.2,107.2" stroke-width="2.3"/>
<path d="M340.3,392.9 L339.4,393.2" stroke-width="2.5"/>
<path d="M590.2,53.8 L592.2,56.2" stroke-width="2.2"/>
<path d="M989.6,58.1 L992.7,58.6" stroke-width="2.5"/>
<path d="M515.0,552.7 L515.4,553.1" stroke-width="2.3"/>
<path d="M350.4,445.1 L351.3,445.5" stroke-width="2.6"/>
<path d="M366.4,20.2 L362.5,21.0" stroke-width="2.3"/>
<path d="M1004.4,600.3 L1004.8,600.4" stroke-width="2.3"/>
<path d="M781.2,613.2 L784.4,613.8" stroke-width="2.4"/>
<path d="M605.6,562.4 L606.6,562.7" stroke-width="2.7"/>
<path d="M204.8,458.9 L204.7,459.9" stroke-width="2.6"/>
<path d="M111.7,300.2 L112.1,304.1" stroke-width="2.6"/>
<path d="M1006.7,280.8 L1006.1,281.0" stroke-width="2.6"/>
<path d="M986.4,376.3 L985.9,376.7" stroke-width="2.5"/>
<path d="M510.8,551.0 L507.4,554.4" stroke-width="2.3"/>
<path d="M75.0,433.7 L74.2,434.2" stroke-width="2.5"/>
<path d="M1007.1,582.8 L1004.8,583.3" stroke-width="2.7"/>
<path d="M881.0,606.1 L885.5,607.6" stroke-width="2.5"/>
<path d="M998.6,499.1 L1001.8,499.4" stroke-width="2.8"/>
<path d="M1017.6,473.3 L1017.5,475.7" stroke-width="2.3"/>
<path d="M736.2,60.8 L735.2,60.8" stroke-width="2.6"/>
<path d="M309.2,39.7 L312.9,42.7" stroke-width="2.2"/>
<path d="M590.0,559.7 L594.0,562.3" stroke-width="2.7"/>
<path d="M612.8,38.3 L614.9,39.4" stroke-width="2.6"/>
<path d="M712.1,561.0 L713.3,563.1" stroke-width="2.1"/>
<path d="M98.0,166.1 L96.5,168.0" stroke-width="2.3"/>
<path d="M661.8,575.6 L662.3,576.0" stroke-width="2.5"/>
<path d="M228.4,27.3 L228.7,27.8" stroke-width="2.5"/>
<path d="M95.4,258.0 L98.5,261.6" stroke-width="2.4"/>
<path d="M442.7,110.5 L443.1,115.3" stroke-width="2.3"/>
<path d="M386.0,355.3 L388.4,355.5" stroke-width="2.5"/>
<path d="M750.2,606.1 L750.1,606.7" stroke-width="2.4"/>
<path d="M633.6,550.3 L635.0,552.3" stroke-width="2.5"/>
<path d="M619.9,558.3 L622.3,558.7" stroke-width="2.7"/>
<path d="M755.3,578.7 L755.2,581.9" stroke-width="2.7"/>
<path d="M228.1,471.8 L228.3,472.3" stroke-width="2.9"/>
<path d="M992.3,275.7 L993.2,276.1" stroke-width="2.3"/>
<path d="M93.6,266.6 L97.2,269.7" stroke-width="2.8"/>
<path d="M511.9,57.5 L513.3,59.4" stroke-width="2.2"/>
<path d="M450.6,116.6 L449.6,116.9" stroke-width="2.7"/>
<path d="M619.5,535.3 L617.5,539.6" stroke-width="2.4"/>
<path d="M97.0,86.4 L98.0,86.7" stroke-width="2.2"/>
<path d="M605.0,60.5 L605.0,61.1" stroke-width="2.2"/>
<path d="M1020.6,454.3 L1016.6,454.6" stroke-width="2.5"/>
<path d="M834.6,58.4 L830.7,59.6" stroke-width="2.4"/>
<path d="M163.8,422.9 L165.8,424.2" stroke-width="2.1"/>
<path d="M980.8,368.2 L984.0,371.8" stroke-width="2.8"/>
<path d="M451.0,537.2 L451.3,537.4" stroke-width="2.8"/>
<path d="M889.6,28.3 L886.8,31.2" stroke-width="2.2"/>
<path d="M868.2,623.7 L867.9,623.9" stroke-width="2.5"/>
<path d="M1010.9,408.1 L1007.7,408.4" stroke-width="2.6"/>
<path d="M375.8,478.8 L374.9,482.7" stroke-width="2.5"/>
<path d="M982.0,514.0 L981.5,514.3" stroke-width="2.4"/>
<path d="M504.2,60.3 L503.2,60.4" stroke-width="2.3"/>
<path d="M909.8,609.6 L909.2,609.7" stroke-width="2.9"/>
<path d="M1008.2,143.1 L1007.8,143.6" stroke-width="2.1"/>
<path d="M970.7,623.4 L969.9,626.5" stroke-width="2.8"/>
<path d="M214.2,44.3 L214.9,49.0" stroke-width="2.2"/>
<path d="M196.7,29.4 L196.3,29.6" stroke-width="2.2"/>
<path d="M924.6,617.0 L924.6,621.0" stroke-width="2.5"/>
<path d="M81.8,65.2 L82.0,65.6" stroke-width="2.9"/>
<path d="M77.2,80.5 L76.8,80.7" stroke-width="2.7"/>
<path d="M854.3,26.5 L854.7,26.9" stroke-width="2.8"/>
<path d="M1009.5,553.3 L1007.6,555.8" stroke-width="2.5"/>
<path d="M325.5,53.2 L325.1,53.3" stroke-width="2.4"/>
<path d="M112.7,79.0 L113.7,82.0" stroke-width="2.6"/>
<path d="M986.4,521.3 L982.5,521.9" stroke-width="2.8"/>
<path d="M984.0,206.7 L982.0,208.0" stroke-width="2.5"/>
<path d="M442.2,128.1 L442.6,128.2" stroke-width="2.7"/>
<path d="M967.9,60.9 L967.8,61.9" stroke-width="2.9"/>
<path d="M588.4,534.3 L584.7,537.4" stroke-width="2.2"/>
<path d="M447.5,142.5 L446.6,145.6" stroke-width="2.3"/>
<path d="M327.2,483.3 L326.2,483.7" stroke-width="2.1"/>
<path d="M981.3,47.0 L985.7,48.9" stroke-width="2.6"/>
<path d="M216.6,17.9 L219.8,20.4" stroke-width="2.3"/>
<path d="M101.5,233.1 L97.1,234.8" stroke-width="2.3"/>
<path d="M231.0,22.8 L230.8,23.1" stroke-width="2.7"/>
<path d="M1005.3,643.2 L1000.6,644.4" stroke-width="2.5"/>
<path d="M965.0,622.6 L965.4,623.1" stroke-width="2.8"/>
<path d="M993.0,192.7 L993.6,193.0" stroke-width="2.6"/>
<path d="M457.9,140.2 L457.3,141.0" stroke-width="2.5"/>
<path d="M112.1,123.5 L114.3,124.5" stroke-width="2.3"/>
<path d="M110.6,149.8 L115.3,150.9" stroke-width="2.4"/>
<path d="M1006.6,185.8 L1006.0,185.9" stroke-width="2.4"/>
<path d="M681.5,45.6 L680.7,46.2" stroke-width="2.4"/>
<path d="M82.5,175.0 L84.9,177.1" stroke-width="2.8"/>
<path d="M490.8,79.0 L487.6,79.2" stroke-width="2.6"/>
<path d="M987.7,653.3 L988.4,655.6" stroke-width="2.8"/>
<path d="M436.2,490.7 L439.3,494.3" stroke-width="2.6"/>
<path d="M188.6,30.0 L188.7,31.0" stroke-width="2.2"/>
<path d="M407.6,24.7 L407.5,25.1" stroke-width="2.9"/>
<path d="M408.5,504.3 L410.0,507.1" stroke-width="2.6"/>
<path d="M996.8,430.4 L999.1,431.2" stroke-width="2.7"/>
<path d="M139.8,40.0 L140.7,42.2" stroke-width="2.8"/>
<path d="M138.6,441.5 L143.0,443.3" stroke-width="2.9"/>
<path d="M178.7,422.1 L178.5,423.0" stroke-width="2.3"/>
<path d="M343.7,431.7 L341.4,431.9" stroke-width="2.7"/>
<path d="M999.0,352.8 L998.4,356.8" stroke-width="2.9"/>
<path d="M1015.6,126.5 L1012.8,129.4" stroke-width="2.2"/>
<path d="M382.9,19.6 L380.2,21.3" stroke-width="2.1"/>
<path d="M112.3,159.2 L112.4,161.6" stroke-width="2.5"/>
<path d="M74.5,214.8 L74.3,215.8" stroke-width="2.3"/>
<path d="M709.3,24.4 L709.3,25.0" stroke-width="2.8"/>
<path d="M669.6,36.2 L667.6,38.7" stroke-width="2.9"/>
<path d="M86.5,63.5 L86.2,63.8" stroke-width="2.7"/>
<path d="M999.0,546.7 L995.9,549.2" stroke-width="2.1"/>
<path d="M926.7,656.9 L926.8,657.5" stroke-width="2.5"/>
<path d="M925.0,639.3 L924.7,639.6" stroke-width="2.6"/>
<path d="M75.3,273.3 L73.0,276.5" stroke-width="2.2"/>
<path d="M836.6,29.4 L834.2,29.6" stroke-width="2.6"/>
<path d="M952.3,31.3 L952.4,31.7" stroke-width="2.1"/>
<path d="M343.1,404.3 L342.5,404.4" stroke-width="2.3"/>
<path d="M876.2,608.6 L873.3,609.7" stroke-width="2.6"/>
<path d="M99.2,301.2 L102.4,303.6" stroke-width="2.7"/>
<path d="M152.2,416.2 L153.9,418.9" stroke-width="2.6"/>
<path d="M761.4,587.5 L759.5,591.1" stroke-width="2.1"/>
<path d="M539.5,59.7 L534.7,59.8" stroke-width="2.8"/>
<path d="M1002.5,382.8 L1001.0,386.6" stroke-width="2.7"/>
<path d="M277.2,467.9 L277.4,468.8" stroke-width="2.1"/>
<path d="M1011.5,55.6 L1011.3,56.0" stroke-width="2.7"/>
<path d="M75.0,188.6 L73.7,191.6" stroke-width="2.7"/>
<path d="M76.6,366.1 L81.2,367.7" stroke-width="2.8"/>
<path d="M534.5,540.1 L537.8,543.6" stroke-width="2.3"/>
<path d="M337.8,446.1 L339.9,447.3" stroke-width="2.3"/>
<path d="M908.3,33.5 L908.0,33.7" stroke-width="2.7"/>
<path d="M428.4,144.2 L432.1,145.7" stroke-width="2.4"/>
<path d="M81.0,82.7 L79.1,84.2" stroke-width="2.8"/>
<path d="M127.9,19.5 L127.6,19.8" stroke-width="2.8"/>
<path d="M482.5,48.8 L482.7,49.1" stroke-width="2.9"/>
<path d="M979.8,220.6 L979.5,224.6" stroke-width="2.5"/>
<path d="M983.7,397.3 L984.1,397.4" stroke-width="2.3"/>
<path d="M1006.3,371.3 L1006.5,371.9" stroke-width="2.2"/>
<path d="M215.7,440.9 L211.7,441.1" stroke-width="2.5"/>
<path d="M985.6,332.7 L986.5,333.0" stroke-width="2.3"/>
<path d="M521.1,513.2 L519.2,514.7" stroke-width="2.4"/>
<path d="M91.2,426.3 L90.2,426.6" stroke-width="2.7"/>
<path d="M1015.6,99.1 L1014.8,99.7" stroke-width="2.1"/>
<path d="M76.2,415.6 L79.1,417.0" stroke-width="2.7"/>
<path d="M76.5,143.0 L76.7,145.4" stroke-width="2.7"/>
<path d="M892.7,27.0 L896.2,30.3" stroke-width="2.3"/>
<path d="M425.9,174.7 L421.2,175.7" stroke-width="2.6"/>
<path d="M509.1,542.2 L508.5,542.2" stroke-width="2.7"/>
<path d="M623.7,32.9 L620.2,34.9" stroke-width="2.3"/>
<path d="M86.7,94.5 L83.7,98.2" stroke-width="2.5"/>
<path d="M109.1,238.3 L111.1,239.6" stroke-width="2.4"/>
<path d="M93.0,189.0 L94.3,192.8" stroke-width="2.4"/>
<path d="M981.4,623.1 L980.2,625.2" stroke-width="2.5"/>
<path d="M989.2,457.8 L988.8,457.9" stroke-width="2.3"/>
<path d="M999.8,525.2 L1001.6,528.8" stroke-width="2.5"/>
<path d="M854.1,622.0 L854.3,622.4" stroke-width="2.3"/>
<path d="M488.2,39.7 L487.2,42.8" stroke-width="2.2"/>
<path d="M1001.0,597.5 L1000.3,599.8" stroke-width="2.5"/>
<path d="M996.2,176.8 L991.8,178.8" stroke-width="2.8"/>
<path d="M703.8,37.2 L704.3,37.5" stroke-width="2.6"/>
<path d="M913.8,31.2 L914.6,31.9" stroke-width="2.3"/>
<path d="M1010.1,590.3 L1011.3,594.1" stroke-width="2.6"/>
<path d="M501.4,534.3 L501.1,534.9" stroke-width="2.4"/>
<path d="M1017.7,486.5 L1016.4,488.5" stroke-width="2.3"/>
<path d="M825.5,592.2 L829.5,592.3" stroke-width="2.5"/>
<path d="M994.6,75.9 L994.4,76.4" stroke-width="2.8"/>
<path d="M100.9,123.5 L104.3,126.9" stroke-width="2.7"/>
<path d="M872.9,621.8 L873.0,622.7" stroke-width="2.3"/>
<path d="M459.2,27.4 L460.4,29.5" stroke-width="2.1"/>
<path d="M948.9,52.0 L949.2,52.2" stroke-width="2.8"/>
<path d="M990.1,35.4 L990.3,35.8" stroke-width="2.4"/>
<path d="M105.8,126.5 L106.6,130.4" stroke-width="2.4"/>
<path d="M576.0,567.8 L576.2,568.1" stroke-width="2.6"/>
<path d="M314.6,443.2 L313.1,446.0" stroke-width="2.7"/>
<path d="M470.4,67.2 L470.2,70.4" stroke-width="2.2"/>
<path d="M617.4,560.0 L615.6,563.6" stroke-width="2.4"/>
<path d="M352.8,361.9 L349.7,362.4" stroke-width="2.2"/>
<path d="M1014.7,616.7 L1015.7,619.8" stroke-width="2.4"/>
<path d="M998.8,506.3 L997.2,508.1" stroke-width="2.8"/>
<path d="M124.8,26.4 L125.3,28.8" stroke-width="2.5"/>
<path d="M1012.6,139.8 L1012.9,140.2" stroke-width="2.8"/>
<path d="M594.1,532.1 L593.2,532.4" stroke-width="2.8"/>
<path d="M882.0,53.6 L882.4,53.8" stroke-width="2.1"/>
<path d="M95.4,104.1 L95.8,104.2" stroke-width="2.4"/>
<path d="M980.5,559.4 L980.4,559.8" stroke-width="2.2"/>
<path d="M867.8,642.3 L870.9,643.1" stroke-width="2.5"/>
<path d="M75.9,227.2 L77.5,230.0" stroke-width="2.3"/>
<path d="M431.0,44.0 L433.9,45.3" stroke-width="2.4"/>
<path d="M396.2,52.1 L393.1,52.9" stroke-width="2.5"/>
<path d="M447.9,29.8 L450.4,34.0" stroke-width="2.8"/>
<path d="M482.4,41.6 L482.9,41.9" stroke-width="2.3"/>
<path d="M150.9,457.5 L149.9,457.5" stroke-width="2.2"/>
<path d="M685.2,562.3 L686.4,564.4" stroke-width="2.5"/>
<path d="M301.3,496.1 L301.2,496.5" stroke-width="2.2"/>
<path d="M985.7,354.2 L985.3,354.4" stroke-width="2.5"/>
<path d="M618.3,53.2 L618.2,53.6" stroke-width="2.4"/>
<path d="M90.5,208.1 L92.7,210.4" stroke-width="2.3"/>
<path d="M793.7,41.7 L793.5,42.7" stroke-width="2.2"/>
<path d="M886.5,53.6 L890.4,54.1" stroke-width="2.7"/>
<path d="M302.7,23.0 L298.2,24.5" stroke-width="2.9"/>
<path d="M1021.3,268.5 L1021.1,269.1" stroke-width="2.8"/>
<path d="M140.8,13.9 L144.1,17.3" stroke-width="2.1"/>
<path d="M403.3,38.0 L403.4,38.4" stroke-width="2.8"/>
<path d="M1005.9,546.8 L1004.3,548.6" stroke-width="2.3"/>
<path d="M471.5,37.7 L472.7,42.3" stroke-width="2.2"/>
<path d="M993.0,225.5 L995.4,225.8" stroke-width="2.6"/>
<path d="M606.9,29.2 L606.6,32.4" stroke-width="2.7"/>
<path d="M454.9,508.0 L454.4,508.2" stroke-width="2.2"/>
<path d="M95.9,285.7 L94.6,287.8" stroke-width="2.2"/>
<path d="M76.8,140.3 L77.2,140.4" stroke-width="2.3"/>
<path d="M854.6,32.3 L854.0,36.2" stroke-width="2.4"/>
<path d="M326.4,431.0 L323.3,431.7" stroke-width="2.8"/>
<path d="M1000.0,225.6 L1004.6,227.1" stroke-width="2.2"/>
<path d="M104.9,227.1 L103.7,230.9" stroke-width="2.2"/>
<path d="M598.8,548.4 L596.6,549.2" stroke-width="2.2"/>
<path d="M78.8,57.3 L79.2,57.5" stroke-width="2.5"/>
<path d="M190.2,459.2 L193.9,462.2" stroke-width="2.5"/>
<path d="M702.6,560.2 L700.5,564.5" stroke-width="2.8"/>
<path d="M347.6,402.5 L347.4,402.8" stroke-width="2.2"/>
<path d="M1022.8,205.9 L1022.5,209.9" stroke-width="2.6"/>
<path d="M862.9,599.1 L865.8,601.9" stroke-width="2.2"/>
<path d="M944.9,30.4 L941.0,33.2" stroke-width="2.8"/>
<path d="M597.2,42.6 L597.5,43.6" stroke-width="2.4"/>
<path d="M105.4,382.8 L102.0,384.9" stroke-width="2.8"/>
<path d="M425.0,146.2 L424.2,146.9" stroke-width="2.7"/>
<path d="M745.9,598.3 L745.0,598.7" stroke-width="2.8"/>
<path d="M330.9,447.1 L331.4,447.9" stroke-width="2.6"/>
<path d="M896.1,633.6 L896.7,633.7" stroke-width="2.8"/>
<path d="M988.7,623.7 L986.6,628.0" stroke-width="2.3"/>
<path d="M403.6,33.5 L403.9,33.8" stroke-width="2.6"/>
<path d="M860.4,598.1 L858.0,598.3" stroke-width="2.6"/>
<path d="M502.6,513.4 L503.0,513.9" stroke-width="2.5"/>
<path d="M727.2,57.5 L727.1,58.5" stroke-width="2.8"/>
<path d="M109.9,106.9 L110.3,107.3" stroke-width="2.4"/>
<path d="M103.6,196.8 L104.2,197.0" stroke-width="2.9"/>
<path d="M780.1,55.2 L778.8,57.1" stroke-width="2.3"/>
<path d="M712.4,49.5 L712.8,49.7" stroke-width="2.6"/>
<path d="M1014.3,518.1 L1017.3,520.8" stroke-width="2.7"/>
<path d="M321.0,421.8 L317.8,422.0" stroke-width="2.2"/>
<path d="M588.6,546.7 L588.9,547.2" stroke-width="2.5"/>
<path d="M452.4,130.8 L452.9,134.7" stroke-width="2.1"/>
<path d="M987.4,317.0 L985.0,317.7" stroke-width="2.1"/>
<path d="M113.9,436.3 L109.2,436.8" stroke-width="2.6"/>
<path d="M665.0,56.3 L665.2,56.7" stroke-width="2.4"/>
<path d="M588.7,46.1 L589.0,46.3" stroke-width="2.9"/>
<path d="M990.7,402.7 L993.0,403.1" stroke-width="2.6"/>
<path d="M147.2,451.3 L146.7,452.1" stroke-width="2.9"/>
<path d="M1004.1,443.3 L1004.3,443.6" stroke-width="2.3"/>
<path d="M981.1,158.2 L980.5,158.4" stroke-width="2.6"/>
<path d="M647.2,31.9 L650.1,34.6" stroke-width="2.2"/>
<path d="M86.0,129.1 L85.4,133.1" stroke-width="2.5"/>
<path d="M936.3,63.1 L936.1,63.4" stroke-width="2.1"/>
<path d="M503.5,540.7 L503.1,540.8" stroke-width="2.4"/>
<path d="M946.3,44.8 L949.4,45.6" stroke-width="2.7"/>
<path d="M115.0,444.5 L118.2,444.5" stroke-width="2.6"/>
<path d="M546.9,535.7 L549.3,536.0" stroke-width="2.3"/>
<path d="M1001.8,137.7 L1004.9,138.4" stroke-width="2.1"/>
<path d="M873.3,28.3 L872.6,30.6" stroke-width="2.3"/>
<path d="M87.9,421.7 L88.2,421.8" stroke-width="2.8"/>
<path d="M673.7,51.8 L674.0,52.3" stroke-width="2.1"/>
<path d="M876.6,632.8 L878.4,635.4" stroke-width="2.3"/>
<path d="M985.3,253.2 L984.3,253.4" stroke-width="2.5"/>
<path d="M1009.6,608.6 L1009.3,609.1" stroke-width="2.3"/>
<path d="M852.0,611.7 L854.3,612.4" stroke-width="2.8"/>
<path d="M547.7,21.2 L544.8,22.5" stroke-width="2.5"/>
<path d="M434.7,149.7 L434.3,150.1" stroke-width="2.2"/>
<path d="M977.4,602.3 L978.0,602.5" stroke-width="2.4"/>
<path d="M728.1,570.2 L727.7,573.4" stroke-width="2.4"/>
<path d="M1009.9,45.0 L1010.8,47.2" stroke-width="2.4"/>
<path d="M194.7,435.7 L195.3,435.8" stroke-width="2.2"/>
<path d="M1005.5,439.0 L1005.3,439.3" stroke-width="2.4"/>
<path d="M121.5,423.9 L122.3,426.9" stroke-width="2.2"/>
<path d="M672.8,583.4 L670.7,584.5" stroke-width="2.3"/>
<path d="M932.7,37.9 L934.6,41.4" stroke-width="2.7"/>
<path d="M982.7,542.3 L982.2,546.3" stroke-width="2.4"/>
<path d="M442.4,48.0 L442.5,48.3" stroke-width="2.5"/>
<path d="M405.9,53.3 L402.8,56.9" stroke-width="2.5"/>
<path d="M1017.9,569.6 L1020.0,572.0" stroke-width="2.9"/>
<path d="M113.6,447.4 L114.1,447.6" stroke-width="2.6"/>
<path d="M442.1,20.8 L442.1,21.2" stroke-width="2.9"/>
<path d="M644.3,553.6 L644.7,553.8" stroke-width="2.7"/>
<path d="M1007.3,291.2 L1006.8,291.5" stroke-width="2.2"/>
<path d="M575.5,542.6 L575.3,543.0" stroke-width="2.9"/>
<path d="M105.1,74.9 L105.4,78.1" stroke-width="2.8"/>
<path d="M227.9,467.5 L231.1,467.6" stroke-width="2.2"/>
<path d="M469.5,504.6 L468.9,504.6" stroke-width="2.5"/>
<path d="M1008.2,124.1 L1006.3,126.6" stroke-width="2.7"/>
<path d="M162.4,25.4 L162.5,26.0" stroke-width="2.8"/>
<path d="M422.3,48.2 L421.8,48.5" stroke-width="2.7"/>
<path d="M1013.3,620.0 L1012.8,624.0" stroke-width="2.7"/>
<path d="M1014.4,369.6 L1014.6,370.6" stroke-width="2.7"/>
<path d="M537.2,28.0 L537.3,30.4" stroke-width="2.2"/>
<path d="M899.7,41.0 L900.1,41.9" stroke-width="2.6"/>
<path d="M345.1,423.9 L345.6,424.1" stroke-width="2.3"/>
<path d="M920.8,42.0 L923.0,42.8" stroke-width="2.1"/>
<path d="M915.2,42.1 L915.5,43.1" stroke-width="2.2"/>
<path d="M99.1,408.6 L99.0,409.2" stroke-width="2.2"/>
<path d="M980.6,488.1 L981.2,488.4" stroke-width="2.7"/>
<path d="M742.3,601.8 L742.6,602.1" stroke-width="2.5"/>
<path d="M698.5,565.8 L701.7,566.2" stroke-width="2.3"/>
<path d="M1006.7,300.6 L1007.2,300.9" stroke-width="2.4"/>
<path d="M732.3,33.4 L732.0,33.9" stroke-width="2.2"/>
<path d="M624.5,59.2 L626.6,62.6" stroke-width="2.5"/>
<path d="M445.9,46.1 L448.5,48.0" stroke-width="2.8"/>
<path d="M597.6,38.1 L592.9,39.1" stroke-width="2.8"/>
<path d="M102.3,66.9 L103.5,70.7" stroke-width="2.4"/>
<path d="M991.1,631.1 L991.6,631.4" stroke-width="2.6"/>
<path d="M205.1,51.3 L204.6,53.6" stroke-width="2.1"/>
<path d="M669.1,41.2 L670.5,43.2" stroke-width="2.4"/>
<path d="M994.0,504.2 L994.0,509.0" stroke-width="2.5"/>
<path d="M183.8,430.2 L181.5,430.9" stroke-width="2.1"/>
<path d="M978.2,31.5 L978.4,35.4" stroke-width="2.5"/>
<path d="M1020.8,301.6 L1020.2,301.6" stroke-width="2.2"/>
<path d="M100.0,65.2 L100.6,66.0" stroke-width="2.3"/>
<path d="M687.8,44.1 L688.1,44.3" stroke-width="2.4"/>
<path d="M89.1,49.2 L88.8,49.8" stroke-width="2.5"/>
<path d="M724.5,586.8 L726.9,590.9" stroke-width="2.7"/>
<path d="M1018.0,557.7 L1018.3,558.7" stroke-width="2.8"/>
<path d="M593.2,564.8 L594.7,568.5" stroke-width="2.1"/>
<path d="M89.8,192.7 L90.0,193.0" stroke-width="2.8"/>
<path d="M256.6,39.9 L256.0,40.2" stroke-width="2.8"/>
<path d="M364.8,363.0 L367.7,364.4" stroke-width="2.9"/>
<path d="M753.0,39.2 L752.6,39.2" stroke-width="2.4"/>
<path d="M382.8,516.9 L382.2,517.1" stroke-width="2.3"/>
<path d="M709.2,567.0 L704.7,568.7" stroke-width="2.8"/>
<path d="M189.9,55.6 L189.4,56.0" stroke-width="2.3"/>
<path d="M421.1,165.9 L421.5,166.0" stroke-width="2.4"/>
<path d="M853.6,44.3 L851.5,48.6" stroke-width="2.5"/>
<path d="M475.5,533.4 L471.7,534.8" stroke-width="2.5"/>
<path d="M1023.1,304.7 L1018.7,306.6" stroke-width="2.2"/>
<path d="M1012.7,238.4 L1012.5,238.8" stroke-width="2.5"/>
<path d="M133.7,443.8 L131.0,445.7" stroke-width="2.3"/>
<path d="M478.3,69.4 L477.9,69.9" stroke-width="2.8"/>
<path d="M341.3,27.6 L341.7,28.1" stroke-width="2.6"/>
<path d="M184.8,441.6 L188.3,444.9" stroke-width="2.5"/>
<path d="M508.7,31.8 L513.4,33.0" stroke-width="2.8"/>
<path d="M174.3,21.0 L178.8,22.7" stroke-width="2.2"/>
<path d="M544.8,25.9 L545.3,26.3" stroke-width="2.7"/>
<path d="M488.8,512.5 L489.4,512.6" stroke-width="2.3"/>
<path d="M843.4,34.6 L847.4,34.9" stroke-width="2.6"/>
<path d="M170.7,27.9 L174.8,30.4" stroke-width="2.5"/>
<path d="M135.3,441.1 L137.2,443.6" stroke-width="2.4"/>
<path d="M781.3,619.3 L781.3,620.3" stroke-width="2.4"/>
<path d="M400.5,32.7 L398.8,34.4" stroke-width="2.5"/>
<path d="M395.6,503.3 L394.6,506.4" stroke-width="2.5"/>
<path d="M356.5,488.3 L356.8,488.4" stroke-width="2.3"/>
<path d="M981.6,469.5 L986.0,471.4" stroke-width="2.4"/>
<path d="M364.7,481.2 L364.5,483.6" stroke-width="2.3"/>
<path d="M719.1,561.6 L720.2,563.8" stroke-width="2.8"/>
<path d="M928.0,612.5 L926.5,615.3" stroke-width="2.7"/>
<path d="M896.8,57.1 L899.1,57.8" stroke-width="2.9"/>
<path d="M339.6,421.4 L339.1,426.2" stroke-width="2.6"/>
<path d="M290.3,48.0 L289.5,52.8" stroke-width="2.6"/>
<path d="M710.9,34.8 L707.2,36.1" stroke-width="2.7"/>
<path d="M686.9,57.7 L682.9,60.4" stroke-width="2.6"/>
<path d="M999.4,314.1 L1001.1,315.8" stroke-width="2.8"/>
<path d="M1005.3,244.8 L1005.6,245.3" stroke-width="2.5"/>
<path d="M995.1,80.5 L995.5,80.5" stroke-width="2.8"/>
<path d="M109.9,370.6 L107.5,370.9" stroke-width="2.4"/>
<path d="M362.6,51.0 L361.9,55.8" stroke-width="2.8"/>
<path d="M456.8,131.8 L456.2,132.6" stroke-width="2.5"/>
<path d="M351.9,45.8 L352.4,46.2" stroke-width="2.3"/>
<path d="M1019.1,84.6 L1020.0,84.9" stroke-width="2.2"/>
<path d="M84.7,435.3 L84.2,439.2" stroke-width="2.9"/>
<path d="M80.1,86.3 L83.5,88.4" stroke-width="2.9"/>
<path d="M980.2,137.2 L983.1,138.5" stroke-width="2.4"/>
<path d="M737.6,570.5 L735.6,573.9" stroke-width="2.6"/>
<path d="M1005.4,399.0 L1003.9,401.8" stroke-width="2.5"/>
<path d="M753.1,49.5 L753.4,49.7" stroke-width="2.8"/>
<path d="M242.9,40.7 L241.2,45.2" stroke-width="2.5"/>
<path d="M1002.2,306.9 L1001.8,307.0" stroke-width="2.2"/>
<path d="M413.3,489.2 L412.8,489.4" stroke-width="2.3"/>
<path d="M689.9,584.9 L692.3,587.0" stroke-width="2.7"/>
<path d="M994.9,369.4 L993.3,372.2" stroke-width="2.6"/>
<path d="M884.1,25.6 L884.0,25.9" stroke-width="2.6"/>
<path d="M105.1,427.2 L104.8,427.7" stroke-width="2.8"/>
<path d="M352.6,488.1 L353.1,492.9" stroke-width="2.4"/>
<path d="M76.8,211.7 L76.0,212.2" stroke-width="2.6"/>
<path d="M496.3,546.7 L495.7,549.8" stroke-width="2.8"/>
<path d="M977.9,542.8 L978.3,543.0" stroke-width="2.8"/>
<path d="M80.4,122.4 L82.8,122.9" stroke-width="2.2"/>
<path d="M342.1,413.9 L342.8,414.6" stroke-width="2.6"/>
<path d="M695.8,32.9 L694.2,34.7" stroke-width="2.2"/>
<path d="M469.6,36.9 L469.3,37.4" stroke-width="2.6"/>
<path d="M1017.4,329.1 L1013.6,330.3" stroke-width="2.4"/>
<path d="M734.3,39.6 L738.7,41.5" stroke-width="2.6"/>
<path d="M661.7,58.8 L661.9,62.8" stroke-width="2.4"/>
<path d="M465.8,525.7 L465.5,525.9" stroke-width="2.6"/>
<path d="M494.5,46.3 L499.2,46.9" stroke-width="2.5"/>
<path d="M868.1,53.0 L867.7,53.2" stroke-width="2.7"/>
<path d="M99.2,145.9 L99.0,146.5" stroke-width="2.6"/>
<path d="M734.1,43.7 L733.9,44.3" stroke-width="2.6"/>
<path d="M784.8,31.5 L784.8,32.1" stroke-width="2.4"/>
<path d="M988.8,659.0 L991.6,662.9" stroke-width="2.8"/>
<path d="M989.1,162.8 L987.9,164.8" stroke-width="2.5"/>
<path d="M1006.1,519.4 L1004.1,522.8" stroke-width="2.9"/>
<path d="M940.1,50.0 L940.5,50.1" stroke-width="2.5"/>
<path d="M993.2,280.0 L996.1,281.2" stroke-width="2.7"/>
<path d="M193.6,464.0 L191.3,468.3" stroke-width="2.3"/>
<path d="M471.8,114.8 L468.8,118.5" stroke-width="2.5"/>
<path d="M473.0,45.7 L473.3,46.0" stroke-width="2.5"/>
<path d="M1020.7,379.8 L1020.9,380.2" stroke-width="2.3"/>
<path d="M218.4,22.8 L217.4,23.1" stroke-width="2.4"/>
<path d="M107.3,155.1 L103.7,158.2" stroke-width="2.2"/>
<path d="M1002.2,58.2 L1006.7,60.1" stroke-width="2.5"/>
<path d="M288.6,470.9 L289.4,471.6" stroke-width="2.8"/>
<path d="M293.8,32.5 L290.9,33.9" stroke-width="2.3"/>
<path d="M125.5,449.6 L126.3,450.2" stroke-width="2.8"/>
<path d="M84.7,427.6 L85.9,431.4" stroke-width="2.4"/>
<path d="M334.4,412.7 L330.5,413.6" stroke-width="2.2"/>
<path d="M163.1,460.5 L162.2,461.0" stroke-width="2.5"/>
<path d="M91.7,350.6 L88.2,353.8" stroke-width="2.4"/>
<path d="M114.5,199.6 L111.7,201.3" stroke-width="2.1"/>
<path d="M914.2,622.4 L914.3,622.8" stroke-width="2.9"/>
<path d="M998.6,557.0 L999.6,560.0" stroke-width="2.6"/>
<path d="M981.3,639.0 L980.7,642.1" stroke-width="2.5"/>
<path d="M355.4,377.1 L350.9,378.9" stroke-width="2.9"/>
<path d="M355.3,493.2 L359.3,495.8" stroke-width="2.4"/>
<path d="M992.9,148.8 L993.3,148.9" stroke-width="2.2"/>
<path d="M561.2,59.4 L561.1,60.4" stroke-width="2.2"/>
<path d="M75.7,427.8 L77.8,431.2" stroke-width="2.4"/>
<path d="M553.4,523.2 L554.4,527.9" stroke-width="2.6"/>
<path d="M172.7,453.7 L169.1,455.5" stroke-width="2.2"/>
<path d="M588.3,529.0 L588.8,529.8" stroke-width="2.7"/>
<path d="M832.0,61.1 L828.2,64.0" stroke-width="2.7"/>
<path d="M112.6,103.6 L114.9,104.2" stroke-width="2.1"/>
<path d="M248.8,467.1 L252.2,469.1" stroke-width="2.8"/>
<path d="M89.7,323.3 L90.3,323.5" stroke-width="2.6"/>
<path d="M475.1,55.9 L473.3,58.6" stroke-width="2.7"/>
<path d="M560.0,51.6 L560.4,51.7" stroke-width="2.7"/>
<path d="M446.9,127.6 L447.3,127.7" stroke-width="2.7"/>
<path d="M606.6,41.9 L606.0,42.1" stroke-width="2.1"/>
<path d="M495.2,518.6 L495.7,518.9" stroke-width="2.5"/>
<path d="M331.5,403.3 L333.9,403.7" stroke-width="2.6"/>
<path d="M849.1,615.1 L849.4,615.4" stroke-width="2.2"/>
<path d="M937.6,58.7 L936.7,59.0" stroke-width="2.5"/>
<path d="M276.2,51.8 L277.7,55.5" stroke-width="2.4"/>
</g>
<g clip-path="url(#cb)" stroke="#0a0a0a" fill="none" stroke-linecap="round">
<ellipse cx="446.0" cy="248.6" rx="2.9" ry="2.6" stroke-width="2.1" transform="rotate(50 446.0 248.6)"/>
<ellipse cx="379.1" cy="262.2" rx="3.3" ry="3.8" stroke-width="1.9" transform="rotate(76 379.1 262.2)"/>
<ellipse cx="482.3" cy="223.6" rx="2.6" ry="2.8" stroke-width="2.0" transform="rotate(26 482.3 223.6)"/>
<ellipse cx="397.9" cy="276.0" rx="3.0" ry="3.1" stroke-width="2.2" transform="rotate(28 397.9 276.0)"/>
<path d="M397.4,273.0 l1.2,-2.4" stroke-width="1.9"/>
<ellipse cx="452.7" cy="242.7" rx="3.3" ry="3.5" stroke-width="1.9" transform="rotate(58 452.7 242.7)"/>
<path d="M449.5,242.3 l-2.0,-1.7" stroke-width="1.9"/>
<ellipse cx="433.6" cy="255.3" rx="2.6" ry="3.2" stroke-width="2.3" transform="rotate(83 433.6 255.3)"/>
<path d="M436.2,255.3 l2.6,1.9" stroke-width="1.9"/>
<ellipse cx="371.6" cy="297.4" rx="2.8" ry="3.4" stroke-width="2.4" transform="rotate(61 371.6 297.4)"/>
<path d="M374.4,297.3 l2.2,1.4" stroke-width="1.9"/>
<ellipse cx="381.4" cy="280.6" rx="3.0" ry="3.0" stroke-width="2.4" transform="rotate(75 381.4 280.6)"/>
<path d="M382.6,283.4 l-0.4,2.3" stroke-width="1.9"/>
<ellipse cx="459.7" cy="212.4" rx="3.0" ry="3.6" stroke-width="1.9" transform="rotate(70 459.7 212.4)"/>
<path d="M460.5,209.5 l2.0,-1.8" stroke-width="1.9"/>
<ellipse cx="359.9" cy="282.0" rx="3.3" ry="3.0" stroke-width="2.2" transform="rotate(71 359.9 282.0)"/>
<path d="M362.9,280.7 l2.8,0.6" stroke-width="1.9"/>
<ellipse cx="337.3" cy="300.9" rx="2.7" ry="3.1" stroke-width="2.0" transform="rotate(52 337.3 300.9)"/>
<ellipse cx="444.5" cy="226.4" rx="2.8" ry="2.6" stroke-width="2.0" transform="rotate(55 444.5 226.4)"/>
<path d="M447.2,225.7 l2.5,0.9" stroke-width="1.9"/>
<ellipse cx="436.5" cy="241.0" rx="4.0" ry="3.5" fill="#0a0a0a" stroke="none" transform="rotate(78 436.5 241.0)"/>
<ellipse cx="407.1" cy="274.6" rx="2.6" ry="2.3" fill="#0a0a0a" stroke="none" transform="rotate(124 407.1 274.6)"/>
<ellipse cx="471.1" cy="227.8" rx="3.2" ry="2.5" fill="#0a0a0a" stroke="none" transform="rotate(96 471.1 227.8)"/>
<ellipse cx="423.4" cy="259.0" rx="2.8" ry="2.7" fill="#0a0a0a" stroke="none" transform="rotate(60 423.4 259.0)"/>
<ellipse cx="335.8" cy="290.8" rx="4.1" ry="3.8" fill="#0a0a0a" stroke="none" transform="rotate(115 335.8 290.8)"/>
<ellipse cx="321.6" cy="309.3" rx="4.2" ry="3.5" fill="#0a0a0a" stroke="none" transform="rotate(101 321.6 309.3)"/>
<ellipse cx="453.4" cy="227.0" rx="2.8" ry="2.6" fill="#0a0a0a" stroke="none" transform="rotate(125 453.4 227.0)"/>
<ellipse cx="388.9" cy="287.5" rx="3.5" ry="3.5" fill="#0a0a0a" stroke="none" transform="rotate(148 388.9 287.5)"/>
<ellipse cx="333.7" cy="320.1" rx="3.9" ry="3.4" fill="#0a0a0a" stroke="none" transform="rotate(20 333.7 320.1)"/>
<ellipse cx="370.1" cy="280.8" rx="3.7" ry="3.3" fill="#0a0a0a" stroke="none" transform="rotate(27 370.1 280.8)"/>
<ellipse cx="362.9" cy="299.6" rx="3.4" ry="3.4" fill="#0a0a0a" stroke="none" transform="rotate(174 362.9 299.6)"/>
<ellipse cx="411.9" cy="265.0" rx="3.2" ry="2.7" fill="#0a0a0a" stroke="none" transform="rotate(62 411.9 265.0)"/>
<ellipse cx="439.2" cy="265.1" rx="4.1" ry="3.6" fill="#0a0a0a" stroke="none" transform="rotate(99 439.2 265.1)"/>
<ellipse cx="463.4" cy="244.7" rx="3.2" ry="2.5" fill="#0a0a0a" stroke="none" transform="rotate(107 463.4 244.7)"/>
<path d="M470.8,237.1 L466.8,237.6" stroke-width="2.3"/>
<path d="M313.4,291.5 L316.2,293.0" stroke-width="2.6"/>
<path d="M376.4,273.7 L371.6,273.9" stroke-width="2.1"/>
<path d="M382.1,287.5 L379.3,288.9" stroke-width="2.1"/>
<path d="M405.3,258.0 L405.5,258.6" stroke-width="2.6"/>
<path d="M336.7,276.6 L341.2,278.4" stroke-width="2.3"/>
<path d="M342.6,274.6 L343.6,274.9" stroke-width="2.8"/>
<path d="M321.3,288.2 L321.7,288.3" stroke-width="2.3"/>
<path d="M420.8,266.8 L419.1,270.4" stroke-width="2.8"/>
<path d="M345.0,311.5 L344.6,315.5" stroke-width="2.5"/>
<path d="M373.2,254.3 L373.5,259.1" stroke-width="2.3"/>
<path d="M353.5,304.6 L352.9,304.7" stroke-width="2.3"/>
<path d="M417.1,234.9 L417.1,235.5" stroke-width="2.1"/>
<path d="M346.9,297.3 L345.5,301.0" stroke-width="2.1"/>
<path d="M476.6,232.1 L479.7,235.8" stroke-width="2.3"/>
<path d="M423.7,231.8 L424.1,231.9" stroke-width="2.1"/>
<path d="M426.2,246.0 L428.5,246.8" stroke-width="2.9"/>
<path d="M393.8,282.7 L393.1,285.8" stroke-width="2.3"/>
<path d="M418.0,264.4 L417.3,266.7" stroke-width="2.1"/>
<path d="M434.0,227.4 L432.7,229.5" stroke-width="2.5"/>
<path d="M384.0,273.4 L386.7,275.2" stroke-width="2.6"/>
<path d="M327.9,283.7 L324.7,283.8" stroke-width="2.1"/>
<path d="M355.8,274.4 L356.4,274.5" stroke-width="2.2"/>
<path d="M325.3,290.7 L326.7,293.6" stroke-width="2.3"/>
<path d="M360.3,306.1 L360.9,306.3" stroke-width="2.3"/>
<path d="M350.1,310.3 L349.2,310.9" stroke-width="2.3"/>
<path d="M378.1,293.4 L377.8,293.9" stroke-width="2.5"/>
<path d="M456.7,232.1 L456.8,232.7" stroke-width="2.3"/>
<path d="M420.7,245.0 L420.6,249.8" stroke-width="2.4"/>
<path d="M389.4,251.8 L387.5,255.3" stroke-width="2.5"/>
<path d="M431.8,262.9 L430.4,264.9" stroke-width="2.2"/>
<path d="M397.2,268.8 L396.8,269.7" stroke-width="2.2"/>
<path d="M363.0,275.1 L362.5,276.0" stroke-width="2.2"/>
<path d="M370.6,262.2 L371.0,265.3" stroke-width="2.4"/>
<path d="M393.2,253.3 L393.2,253.7" stroke-width="2.1"/>
<path d="M340.7,318.5 L340.4,319.5" stroke-width="2.4"/>
<path d="M388.1,281.9 L388.4,282.1" stroke-width="2.3"/>
<path d="M349.6,303.0 L349.3,303.5" stroke-width="2.3"/>
<path d="M371.7,272.1 L366.9,272.3" stroke-width="2.7"/>
<path d="M354.5,289.8 L354.7,292.2" stroke-width="2.7"/>
<path d="M405.8,244.8 L406.0,245.0" stroke-width="2.6"/>
<path d="M392.5,269.3 L393.0,269.5" stroke-width="2.4"/>
<path d="M350.4,275.5 L354.4,278.1" stroke-width="2.9"/>
<path d="M388.3,267.7 L387.7,272.5" stroke-width="2.9"/>
<path d="M469.6,221.9 L464.8,222.1" stroke-width="2.5"/>
<path d="M462.7,224.1 L462.7,225.1" stroke-width="2.2"/>
<path d="M458.9,248.5 L459.1,248.8" stroke-width="2.8"/>
<path d="M399.7,246.7 L396.5,250.2" stroke-width="2.8"/>
<path d="M326.6,314.6 L326.8,315.2" stroke-width="2.3"/>
<path d="M389.6,249.8 L392.8,250.2" stroke-width="2.8"/>
<path d="M424.2,265.1 L423.8,265.1" stroke-width="2.7"/>
<path d="M399.6,263.5 L398.8,267.4" stroke-width="2.4"/>
<path d="M487.2,235.7 L487.4,236.3" stroke-width="2.9"/>
<path d="M415.9,238.5 L417.5,240.3" stroke-width="2.3"/>
<path d="M464.6,208.6 L466.7,209.8" stroke-width="2.8"/>
<path d="M417.8,252.5 L417.4,252.5" stroke-width="2.5"/>
<path d="M482.4,234.7 L483.0,234.7" stroke-width="2.8"/>
<path d="M315.2,295.8 L312.6,299.8" stroke-width="2.9"/>
</g>
<path d="M73.8,14.3 L335.0,19.0 L605.0,22.3 L880.0,25.0 L1021.0,25.2" stroke="#0a0a0a" stroke-width="2.4" fill="none" stroke-linecap="square" stroke-linejoin="round"/>
<path d="M1020.9,24.0 L1018.7,330.0 L1016.5,682.2" stroke="#0a0a0a" stroke-width="6.4" fill="none" stroke-linecap="butt" stroke-linejoin="round"/>
<path d="M1016.5,678.9 L800.0,624.9 L700.0,600.2 L580.0,569.3 L480.0,543.8 L380.0,516.8 L280.0,490.0 L150.0,455.5 L72.5,435.2" stroke="#0a0a0a" stroke-width="5.2" fill="none" stroke-linecap="butt" stroke-linejoin="round"/>
<path d="M73.8,14.3 L74.3,100.0 L74.0,250.0 L72.5,435.2" stroke="#0a0a0a" stroke-width="3.1" fill="none" stroke-linecap="square" stroke-linejoin="round"/>
<circle cx="74.2" cy="434.3" r="2.2" fill="#0a0a0a"/>
<path d="M115.0,54.5 L330.0,58.3 L453.0,59.8" stroke="#0a0a0a" stroke-width="2.4" fill="none" stroke-linecap="square" stroke-linejoin="round"/>
<path d="M496.3,60.3 L605.0,61.6 L880.0,64.8 L980.5,66.0" stroke="#0a0a0a" stroke-width="2.4" fill="none" stroke-linecap="square" stroke-linejoin="round"/>
<path d="M980.5,66.0 L978.8,330.0 L976.5,624.5" stroke="#0a0a0a" stroke-width="2.6" fill="none" stroke-linecap="square" stroke-linejoin="round"/>
<path d="M344.3,463.6 L480.0,500.6 L580.0,526.1 L700.0,557.6 L800.0,582.1 L976.5,624.5" stroke="#0a0a0a" stroke-width="2.4" fill="none" stroke-linecap="square" stroke-linejoin="round"/>
<path d="M111.3,404.0 L307.0,452.3" stroke="#0a0a0a" stroke-width="2.4" fill="none" stroke-linecap="square" stroke-linejoin="round"/>
<path d="M115.6,54.5 L113.5,250.0 L111.9,404.0" stroke="#0a0a0a" stroke-width="4.4" fill="none" stroke-linecap="square" stroke-linejoin="round"/>
<path d="M453.0,59.8 L410.8,177.5" stroke="#0a0a0a" stroke-width="2.4" fill="none" stroke-linecap="butt" stroke-linejoin="round"/>
<path d="M409.8,177.5 L456.4,177.5" stroke="#0a0a0a" stroke-width="3.2" fill="none" stroke-linecap="butt" stroke-linejoin="round"/>
<path d="M455.4,177.5 L496.3,60.3" stroke="#0a0a0a" stroke-width="3.4" fill="none" stroke-linecap="butt" stroke-linejoin="round"/>
<path d="M307.0,452.3 L345.5,352.3" stroke="#0a0a0a" stroke-width="2.4" fill="none" stroke-linecap="butt" stroke-linejoin="round"/>
<path d="M344.5,352.3 L390.9,352.8" stroke="#0a0a0a" stroke-width="2.4" fill="none" stroke-linecap="butt" stroke-linejoin="round"/>
<path d="M389.4,352.8 L344.3,463.6" stroke="#0a0a0a" stroke-width="3.8" fill="none" stroke-linecap="butt" stroke-linejoin="round"/>
<path d="M303.3,295.9 L462.6,206.5" stroke="#0a0a0a" stroke-width="2.4" fill="none" stroke-linecap="round" stroke-linejoin="round"/>
<path d="M462.6,206.5 L495.5,233.6" stroke="#0a0a0a" stroke-width="2.0" fill="none" stroke-linecap="round" stroke-linejoin="round"/>
<path d="M495.5,233.6 L334.8,324.0" stroke="#0a0a0a" stroke-width="3.8" fill="none" stroke-linecap="round" stroke-linejoin="round"/>
<path d="M334.8,324.0 L303.3,295.9" stroke="#0a0a0a" stroke-width="2.0" fill="none" stroke-linecap="round" stroke-linejoin="round"/>
<path d="M399,193 L399,318.5 M319.6,264.6 L473,264.6" stroke="#0a0a0a" fill="none" stroke-width="1.8"/>
<ellipse cx="398" cy="265.5" rx="6.6" ry="6.2" fill="#0a0a0a"/>
<path d="M125.9,400.4 L162.6,401.0 M180.0,401.2 L206.8,401.7 M224.5,402.0 L254.5,402.5 M269.4,402.9 L301.5,403.6 M318.0,404.0 L393.6,405.7 M410.0,406.1 L443.0,407.0 M463.6,407.5 L494.3,408.1 M509.0,408.4 L545.5,409.0 M567.0,409.4 L595.0,409.8 M617.2,410.1 L649.6,410.5 M666.7,410.8 L702.5,411.4 M717.9,411.7 L745.2,412.1 M761.8,412.1 L795.4,412.3 M808.8,412.3 L844.0,412.6 M859.0,412.7 L904.5,413.2 M921.0,413.4 L955.0,413.9 M976.7,414.2 L1008.5,414.5 " stroke="#0a0a0a" fill="none" stroke-width="2"/>
<path d="M28.6,398.8 L72,398.9 L111,399.8 M33.1,345 L33.1,413" stroke="#0a0a0a" fill="none" stroke-width="2"/>
<path d="M33.7,330 L27.2,359.5 L33.4,356.5 L40.6,359.5 Z" fill="#0a0a0a"/>
<path d="M1025,414.5 L1065,414.5 M1065,380 L1065,436.2" stroke="#0a0a0a" fill="none" stroke-width="2"/>
<path d="M1065.6,363.5 L1058.2,390 L1065,388 L1072.8,390.6 Z" fill="#0a0a0a"/>
<circle cx="229.2" cy="129.6" r="30" stroke="#0a0a0a" fill="none" stroke-width="2.9"/>
<circle cx="229.2" cy="129.6" r="12.4" stroke="#0a0a0a" fill="none" stroke-width="2.5"/>
<circle cx="229.2" cy="129.6" r="0.8" fill="#333"/>
<circle cx="214.5" cy="113.3" r="5.6" stroke="#0a0a0a" fill="none" stroke-width="2.2"/>
<circle cx="243.1" cy="113.3" r="5.6" stroke="#0a0a0a" fill="none" stroke-width="2.2"/>
<circle cx="212.9" cy="143.5" r="5.6" stroke="#0a0a0a" fill="none" stroke-width="2.2"/>
<circle cx="243.5" cy="143.1" r="5.6" stroke="#0a0a0a" fill="none" stroke-width="2.2"/>
<rect x="199.8" y="157.8" width="57.8" height="11.2" stroke="#0a0a0a" fill="none" stroke-width="2.7"/>
<path d="M218.6,169 L218.6,187.3" stroke="#0a0a0a" fill="none" stroke-width="2"/>
<path d="M235.7,169 L235.7,196.5" stroke="#0a0a0a" fill="none" stroke-width="2"/>
<circle cx="735.5" cy="138.2" r="29.7" stroke="#0a0a0a" fill="none" stroke-width="3.3"/>
<circle cx="735.5" cy="138.2" r="13.8" stroke="#0a0a0a" fill="none" stroke-width="2.9"/>
<circle cx="735.5" cy="138.2" r="0.8" fill="#333"/>
<circle cx="721.8" cy="120.9" r="5.8" stroke="#0a0a0a" fill="none" stroke-width="2.2"/>
<circle cx="751.4" cy="123.3" r="5.8" stroke="#0a0a0a" fill="none" stroke-width="2.2"/>
<circle cx="718.8" cy="152.5" r="5.8" stroke="#0a0a0a" fill="none" stroke-width="2.2"/>
<circle cx="750.4" cy="155.1" r="5.8" stroke="#0a0a0a" fill="none" stroke-width="2.2"/>
<rect x="703.7" y="166.2" width="58.8" height="9.8" stroke="#0a0a0a" fill="none" stroke-width="2.7"/>
<path d="M722.9,176 L722.9,197.3" stroke="#0a0a0a" fill="none" stroke-width="2"/>
<path d="M744.9,176 L744.9,202.4" stroke="#0a0a0a" fill="none" stroke-width="2"/>
<path d="M225.1,385.6 L198,338.9 L253.6,341.3" stroke="#0a0a0a" fill="none" stroke-width="2.5" stroke-linejoin="miter"/>
<path d="M253.6,341.3 L225.1,385.6" stroke="#0a0a0a" fill="none" stroke-width="3.5" stroke-linecap="round"/>
<rect x="197.5" y="387.6" width="57.8" height="9.0" stroke="#0a0a0a" fill="none" stroke-width="2.9"/>
<path d="M215.1,396.6 L215.1,416.2" stroke="#0a0a0a" fill="none" stroke-width="2"/>
<path d="M232.6,396.6 L232.6,420.6" stroke="#0a0a0a" fill="none" stroke-width="2"/>
<path d="M735.1,458.2 L705.4,407.5 L765.7,408.2" stroke="#0a0a0a" fill="none" stroke-width="2.5" stroke-linejoin="miter"/>
<path d="M765.7,408.2 L735.1,458.2" stroke="#0a0a0a" fill="none" stroke-width="3.5" stroke-linecap="round"/>
<rect x="701.4" y="460.6" width="58.7" height="11.2" stroke="#0a0a0a" fill="none" stroke-width="2.9"/>
<path d="M720.6,471.8 L720.6,501.1" stroke="#0a0a0a" fill="none" stroke-width="2"/>
<path d="M740.9,471.8 L740.9,497.6" stroke="#0a0a0a" fill="none" stroke-width="2"/>
<path d="M115,63.5 L129.5,63.5 L129.1,121.8 L115,121.8" stroke="#0a0a0a" fill="none" stroke-width="2.1"/>
<path d="M115,136.6 L128.9,136.6 L128.5,193 L115,193" stroke="#0a0a0a" fill="none" stroke-width="2.1"/>
<path d="M115,208.5 L128.6,208.5 L128.2,270.1 L115,270.1" stroke="#0a0a0a" fill="none" stroke-width="2.1"/>
<path d="M115,286 L127.9,286 L127.5,340.8 L115,340.8" stroke="#0a0a0a" fill="none" stroke-width="2.1"/>
<path d="M123.4,122.0 L123.4,129.5 M114,129.5 L123.4,129.5" stroke="#0a0a0a" fill="none" stroke-width="1.7"/>
<circle cx="123.4" cy="129.5" r="2.6" fill="#0a0a0a"/>
<path d="M123.2,193.3 L123.2,200.8 M114,200.8 L123.2,200.8" stroke="#0a0a0a" fill="none" stroke-width="1.7"/>
<circle cx="123.2" cy="200.8" r="2.6" fill="#0a0a0a"/>
<path d="M122.8,270.5 L122.8,278 M114,278 L122.8,278" stroke="#0a0a0a" fill="none" stroke-width="1.7"/>
<circle cx="122.8" cy="278" r="2.6" fill="#0a0a0a"/>
<path d="M122.4,344.9 L122.4,352.4 M114,352.4 L122.4,352.4" stroke="#0a0a0a" fill="none" stroke-width="1.7"/>
<circle cx="122.4" cy="352.4" r="2.6" fill="#0a0a0a"/>
<path d="M259.2,117 C266,108 278,104.5 289.4,105.1" stroke="#0a0a0a" fill="none" stroke-width="2.2" stroke-linecap="round" stroke-linejoin="round"/>
<path d="M765.7,134.1 C778,135 786,119 802.4,117.8" stroke="#0a0a0a" fill="none" stroke-width="2.2" stroke-linecap="round" stroke-linejoin="round"/>
<path d="M241.7,356.7 L275,352.4" stroke="#0a0a0a" fill="none" stroke-width="2.2" stroke-linecap="round" stroke-linejoin="round"/>
<path d="M750,437.2 C765,442 785,432 804.2,442.5" stroke="#0a0a0a" fill="none" stroke-width="2.2" stroke-linecap="round" stroke-linejoin="round"/>
<path d="M466,246 C472,262 486,252 505,258" stroke="#0a0a0a" fill="none" stroke-width="2.2" stroke-linecap="round" stroke-linejoin="round"/>
<path d="M129.9,167.6 C140,172 148,176 152.9,188.7" stroke="#0a0a0a" fill="none" stroke-width="2.2" stroke-linecap="round" stroke-linejoin="round"/>
<path d="M129.5,213 C140,212 146,197 159.1,196.1" stroke="#0a0a0a" fill="none" stroke-width="2.2" stroke-linecap="round" stroke-linejoin="round"/>
<path d="M35.2,80.4 C36,95 48,99.5 72.5,100.3" stroke="#0a0a0a" fill="none" stroke-width="2.2" stroke-linecap="round" stroke-linejoin="round"/>
<path d="M73,100.3 L65,97.8 L65,102.6 Z" fill="#0a0a0a"/>
<path d="M30.2,59.8 L18.1,79.1" stroke="#0a0a0a" fill="none" stroke-width="2.5" stroke-linecap="round" stroke-linejoin="round"/>
<ellipse cx="39" cy="71" rx="7" ry="9.5" transform="rotate(28 39 71)" stroke="#0a0a0a" fill="none" stroke-width="2.5" stroke-linecap="round" stroke-linejoin="round"/>
<path d="M310.5,88 L297,112.5" stroke="#0a0a0a" fill="none" stroke-width="2.5" stroke-linecap="round" stroke-linejoin="round"/>
<path d="M335,90.5 L319.5,92.5 L314,103 C322,99.5 330,101 328.5,107 C327,113 317,114.5 311.5,111" stroke="#0a0a0a" fill="none" stroke-width="2.5" stroke-linecap="round" stroke-linejoin="round"/>
<path d="M817.5,105.5 L804.5,126" stroke="#0a0a0a" fill="none" stroke-width="2.5" stroke-linecap="round" stroke-linejoin="round"/>
<path d="M830.5,108.5 C826,104.5 819,107 820.5,112 C822,116.5 829,116.5 828.5,121.5 C828,126.5 817,127.5 816,121.5 C815.2,116 824,115.5 828,112 C830,110.2 830.8,109 830.5,108.5 Z" stroke="#0a0a0a" fill="none" stroke-width="2.5" stroke-linecap="round" stroke-linejoin="round"/>
<path d="M291.5,342.5 L279,366" stroke="#0a0a0a" fill="none" stroke-width="2.5" stroke-linecap="round" stroke-linejoin="round"/>
<path d="M308,345 C299,348 292.5,355.5 292.5,361.5 C292.5,367.5 302.5,368 305,362.5 C306.5,358 300,355.5 294,359.5" stroke="#0a0a0a" fill="none" stroke-width="2.5" stroke-linecap="round" stroke-linejoin="round"/>
<path d="M819.9,434.6 L806,456.5" stroke="#0a0a0a" fill="none" stroke-width="2.5" stroke-linecap="round" stroke-linejoin="round"/>
<path d="M838,440.5 C834,435 825.5,437 824.5,443 C823.8,448.5 832.5,448.5 837,442.5 C838,441.3 838.2,440.5 838,440.5 C838,447 833,456 824,457" stroke="#0a0a0a" fill="none" stroke-width="2.5" stroke-linecap="round" stroke-linejoin="round"/>
<path d="M521,253.5 L509,273.5" stroke="#0a0a0a" fill="none" stroke-width="2.5" stroke-linecap="round" stroke-linejoin="round"/>
<path d="M524.5,259.5 C528,253.5 537.5,254 537,259.5 C536.5,265 526,268 520.5,273.5 L535.5,272" stroke="#0a0a0a" fill="none" stroke-width="2.5" stroke-linecap="round" stroke-linejoin="round"/>
<path d="M163.5,193 C166,187 175.5,187 175,192.5 C174.5,198 165.5,201 161,206.5 L174,205.5" stroke="#0a0a0a" fill="none" stroke-width="2.5" stroke-linecap="round" stroke-linejoin="round"/>
<path d="M190.5,187.5 L179.5,207" stroke="#0a0a0a" fill="none" stroke-width="2.5" stroke-linecap="round" stroke-linejoin="round"/>
<path d="M1096.5,397.7 C1100,393.5 1111.5,393 1111.3,398.5 C1111,403.5 1104,406.5 1100.5,407.3 C1106,406.5 1112.5,408 1111.8,412.9 C1111,419 1103,422.5 1099.7,422 C1094,422 1090,420 1088.8,417.2" stroke="#0a0a0a" fill="none" stroke-width="2.5" stroke-linecap="round" stroke-linejoin="round"/>
<path d="M181,271.8 L193.2,271.8 M187.6,271.3 L209.3,244" stroke="#0a0a0a" fill="none" stroke-width="2.5" stroke-linecap="round" stroke-linejoin="round" stroke-width="2.4"/>
<path d="M209.5,243.8 L209,272 M203.9,272.3 L213.6,272.3 M198.3,258.8 L209,259.6" stroke="#0a0a0a" fill="none" stroke-width="2.5" stroke-linecap="round" stroke-linejoin="round" stroke-width="3"/>
<path d="M713.5,276.9 L719.1,276.5 L730.3,247.9 M725.7,247.3 L743.1,247.6 C747.5,248 747.5,252.5 744.5,255 C741.5,257.6 737,259.3 733.9,259.6 C739,259 746.5,260.5 745.8,266 C745,272.5 740,276.5 734.9,276.7 L719.1,276.6" stroke="#0a0a0a" fill="none" stroke-width="2.5" stroke-linecap="round" stroke-linejoin="round" stroke-width="2.8"/>
<circle cx="265.1" cy="373.3" r="0.6" fill="#555"/>
<circle cx="672.8" cy="429.2" r="0.4" fill="#555"/>
<circle cx="14.7" cy="574.5" r="0.6" fill="#555"/>
<circle cx="261.0" cy="683.0" r="0.7" fill="#555"/>
<circle cx="931.8" cy="326.8" r="0.8" fill="#555"/>
<circle cx="167.8" cy="435.5" r="0.9" fill="#555"/>
<circle cx="582.8" cy="508.5" r="0.8" fill="#555"/>
<circle cx="71.3" cy="520.1" r="0.8" fill="#555"/>
<circle cx="335.6" cy="21.3" r="0.9" fill="#555"/>
<circle cx="526.6" cy="493.1" r="0.9" fill="#555"/>
<circle cx="795.5" cy="631.9" r="0.6" fill="#555"/>
<circle cx="892.2" cy="305.0" r="1.0" fill="#555"/>
<circle cx="979.1" cy="66.9" r="0.5" fill="#555"/>
<circle cx="241.7" cy="662.3" r="0.7" fill="#555"/>
<circle cx="698.1" cy="206.5" r="0.7" fill="#555"/>
<circle cx="429.9" cy="240.7" r="0.8" fill="#555"/>
<circle cx="650.9" cy="620.3" r="0.8" fill="#555"/>
<circle cx="1034.8" cy="587.5" r="1.0" fill="#555"/>
<circle cx="747.8" cy="111.9" r="0.9" fill="#555"/>
<circle cx="1074.6" cy="620.6" r="0.7" fill="#555"/>
<circle cx="795.2" cy="144.8" r="0.9" fill="#555"/>
<circle cx="638.9" cy="195.5" r="0.4" fill="#555"/>
<circle cx="951.3" cy="679.0" r="0.5" fill="#555"/>
<circle cx="891.9" cy="281.6" r="0.5" fill="#555"/>
<circle cx="327.4" cy="527.4" r="0.9" fill="#555"/>
<circle cx="49.2" cy="421.6" r="0.4" fill="#555"/>
<circle cx="800.3" cy="227.0" r="0.9" fill="#555"/>
<circle cx="1092.4" cy="346.7" r="1.0" fill="#555"/>
<circle cx="345.0" cy="52.8" r="0.8" fill="#555"/>
<circle cx="35.0" cy="135.4" r="0.6" fill="#555"/>
<circle cx="680.1" cy="107.2" r="0.4" fill="#555"/>
<circle cx="966.7" cy="215.3" r="1.0" fill="#555"/>
<circle cx="998.9" cy="259.2" r="0.7" fill="#555"/>
<circle cx="579.4" cy="441.7" r="0.8" fill="#555"/>
<circle cx="623.0" cy="425.4" r="1.0" fill="#555"/>
<circle cx="564.8" cy="295.8" r="0.8" fill="#555"/>
<circle cx="264.7" cy="206.5" r="1.0" fill="#555"/>
<circle cx="580.5" cy="376.2" r="0.4" fill="#555"/>
<circle cx="462.5" cy="397.9" r="0.4" fill="#555"/>
<circle cx="686.0" cy="433.7" r="0.4" fill="#555"/>
<circle cx="698.9" cy="319.8" r="0.8" fill="#555"/>
<circle cx="392.8" cy="485.0" r="0.8" fill="#555"/>
<circle cx="24.7" cy="41.6" r="0.8" fill="#555"/>
<circle cx="1073.1" cy="172.3" r="0.7" fill="#555"/>
<circle cx="660.2" cy="219.5" r="0.6" fill="#555"/>
<circle cx="348.3" cy="253.2" r="0.8" fill="#555"/>
<circle cx="334.7" cy="258.7" r="0.9" fill="#555"/>
<circle cx="30.0" cy="390.5" r="0.8" fill="#555"/>
<circle cx="345.4" cy="152.7" r="0.9" fill="#555"/>
<circle cx="265.9" cy="128.6" r="0.7" fill="#555"/>
<circle cx="777.6" cy="69.9" r="0.6" fill="#555"/>
<circle cx="371.8" cy="571.8" r="0.7" fill="#555"/>
<circle cx="953.1" cy="116.1" r="0.6" fill="#555"/>
<circle cx="724.4" cy="607.0" r="0.7" fill="#555"/>
<circle cx="250.7" cy="83.0" r="0.7" fill="#555"/>
<circle cx="212.6" cy="553.4" r="0.9" fill="#555"/>
<circle cx="204.5" cy="191.1" r="0.9" fill="#555"/>
<circle cx="715.1" cy="553.1" r="0.6" fill="#555"/>
<circle cx="144.5" cy="200.3" r="0.9" fill="#555"/>
<circle cx="302.1" cy="237.6" r="0.7" fill="#555"/>
<circle cx="467.6" cy="280.9" r="1.0" fill="#555"/>
<circle cx="173.8" cy="3.2" r="1.0" fill="#555"/>
<circle cx="980.3" cy="677.0" r="0.7" fill="#555"/>
<circle cx="1058.5" cy="636.2" r="0.5" fill="#555"/>
<circle cx="830.5" cy="574.0" r="0.8" fill="#555"/>
<circle cx="578.2" cy="198.3" r="0.6" fill="#555"/>
<circle cx="253.4" cy="46.7" r="0.8" fill="#555"/>
<circle cx="319.7" cy="555.8" r="0.4" fill="#555"/>
<circle cx="1006.6" cy="475.9" r="1.0" fill="#555"/>
<circle cx="998.8" cy="617.2" r="0.7" fill="#555"/>
<circle cx="14.6" cy="511.3" r="0.5" fill="#555"/>
<circle cx="334.1" cy="454.7" r="0.7" fill="#555"/>
<circle cx="460.9" cy="644.2" r="0.8" fill="#555"/>
<circle cx="380.3" cy="173.2" r="0.9" fill="#555"/>
<circle cx="531.6" cy="536.7" r="0.6" fill="#555"/>
<circle cx="219.8" cy="366.8" r="0.9" fill="#555"/>
<circle cx="190.8" cy="543.1" r="1.0" fill="#555"/>
<circle cx="897.9" cy="564.9" r="0.4" fill="#555"/>
<circle cx="700.3" cy="591.7" r="0.4" fill="#555"/>
<circle cx="302.3" cy="184.3" r="0.7" fill="#555"/>
<circle cx="471.2" cy="324.4" r="0.9" fill="#555"/>
<circle cx="2.0" cy="37.6" r="0.5" fill="#555"/>
<circle cx="138.8" cy="46.9" r="1.0" fill="#555"/>
<circle cx="951.9" cy="59.1" r="0.7" fill="#555"/>
<circle cx="351.9" cy="215.8" r="0.6" fill="#555"/>
<circle cx="720.7" cy="402.4" r="0.6" fill="#555"/>
<circle cx="212.9" cy="225.5" r="0.5" fill="#555"/>
<circle cx="618.9" cy="491.2" r="0.6" fill="#555"/>
<circle cx="89.0" cy="122.5" r="0.6" fill="#555"/>
<circle cx="673.3" cy="536.9" r="0.6" fill="#555"/>
<circle cx="892.5" cy="427.3" r="0.7" fill="#555"/>
<circle cx="414.9" cy="340.4" r="0.8" fill="#555"/>
<circle cx="468.5" cy="476.2" r="0.7" fill="#555"/>
<circle cx="273.0" cy="367.6" r="0.8" fill="#555"/>
<circle cx="79.7" cy="291.5" r="0.7" fill="#555"/>
<circle cx="980.0" cy="642.4" r="0.6" fill="#555"/>
<circle cx="1000.2" cy="542.6" r="0.6" fill="#555"/>
<circle cx="517.1" cy="84.5" r="0.9" fill="#555"/>
<circle cx="737.8" cy="608.7" r="0.9" fill="#555"/>
<circle cx="743.7" cy="503.3" r="0.7" fill="#555"/>
<circle cx="114.9" cy="403.2" r="0.4" fill="#555"/>
<circle cx="159.9" cy="531.2" r="0.4" fill="#555"/>
<circle cx="102.3" cy="68.1" r="0.9" fill="#555"/>
<circle cx="199.6" cy="16.1" r="0.9" fill="#555"/>
<circle cx="135.1" cy="578.9" r="0.8" fill="#555"/>
<circle cx="931.5" cy="653.4" r="0.7" fill="#555"/>
<circle cx="889.8" cy="24.9" r="0.9" fill="#555"/>
<circle cx="569.6" cy="490.6" r="0.5" fill="#555"/>
<circle cx="834.3" cy="641.1" r="0.4" fill="#555"/>
<circle cx="361.2" cy="386.9" r="0.9" fill="#555"/>
<circle cx="269.7" cy="123.3" r="0.5" fill="#555"/>
<circle cx="686.2" cy="516.9" r="0.6" fill="#555"/>
<circle cx="409.4" cy="272.1" r="0.6" fill="#555"/>
<circle cx="465.9" cy="57.1" r="0.7" fill="#555"/>
<circle cx="1084.0" cy="283.2" r="0.8" fill="#555"/>
<circle cx="178.9" cy="473.9" r="0.9" fill="#555"/>
<circle cx="750.7" cy="354.7" r="0.7" fill="#555"/>
<circle cx="716.2" cy="615.6" r="0.5" fill="#555"/>
<circle cx="106.8" cy="513.2" r="0.9" fill="#555"/>
<circle cx="576.2" cy="303.9" r="0.8" fill="#555"/>
<circle cx="207.3" cy="183.4" r="0.5" fill="#555"/>
<circle cx="652.4" cy="216.0" r="0.5" fill="#555"/>
<circle cx="769.9" cy="654.0" r="0.6" fill="#555"/>
<circle cx="785.7" cy="283.5" r="0.9" fill="#555"/>
<circle cx="651.3" cy="183.3" r="0.5" fill="#555"/>
<circle cx="25.8" cy="328.9" r="0.6" fill="#555"/>
<circle cx="191.9" cy="247.3" r="0.6" fill="#555"/>
<circle cx="862.5" cy="98.5" r="1.0" fill="#555"/>
<circle cx="534.3" cy="410.9" r="0.7" fill="#555"/>
<circle cx="929.8" cy="563.6" r="0.7" fill="#555"/>
<circle cx="536.2" cy="494.4" r="0.9" fill="#555"/>
<circle cx="445.9" cy="503.2" r="1.0" fill="#555"/>
<circle cx="520.7" cy="157.5" r="0.5" fill="#555"/>
<circle cx="799.5" cy="463.3" r="1.0" fill="#555"/>
<circle cx="951.2" cy="166.1" r="0.5" fill="#555"/>
<circle cx="288.1" cy="128.4" r="0.8" fill="#555"/>
<circle cx="956.5" cy="617.2" r="0.6" fill="#555"/>
<circle cx="963.7" cy="215.0" r="0.7" fill="#555"/>
<circle cx="812.1" cy="58.9" r="0.5" fill="#555"/>
<circle cx="929.0" cy="200.1" r="0.6" fill="#555"/>
<circle cx="646.5" cy="463.4" r="0.4" fill="#555"/>
<circle cx="373.0" cy="299.2" r="0.7" fill="#555"/>
<circle cx="234.0" cy="401.4" r="1.0" fill="#555"/>
<circle cx="435.5" cy="373.4" r="0.5" fill="#555"/>
<circle cx="306.1" cy="456.5" r="0.5" fill="#555"/>
<circle cx="988.3" cy="623.4" r="0.5" fill="#555"/>
<circle cx="1048.6" cy="256.7" r="0.9" fill="#555"/>
<circle cx="843.7" cy="202.7" r="0.8" fill="#555"/>
<circle cx="728.6" cy="553.0" r="0.6" fill="#555"/>
<circle cx="840.2" cy="659.5" r="0.8" fill="#555"/>
<path d="M916,158 L920,163" stroke="#0a0a0a" stroke-width="2.2" stroke-linecap="round"/>
</g>
</svg>
</body></html>
